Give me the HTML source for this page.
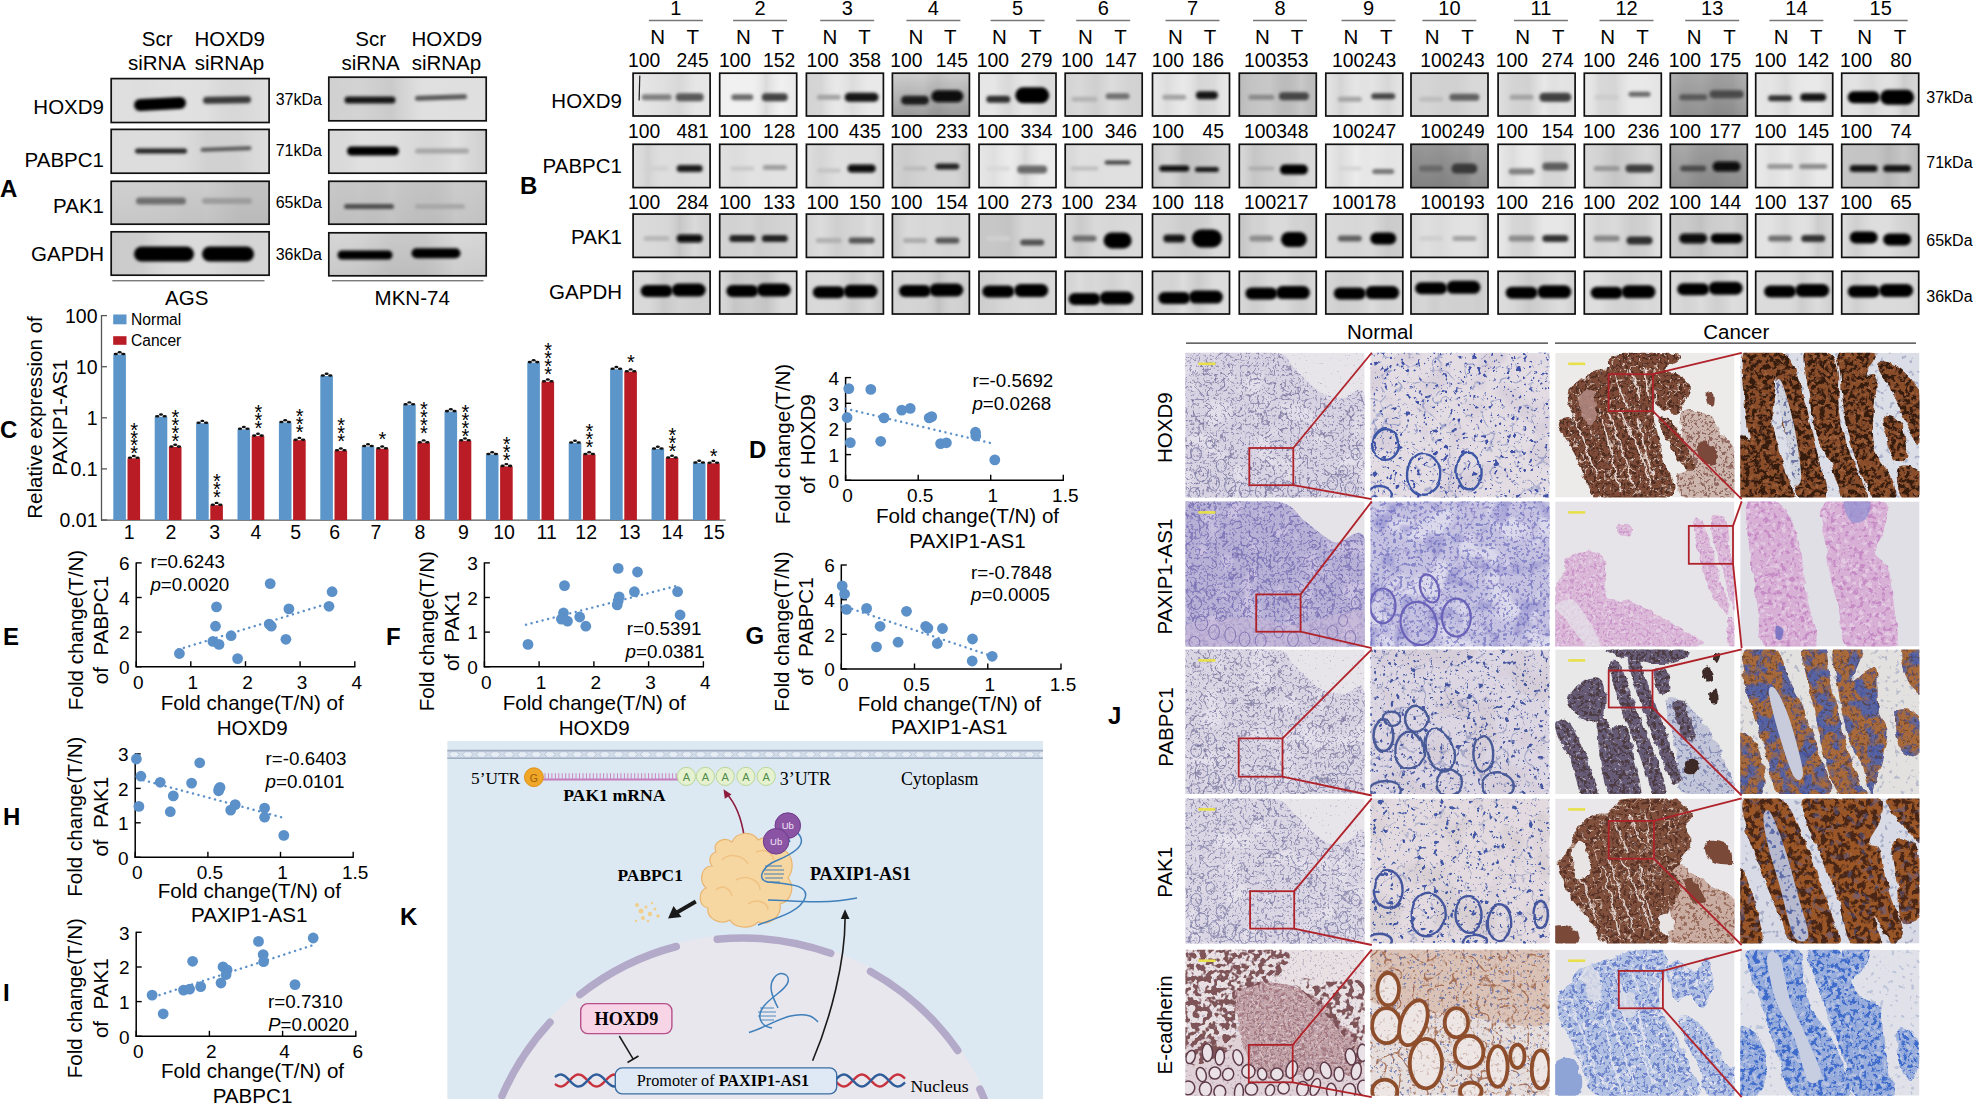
<!DOCTYPE html>
<html><head><meta charset="utf-8"><title>Figure</title><style>html,body{margin:0;padding:0;background:#fff;}svg{display:block;}</style></head><body>
<svg width="1973" height="1104" viewBox="0 0 1973 1104" font-family='"Liberation Sans", Arial, sans-serif'><defs><linearGradient id="ca0s" x1="0" y1="0" x2="1" y2="0"><stop offset="0.0" stop-color="#fff" stop-opacity="0.05"/><stop offset="0.2" stop-color="#fff" stop-opacity="0.00"/><stop offset="0.4" stop-color="#fff" stop-opacity="0.09"/><stop offset="0.6" stop-color="#fff" stop-opacity="0.07"/><stop offset="0.8" stop-color="#000" stop-opacity="0.03"/><stop offset="1.0" stop-color="#fff" stop-opacity="0.03"/></linearGradient>
<clipPath id="ca0"><rect x="110.4" y="77.8" width="159.5" height="45.5"/></clipPath>
<linearGradient id="ca1s" x1="0" y1="0" x2="1" y2="0"><stop offset="0.0" stop-color="#fff" stop-opacity="0.01"/><stop offset="0.2" stop-color="#fff" stop-opacity="0.03"/><stop offset="0.4" stop-color="#fff" stop-opacity="0.02"/><stop offset="0.6" stop-color="#000" stop-opacity="0.05"/><stop offset="0.8" stop-color="#000" stop-opacity="0.05"/><stop offset="1.0" stop-color="#fff" stop-opacity="0.02"/></linearGradient>
<clipPath id="ca1"><rect x="110.4" y="128.6" width="159.5" height="45.4"/></clipPath>
<linearGradient id="ca2g" x1="0" y1="0" x2="0" y2="1"><stop offset="0" stop-color="rgb(205,205,205)"/><stop offset="1" stop-color="rgb(195,195,195)"/></linearGradient>
<linearGradient id="ca2s" x1="0" y1="0" x2="1" y2="0"><stop offset="0.0" stop-color="#fff" stop-opacity="0.07"/><stop offset="0.2" stop-color="#fff" stop-opacity="0.06"/><stop offset="0.4" stop-color="#fff" stop-opacity="0.03"/><stop offset="0.6" stop-color="#000" stop-opacity="0.00"/><stop offset="0.8" stop-color="#000" stop-opacity="0.05"/><stop offset="1.0" stop-color="#000" stop-opacity="0.05"/></linearGradient>
<clipPath id="ca2"><rect x="110.4" y="180.5" width="159.5" height="44.5"/></clipPath>
<linearGradient id="ca3s" x1="0" y1="0" x2="1" y2="0"><stop offset="0.0" stop-color="#000" stop-opacity="0.07"/><stop offset="0.2" stop-color="#000" stop-opacity="0.06"/><stop offset="0.4" stop-color="#fff" stop-opacity="0.02"/><stop offset="0.6" stop-color="#fff" stop-opacity="0.04"/><stop offset="0.8" stop-color="#000" stop-opacity="0.03"/><stop offset="1.0" stop-color="#000" stop-opacity="0.02"/></linearGradient>
<clipPath id="ca3"><rect x="110.4" y="231.0" width="159.5" height="45.0"/></clipPath>
<linearGradient id="cm0s" x1="0" y1="0" x2="1" y2="0"><stop offset="0.0" stop-color="#000" stop-opacity="0.06"/><stop offset="0.2" stop-color="#000" stop-opacity="0.05"/><stop offset="0.4" stop-color="#000" stop-opacity="0.09"/><stop offset="0.6" stop-color="#fff" stop-opacity="0.06"/><stop offset="0.8" stop-color="#fff" stop-opacity="0.04"/><stop offset="1.0" stop-color="#fff" stop-opacity="0.02"/></linearGradient>
<clipPath id="cm0"><rect x="328.0" y="76.4" width="159.0" height="45.2"/></clipPath>
<linearGradient id="cm1s" x1="0" y1="0" x2="1" y2="0"><stop offset="0.0" stop-color="#000" stop-opacity="0.02"/><stop offset="0.2" stop-color="#fff" stop-opacity="0.06"/><stop offset="0.4" stop-color="#fff" stop-opacity="0.03"/><stop offset="0.6" stop-color="#000" stop-opacity="0.03"/><stop offset="0.8" stop-color="#fff" stop-opacity="0.08"/><stop offset="1.0" stop-color="#000" stop-opacity="0.07"/></linearGradient>
<clipPath id="cm1"><rect x="328.0" y="129.0" width="159.0" height="45.0"/></clipPath>
<linearGradient id="cm2g" x1="0" y1="0" x2="0" y2="1"><stop offset="0" stop-color="rgb(200,200,200)"/><stop offset="1" stop-color="rgb(192,192,192)"/></linearGradient>
<linearGradient id="cm2s" x1="0" y1="0" x2="1" y2="0"><stop offset="0.0" stop-color="#fff" stop-opacity="0.02"/><stop offset="0.2" stop-color="#000" stop-opacity="0.00"/><stop offset="0.4" stop-color="#fff" stop-opacity="0.05"/><stop offset="0.6" stop-color="#000" stop-opacity="0.02"/><stop offset="0.8" stop-color="#fff" stop-opacity="0.08"/><stop offset="1.0" stop-color="#fff" stop-opacity="0.02"/></linearGradient>
<clipPath id="cm2"><rect x="328.0" y="180.5" width="159.0" height="44.5"/></clipPath>
<linearGradient id="cm3g" x1="0" y1="0" x2="0" y2="1"><stop offset="0" stop-color="rgb(215,215,215)"/><stop offset="1" stop-color="rgb(200,200,200)"/></linearGradient>
<linearGradient id="cm3s" x1="0" y1="0" x2="1" y2="0"><stop offset="0.0" stop-color="#fff" stop-opacity="0.00"/><stop offset="0.2" stop-color="#000" stop-opacity="0.01"/><stop offset="0.4" stop-color="#000" stop-opacity="0.06"/><stop offset="0.6" stop-color="#000" stop-opacity="0.06"/><stop offset="0.8" stop-color="#fff" stop-opacity="0.07"/><stop offset="1.0" stop-color="#fff" stop-opacity="0.00"/></linearGradient>
<clipPath id="cm3"><rect x="328.0" y="232.0" width="159.0" height="44.6"/></clipPath>
<linearGradient id="cb0_0s" x1="0" y1="0" x2="1" y2="0"><stop offset="0.0" stop-color="#000" stop-opacity="0.00"/><stop offset="0.2" stop-color="#000" stop-opacity="0.02"/><stop offset="0.4" stop-color="#000" stop-opacity="0.04"/><stop offset="0.6" stop-color="#000" stop-opacity="0.07"/><stop offset="0.8" stop-color="#000" stop-opacity="0.01"/><stop offset="1.0" stop-color="#000" stop-opacity="0.01"/></linearGradient>
<clipPath id="cb0_0"><rect x="632.3" y="72.4" width="78.6" height="44.4"/></clipPath>
<linearGradient id="cb1_0s" x1="0" y1="0" x2="1" y2="0"><stop offset="0.0" stop-color="#fff" stop-opacity="0.01"/><stop offset="0.2" stop-color="#000" stop-opacity="0.06"/><stop offset="0.4" stop-color="#fff" stop-opacity="0.00"/><stop offset="0.6" stop-color="#000" stop-opacity="0.01"/><stop offset="0.8" stop-color="#fff" stop-opacity="0.01"/><stop offset="1.0" stop-color="#fff" stop-opacity="0.03"/></linearGradient>
<clipPath id="cb1_0"><rect x="632.3" y="143.5" width="78.6" height="44.9"/></clipPath>
<linearGradient id="cb2_0s" x1="0" y1="0" x2="1" y2="0"><stop offset="0.0" stop-color="#fff" stop-opacity="0.08"/><stop offset="0.2" stop-color="#fff" stop-opacity="0.07"/><stop offset="0.4" stop-color="#fff" stop-opacity="0.02"/><stop offset="0.6" stop-color="#000" stop-opacity="0.08"/><stop offset="0.8" stop-color="#fff" stop-opacity="0.07"/><stop offset="1.0" stop-color="#000" stop-opacity="0.02"/></linearGradient>
<clipPath id="cb2_0"><rect x="632.3" y="213.3" width="78.6" height="44.9"/></clipPath>
<linearGradient id="cb3_0s" x1="0" y1="0" x2="1" y2="0"><stop offset="0.0" stop-color="#fff" stop-opacity="0.04"/><stop offset="0.2" stop-color="#fff" stop-opacity="0.05"/><stop offset="0.4" stop-color="#000" stop-opacity="0.07"/><stop offset="0.6" stop-color="#000" stop-opacity="0.02"/><stop offset="0.8" stop-color="#000" stop-opacity="0.04"/><stop offset="1.0" stop-color="#000" stop-opacity="0.03"/></linearGradient>
<clipPath id="cb3_0"><rect x="632.3" y="270.5" width="78.6" height="44.3"/></clipPath>
<linearGradient id="cb0_1s" x1="0" y1="0" x2="1" y2="0"><stop offset="0.0" stop-color="#fff" stop-opacity="0.02"/><stop offset="0.2" stop-color="#fff" stop-opacity="0.05"/><stop offset="0.4" stop-color="#fff" stop-opacity="0.01"/><stop offset="0.6" stop-color="#000" stop-opacity="0.09"/><stop offset="0.8" stop-color="#fff" stop-opacity="0.04"/><stop offset="1.0" stop-color="#000" stop-opacity="0.03"/></linearGradient>
<clipPath id="cb0_1"><rect x="718.9" y="72.4" width="78.6" height="44.4"/></clipPath>
<linearGradient id="cb1_1s" x1="0" y1="0" x2="1" y2="0"><stop offset="0.0" stop-color="#000" stop-opacity="0.00"/><stop offset="0.2" stop-color="#000" stop-opacity="0.02"/><stop offset="0.4" stop-color="#fff" stop-opacity="0.03"/><stop offset="0.6" stop-color="#fff" stop-opacity="0.01"/><stop offset="0.8" stop-color="#fff" stop-opacity="0.04"/><stop offset="1.0" stop-color="#fff" stop-opacity="0.05"/></linearGradient>
<clipPath id="cb1_1"><rect x="718.9" y="143.5" width="78.6" height="44.9"/></clipPath>
<linearGradient id="cb2_1s" x1="0" y1="0" x2="1" y2="0"><stop offset="0.0" stop-color="#fff" stop-opacity="0.03"/><stop offset="0.2" stop-color="#fff" stop-opacity="0.00"/><stop offset="0.4" stop-color="#fff" stop-opacity="0.08"/><stop offset="0.6" stop-color="#000" stop-opacity="0.01"/><stop offset="0.8" stop-color="#fff" stop-opacity="0.02"/><stop offset="1.0" stop-color="#fff" stop-opacity="0.09"/></linearGradient>
<clipPath id="cb2_1"><rect x="718.9" y="213.3" width="78.6" height="44.9"/></clipPath>
<linearGradient id="cb3_1s" x1="0" y1="0" x2="1" y2="0"><stop offset="0.0" stop-color="#fff" stop-opacity="0.03"/><stop offset="0.2" stop-color="#000" stop-opacity="0.08"/><stop offset="0.4" stop-color="#000" stop-opacity="0.05"/><stop offset="0.6" stop-color="#000" stop-opacity="0.09"/><stop offset="0.8" stop-color="#fff" stop-opacity="0.09"/><stop offset="1.0" stop-color="#fff" stop-opacity="0.08"/></linearGradient>
<clipPath id="cb3_1"><rect x="718.9" y="270.5" width="78.6" height="44.3"/></clipPath>
<linearGradient id="cb0_2s" x1="0" y1="0" x2="1" y2="0"><stop offset="0.0" stop-color="#000" stop-opacity="0.09"/><stop offset="0.2" stop-color="#000" stop-opacity="0.08"/><stop offset="0.4" stop-color="#fff" stop-opacity="0.04"/><stop offset="0.6" stop-color="#000" stop-opacity="0.05"/><stop offset="0.8" stop-color="#fff" stop-opacity="0.04"/><stop offset="1.0" stop-color="#fff" stop-opacity="0.05"/></linearGradient>
<clipPath id="cb0_2"><rect x="805.6" y="72.4" width="78.6" height="44.4"/></clipPath>
<linearGradient id="cb1_2s" x1="0" y1="0" x2="1" y2="0"><stop offset="0.0" stop-color="#fff" stop-opacity="0.07"/><stop offset="0.2" stop-color="#000" stop-opacity="0.04"/><stop offset="0.4" stop-color="#fff" stop-opacity="0.04"/><stop offset="0.6" stop-color="#fff" stop-opacity="0.01"/><stop offset="0.8" stop-color="#fff" stop-opacity="0.01"/><stop offset="1.0" stop-color="#000" stop-opacity="0.05"/></linearGradient>
<clipPath id="cb1_2"><rect x="805.6" y="143.5" width="78.6" height="44.9"/></clipPath>
<linearGradient id="cb2_2s" x1="0" y1="0" x2="1" y2="0"><stop offset="0.0" stop-color="#000" stop-opacity="0.04"/><stop offset="0.2" stop-color="#000" stop-opacity="0.00"/><stop offset="0.4" stop-color="#000" stop-opacity="0.06"/><stop offset="0.6" stop-color="#000" stop-opacity="0.03"/><stop offset="0.8" stop-color="#fff" stop-opacity="0.08"/><stop offset="1.0" stop-color="#000" stop-opacity="0.01"/></linearGradient>
<clipPath id="cb2_2"><rect x="805.6" y="213.3" width="78.6" height="44.9"/></clipPath>
<linearGradient id="cb3_2s" x1="0" y1="0" x2="1" y2="0"><stop offset="0.0" stop-color="#fff" stop-opacity="0.01"/><stop offset="0.2" stop-color="#fff" stop-opacity="0.07"/><stop offset="0.4" stop-color="#fff" stop-opacity="0.04"/><stop offset="0.6" stop-color="#000" stop-opacity="0.06"/><stop offset="0.8" stop-color="#fff" stop-opacity="0.07"/><stop offset="1.0" stop-color="#000" stop-opacity="0.09"/></linearGradient>
<clipPath id="cb3_2"><rect x="805.6" y="270.5" width="78.6" height="44.3"/></clipPath>
<linearGradient id="cb0_3g" x1="0" y1="0" x2="0" y2="1"><stop offset="0" stop-color="rgb(205,205,205)"/><stop offset="1" stop-color="rgb(150,150,150)"/></linearGradient>
<linearGradient id="cb0_3s" x1="0" y1="0" x2="1" y2="0"><stop offset="0.0" stop-color="#fff" stop-opacity="0.07"/><stop offset="0.2" stop-color="#fff" stop-opacity="0.02"/><stop offset="0.4" stop-color="#fff" stop-opacity="0.07"/><stop offset="0.6" stop-color="#000" stop-opacity="0.04"/><stop offset="0.8" stop-color="#fff" stop-opacity="0.01"/><stop offset="1.0" stop-color="#000" stop-opacity="0.02"/></linearGradient>
<clipPath id="cb0_3"><rect x="891.6" y="72.4" width="78.6" height="44.4"/></clipPath>
<linearGradient id="cb1_3s" x1="0" y1="0" x2="1" y2="0"><stop offset="0.0" stop-color="#fff" stop-opacity="0.06"/><stop offset="0.2" stop-color="#000" stop-opacity="0.03"/><stop offset="0.4" stop-color="#fff" stop-opacity="0.02"/><stop offset="0.6" stop-color="#fff" stop-opacity="0.04"/><stop offset="0.8" stop-color="#fff" stop-opacity="0.04"/><stop offset="1.0" stop-color="#000" stop-opacity="0.09"/></linearGradient>
<clipPath id="cb1_3"><rect x="891.6" y="143.5" width="78.6" height="44.9"/></clipPath>
<linearGradient id="cb2_3s" x1="0" y1="0" x2="1" y2="0"><stop offset="0.0" stop-color="#000" stop-opacity="0.07"/><stop offset="0.2" stop-color="#fff" stop-opacity="0.08"/><stop offset="0.4" stop-color="#fff" stop-opacity="0.01"/><stop offset="0.6" stop-color="#fff" stop-opacity="0.03"/><stop offset="0.8" stop-color="#000" stop-opacity="0.01"/><stop offset="1.0" stop-color="#fff" stop-opacity="0.02"/></linearGradient>
<clipPath id="cb2_3"><rect x="891.6" y="213.3" width="78.6" height="44.9"/></clipPath>
<linearGradient id="cb3_3s" x1="0" y1="0" x2="1" y2="0"><stop offset="0.0" stop-color="#fff" stop-opacity="0.02"/><stop offset="0.2" stop-color="#fff" stop-opacity="0.07"/><stop offset="0.4" stop-color="#fff" stop-opacity="0.02"/><stop offset="0.6" stop-color="#000" stop-opacity="0.08"/><stop offset="0.8" stop-color="#fff" stop-opacity="0.01"/><stop offset="1.0" stop-color="#000" stop-opacity="0.04"/></linearGradient>
<clipPath id="cb3_3"><rect x="891.6" y="270.5" width="78.6" height="44.3"/></clipPath>
<linearGradient id="cb0_4s" x1="0" y1="0" x2="1" y2="0"><stop offset="0.0" stop-color="#fff" stop-opacity="0.05"/><stop offset="0.2" stop-color="#fff" stop-opacity="0.08"/><stop offset="0.4" stop-color="#000" stop-opacity="0.05"/><stop offset="0.6" stop-color="#fff" stop-opacity="0.01"/><stop offset="0.8" stop-color="#000" stop-opacity="0.04"/><stop offset="1.0" stop-color="#000" stop-opacity="0.04"/></linearGradient>
<clipPath id="cb0_4"><rect x="978.2" y="72.4" width="78.6" height="44.4"/></clipPath>
<linearGradient id="cb1_4s" x1="0" y1="0" x2="1" y2="0"><stop offset="0.0" stop-color="#000" stop-opacity="0.02"/><stop offset="0.2" stop-color="#000" stop-opacity="0.05"/><stop offset="0.4" stop-color="#fff" stop-opacity="0.03"/><stop offset="0.6" stop-color="#000" stop-opacity="0.08"/><stop offset="0.8" stop-color="#fff" stop-opacity="0.04"/><stop offset="1.0" stop-color="#fff" stop-opacity="0.00"/></linearGradient>
<clipPath id="cb1_4"><rect x="978.2" y="143.5" width="78.6" height="44.9"/></clipPath>
<linearGradient id="cb2_4s" x1="0" y1="0" x2="1" y2="0"><stop offset="0.0" stop-color="#000" stop-opacity="0.06"/><stop offset="0.2" stop-color="#000" stop-opacity="0.06"/><stop offset="0.4" stop-color="#000" stop-opacity="0.08"/><stop offset="0.6" stop-color="#fff" stop-opacity="0.05"/><stop offset="0.8" stop-color="#fff" stop-opacity="0.01"/><stop offset="1.0" stop-color="#fff" stop-opacity="0.00"/></linearGradient>
<clipPath id="cb2_4"><rect x="978.2" y="213.3" width="78.6" height="44.9"/></clipPath>
<linearGradient id="cb3_4s" x1="0" y1="0" x2="1" y2="0"><stop offset="0.0" stop-color="#000" stop-opacity="0.05"/><stop offset="0.2" stop-color="#000" stop-opacity="0.03"/><stop offset="0.4" stop-color="#fff" stop-opacity="0.01"/><stop offset="0.6" stop-color="#fff" stop-opacity="0.07"/><stop offset="0.8" stop-color="#fff" stop-opacity="0.02"/><stop offset="1.0" stop-color="#fff" stop-opacity="0.02"/></linearGradient>
<clipPath id="cb3_4"><rect x="978.2" y="270.5" width="78.6" height="44.3"/></clipPath>
<linearGradient id="cb0_5s" x1="0" y1="0" x2="1" y2="0"><stop offset="0.0" stop-color="#000" stop-opacity="0.06"/><stop offset="0.2" stop-color="#000" stop-opacity="0.04"/><stop offset="0.4" stop-color="#000" stop-opacity="0.08"/><stop offset="0.6" stop-color="#000" stop-opacity="0.02"/><stop offset="0.8" stop-color="#000" stop-opacity="0.06"/><stop offset="1.0" stop-color="#000" stop-opacity="0.07"/></linearGradient>
<clipPath id="cb0_5"><rect x="1064.4" y="72.4" width="78.6" height="44.4"/></clipPath>
<linearGradient id="cb1_5s" x1="0" y1="0" x2="1" y2="0"><stop offset="0.0" stop-color="#000" stop-opacity="0.02"/><stop offset="0.2" stop-color="#fff" stop-opacity="0.07"/><stop offset="0.4" stop-color="#fff" stop-opacity="0.03"/><stop offset="0.6" stop-color="#fff" stop-opacity="0.07"/><stop offset="0.8" stop-color="#fff" stop-opacity="0.08"/><stop offset="1.0" stop-color="#fff" stop-opacity="0.04"/></linearGradient>
<clipPath id="cb1_5"><rect x="1064.4" y="143.5" width="78.6" height="44.9"/></clipPath>
<linearGradient id="cb2_5s" x1="0" y1="0" x2="1" y2="0"><stop offset="0.0" stop-color="#fff" stop-opacity="0.04"/><stop offset="0.2" stop-color="#000" stop-opacity="0.06"/><stop offset="0.4" stop-color="#fff" stop-opacity="0.07"/><stop offset="0.6" stop-color="#fff" stop-opacity="0.00"/><stop offset="0.8" stop-color="#fff" stop-opacity="0.06"/><stop offset="1.0" stop-color="#fff" stop-opacity="0.08"/></linearGradient>
<clipPath id="cb2_5"><rect x="1064.4" y="213.3" width="78.6" height="44.9"/></clipPath>
<linearGradient id="cb3_5s" x1="0" y1="0" x2="1" y2="0"><stop offset="0.0" stop-color="#000" stop-opacity="0.03"/><stop offset="0.2" stop-color="#fff" stop-opacity="0.06"/><stop offset="0.4" stop-color="#000" stop-opacity="0.01"/><stop offset="0.6" stop-color="#000" stop-opacity="0.04"/><stop offset="0.8" stop-color="#fff" stop-opacity="0.05"/><stop offset="1.0" stop-color="#000" stop-opacity="0.01"/></linearGradient>
<clipPath id="cb3_5"><rect x="1064.4" y="270.5" width="78.6" height="44.3"/></clipPath>
<linearGradient id="cb0_6s" x1="0" y1="0" x2="1" y2="0"><stop offset="0.0" stop-color="#fff" stop-opacity="0.03"/><stop offset="0.2" stop-color="#000" stop-opacity="0.05"/><stop offset="0.4" stop-color="#fff" stop-opacity="0.03"/><stop offset="0.6" stop-color="#000" stop-opacity="0.08"/><stop offset="0.8" stop-color="#000" stop-opacity="0.06"/><stop offset="1.0" stop-color="#fff" stop-opacity="0.01"/></linearGradient>
<clipPath id="cb0_6"><rect x="1151.7" y="72.4" width="78.6" height="44.4"/></clipPath>
<linearGradient id="cb1_6s" x1="0" y1="0" x2="1" y2="0"><stop offset="0.0" stop-color="#000" stop-opacity="0.05"/><stop offset="0.2" stop-color="#fff" stop-opacity="0.02"/><stop offset="0.4" stop-color="#000" stop-opacity="0.09"/><stop offset="0.6" stop-color="#000" stop-opacity="0.07"/><stop offset="0.8" stop-color="#000" stop-opacity="0.04"/><stop offset="1.0" stop-color="#000" stop-opacity="0.00"/></linearGradient>
<clipPath id="cb1_6"><rect x="1151.7" y="143.5" width="78.6" height="44.9"/></clipPath>
<linearGradient id="cb2_6s" x1="0" y1="0" x2="1" y2="0"><stop offset="0.0" stop-color="#fff" stop-opacity="0.02"/><stop offset="0.2" stop-color="#000" stop-opacity="0.01"/><stop offset="0.4" stop-color="#000" stop-opacity="0.05"/><stop offset="0.6" stop-color="#000" stop-opacity="0.04"/><stop offset="0.8" stop-color="#fff" stop-opacity="0.08"/><stop offset="1.0" stop-color="#fff" stop-opacity="0.04"/></linearGradient>
<clipPath id="cb2_6"><rect x="1151.7" y="213.3" width="78.6" height="44.9"/></clipPath>
<linearGradient id="cb3_6s" x1="0" y1="0" x2="1" y2="0"><stop offset="0.0" stop-color="#000" stop-opacity="0.02"/><stop offset="0.2" stop-color="#000" stop-opacity="0.03"/><stop offset="0.4" stop-color="#fff" stop-opacity="0.09"/><stop offset="0.6" stop-color="#000" stop-opacity="0.07"/><stop offset="0.8" stop-color="#fff" stop-opacity="0.06"/><stop offset="1.0" stop-color="#fff" stop-opacity="0.06"/></linearGradient>
<clipPath id="cb3_6"><rect x="1151.7" y="270.5" width="78.6" height="44.3"/></clipPath>
<linearGradient id="cb0_7s" x1="0" y1="0" x2="1" y2="0"><stop offset="0.0" stop-color="#000" stop-opacity="0.05"/><stop offset="0.2" stop-color="#fff" stop-opacity="0.03"/><stop offset="0.4" stop-color="#fff" stop-opacity="0.08"/><stop offset="0.6" stop-color="#000" stop-opacity="0.04"/><stop offset="0.8" stop-color="#fff" stop-opacity="0.09"/><stop offset="1.0" stop-color="#000" stop-opacity="0.03"/></linearGradient>
<clipPath id="cb0_7"><rect x="1238.5" y="72.4" width="78.6" height="44.4"/></clipPath>
<linearGradient id="cb1_7s" x1="0" y1="0" x2="1" y2="0"><stop offset="0.0" stop-color="#fff" stop-opacity="0.05"/><stop offset="0.2" stop-color="#000" stop-opacity="0.08"/><stop offset="0.4" stop-color="#000" stop-opacity="0.04"/><stop offset="0.6" stop-color="#000" stop-opacity="0.03"/><stop offset="0.8" stop-color="#fff" stop-opacity="0.07"/><stop offset="1.0" stop-color="#fff" stop-opacity="0.04"/></linearGradient>
<clipPath id="cb1_7"><rect x="1238.5" y="143.5" width="78.6" height="44.9"/></clipPath>
<linearGradient id="cb2_7s" x1="0" y1="0" x2="1" y2="0"><stop offset="0.0" stop-color="#000" stop-opacity="0.09"/><stop offset="0.2" stop-color="#000" stop-opacity="0.02"/><stop offset="0.4" stop-color="#fff" stop-opacity="0.07"/><stop offset="0.6" stop-color="#fff" stop-opacity="0.08"/><stop offset="0.8" stop-color="#000" stop-opacity="0.02"/><stop offset="1.0" stop-color="#000" stop-opacity="0.05"/></linearGradient>
<clipPath id="cb2_7"><rect x="1238.5" y="213.3" width="78.6" height="44.9"/></clipPath>
<linearGradient id="cb3_7s" x1="0" y1="0" x2="1" y2="0"><stop offset="0.0" stop-color="#fff" stop-opacity="0.04"/><stop offset="0.2" stop-color="#000" stop-opacity="0.04"/><stop offset="0.4" stop-color="#fff" stop-opacity="0.06"/><stop offset="0.6" stop-color="#fff" stop-opacity="0.07"/><stop offset="0.8" stop-color="#000" stop-opacity="0.04"/><stop offset="1.0" stop-color="#fff" stop-opacity="0.04"/></linearGradient>
<clipPath id="cb3_7"><rect x="1238.5" y="270.5" width="78.6" height="44.3"/></clipPath>
<linearGradient id="cb0_8s" x1="0" y1="0" x2="1" y2="0"><stop offset="0.0" stop-color="#fff" stop-opacity="0.04"/><stop offset="0.2" stop-color="#000" stop-opacity="0.07"/><stop offset="0.4" stop-color="#fff" stop-opacity="0.04"/><stop offset="0.6" stop-color="#000" stop-opacity="0.00"/><stop offset="0.8" stop-color="#000" stop-opacity="0.06"/><stop offset="1.0" stop-color="#fff" stop-opacity="0.03"/></linearGradient>
<clipPath id="cb0_8"><rect x="1325.0" y="72.4" width="78.6" height="44.4"/></clipPath>
<linearGradient id="cb1_8s" x1="0" y1="0" x2="1" y2="0"><stop offset="0.0" stop-color="#fff" stop-opacity="0.07"/><stop offset="0.2" stop-color="#000" stop-opacity="0.06"/><stop offset="0.4" stop-color="#fff" stop-opacity="0.07"/><stop offset="0.6" stop-color="#000" stop-opacity="0.01"/><stop offset="0.8" stop-color="#000" stop-opacity="0.03"/><stop offset="1.0" stop-color="#000" stop-opacity="0.02"/></linearGradient>
<clipPath id="cb1_8"><rect x="1325.0" y="143.5" width="78.6" height="44.9"/></clipPath>
<linearGradient id="cb2_8s" x1="0" y1="0" x2="1" y2="0"><stop offset="0.0" stop-color="#fff" stop-opacity="0.07"/><stop offset="0.2" stop-color="#fff" stop-opacity="0.05"/><stop offset="0.4" stop-color="#fff" stop-opacity="0.01"/><stop offset="0.6" stop-color="#fff" stop-opacity="0.06"/><stop offset="0.8" stop-color="#000" stop-opacity="0.06"/><stop offset="1.0" stop-color="#000" stop-opacity="0.04"/></linearGradient>
<clipPath id="cb2_8"><rect x="1325.0" y="213.3" width="78.6" height="44.9"/></clipPath>
<linearGradient id="cb3_8s" x1="0" y1="0" x2="1" y2="0"><stop offset="0.0" stop-color="#000" stop-opacity="0.02"/><stop offset="0.2" stop-color="#000" stop-opacity="0.05"/><stop offset="0.4" stop-color="#000" stop-opacity="0.04"/><stop offset="0.6" stop-color="#fff" stop-opacity="0.07"/><stop offset="0.8" stop-color="#000" stop-opacity="0.03"/><stop offset="1.0" stop-color="#000" stop-opacity="0.01"/></linearGradient>
<clipPath id="cb3_8"><rect x="1325.0" y="270.5" width="78.6" height="44.3"/></clipPath>
<linearGradient id="cb0_9s" x1="0" y1="0" x2="1" y2="0"><stop offset="0.0" stop-color="#000" stop-opacity="0.02"/><stop offset="0.2" stop-color="#000" stop-opacity="0.01"/><stop offset="0.4" stop-color="#000" stop-opacity="0.03"/><stop offset="0.6" stop-color="#000" stop-opacity="0.03"/><stop offset="0.8" stop-color="#fff" stop-opacity="0.03"/><stop offset="1.0" stop-color="#fff" stop-opacity="0.02"/></linearGradient>
<clipPath id="cb0_9"><rect x="1410.2" y="72.4" width="78.6" height="44.4"/></clipPath>
<linearGradient id="cb1_9g" x1="0" y1="0" x2="0" y2="1"><stop offset="0" stop-color="rgb(160,160,160)"/><stop offset="1" stop-color="rgb(135,135,135)"/></linearGradient>
<linearGradient id="cb1_9s" x1="0" y1="0" x2="1" y2="0"><stop offset="0.0" stop-color="#000" stop-opacity="0.06"/><stop offset="0.2" stop-color="#000" stop-opacity="0.04"/><stop offset="0.4" stop-color="#000" stop-opacity="0.06"/><stop offset="0.6" stop-color="#000" stop-opacity="0.01"/><stop offset="0.8" stop-color="#fff" stop-opacity="0.09"/><stop offset="1.0" stop-color="#fff" stop-opacity="0.05"/></linearGradient>
<clipPath id="cb1_9"><rect x="1410.2" y="143.5" width="78.6" height="44.9"/></clipPath>
<linearGradient id="cb2_9s" x1="0" y1="0" x2="1" y2="0"><stop offset="0.0" stop-color="#000" stop-opacity="0.04"/><stop offset="0.2" stop-color="#000" stop-opacity="0.01"/><stop offset="0.4" stop-color="#000" stop-opacity="0.03"/><stop offset="0.6" stop-color="#fff" stop-opacity="0.01"/><stop offset="0.8" stop-color="#fff" stop-opacity="0.04"/><stop offset="1.0" stop-color="#000" stop-opacity="0.08"/></linearGradient>
<clipPath id="cb2_9"><rect x="1410.2" y="213.3" width="78.6" height="44.9"/></clipPath>
<linearGradient id="cb3_9s" x1="0" y1="0" x2="1" y2="0"><stop offset="0.0" stop-color="#fff" stop-opacity="0.00"/><stop offset="0.2" stop-color="#fff" stop-opacity="0.08"/><stop offset="0.4" stop-color="#000" stop-opacity="0.00"/><stop offset="0.6" stop-color="#000" stop-opacity="0.01"/><stop offset="0.8" stop-color="#000" stop-opacity="0.01"/><stop offset="1.0" stop-color="#fff" stop-opacity="0.08"/></linearGradient>
<clipPath id="cb3_9"><rect x="1410.2" y="270.5" width="78.6" height="44.3"/></clipPath>
<linearGradient id="cb0_10s" x1="0" y1="0" x2="1" y2="0"><stop offset="0.0" stop-color="#000" stop-opacity="0.03"/><stop offset="0.2" stop-color="#000" stop-opacity="0.08"/><stop offset="0.4" stop-color="#000" stop-opacity="0.09"/><stop offset="0.6" stop-color="#fff" stop-opacity="0.08"/><stop offset="0.8" stop-color="#000" stop-opacity="0.01"/><stop offset="1.0" stop-color="#000" stop-opacity="0.02"/></linearGradient>
<clipPath id="cb0_10"><rect x="1497.3" y="72.4" width="78.6" height="44.4"/></clipPath>
<linearGradient id="cb1_10s" x1="0" y1="0" x2="1" y2="0"><stop offset="0.0" stop-color="#fff" stop-opacity="0.06"/><stop offset="0.2" stop-color="#000" stop-opacity="0.05"/><stop offset="0.4" stop-color="#fff" stop-opacity="0.00"/><stop offset="0.6" stop-color="#000" stop-opacity="0.08"/><stop offset="0.8" stop-color="#000" stop-opacity="0.08"/><stop offset="1.0" stop-color="#000" stop-opacity="0.01"/></linearGradient>
<clipPath id="cb1_10"><rect x="1497.3" y="143.5" width="78.6" height="44.9"/></clipPath>
<linearGradient id="cb2_10s" x1="0" y1="0" x2="1" y2="0"><stop offset="0.0" stop-color="#fff" stop-opacity="0.00"/><stop offset="0.2" stop-color="#000" stop-opacity="0.07"/><stop offset="0.4" stop-color="#000" stop-opacity="0.08"/><stop offset="0.6" stop-color="#fff" stop-opacity="0.06"/><stop offset="0.8" stop-color="#fff" stop-opacity="0.02"/><stop offset="1.0" stop-color="#000" stop-opacity="0.03"/></linearGradient>
<clipPath id="cb2_10"><rect x="1497.3" y="213.3" width="78.6" height="44.9"/></clipPath>
<linearGradient id="cb3_10s" x1="0" y1="0" x2="1" y2="0"><stop offset="0.0" stop-color="#fff" stop-opacity="0.01"/><stop offset="0.2" stop-color="#000" stop-opacity="0.02"/><stop offset="0.4" stop-color="#000" stop-opacity="0.08"/><stop offset="0.6" stop-color="#000" stop-opacity="0.04"/><stop offset="0.8" stop-color="#fff" stop-opacity="0.03"/><stop offset="1.0" stop-color="#000" stop-opacity="0.07"/></linearGradient>
<clipPath id="cb3_10"><rect x="1497.3" y="270.5" width="78.6" height="44.3"/></clipPath>
<linearGradient id="cb0_11s" x1="0" y1="0" x2="1" y2="0"><stop offset="0.0" stop-color="#fff" stop-opacity="0.00"/><stop offset="0.2" stop-color="#000" stop-opacity="0.07"/><stop offset="0.4" stop-color="#000" stop-opacity="0.08"/><stop offset="0.6" stop-color="#fff" stop-opacity="0.06"/><stop offset="0.8" stop-color="#fff" stop-opacity="0.02"/><stop offset="1.0" stop-color="#000" stop-opacity="0.03"/></linearGradient>
<clipPath id="cb0_11"><rect x="1583.5" y="72.4" width="78.6" height="44.4"/></clipPath>
<linearGradient id="cb1_11s" x1="0" y1="0" x2="1" y2="0"><stop offset="0.0" stop-color="#fff" stop-opacity="0.01"/><stop offset="0.2" stop-color="#000" stop-opacity="0.02"/><stop offset="0.4" stop-color="#000" stop-opacity="0.08"/><stop offset="0.6" stop-color="#000" stop-opacity="0.04"/><stop offset="0.8" stop-color="#fff" stop-opacity="0.03"/><stop offset="1.0" stop-color="#000" stop-opacity="0.07"/></linearGradient>
<clipPath id="cb1_11"><rect x="1583.5" y="143.5" width="78.6" height="44.9"/></clipPath>
<linearGradient id="cb2_11s" x1="0" y1="0" x2="1" y2="0"><stop offset="0.0" stop-color="#fff" stop-opacity="0.07"/><stop offset="0.2" stop-color="#000" stop-opacity="0.05"/><stop offset="0.4" stop-color="#000" stop-opacity="0.03"/><stop offset="0.6" stop-color="#000" stop-opacity="0.09"/><stop offset="0.8" stop-color="#000" stop-opacity="0.07"/><stop offset="1.0" stop-color="#fff" stop-opacity="0.04"/></linearGradient>
<clipPath id="cb2_11"><rect x="1583.5" y="213.3" width="78.6" height="44.9"/></clipPath>
<linearGradient id="cb3_11s" x1="0" y1="0" x2="1" y2="0"><stop offset="0.0" stop-color="#fff" stop-opacity="0.04"/><stop offset="0.2" stop-color="#fff" stop-opacity="0.06"/><stop offset="0.4" stop-color="#000" stop-opacity="0.04"/><stop offset="0.6" stop-color="#000" stop-opacity="0.05"/><stop offset="0.8" stop-color="#000" stop-opacity="0.01"/><stop offset="1.0" stop-color="#fff" stop-opacity="0.07"/></linearGradient>
<clipPath id="cb3_11"><rect x="1583.5" y="270.5" width="78.6" height="44.3"/></clipPath>
<linearGradient id="cb0_12g" x1="0" y1="0" x2="0" y2="1"><stop offset="0" stop-color="rgb(175,175,175)"/><stop offset="1" stop-color="rgb(150,150,150)"/></linearGradient>
<linearGradient id="cb0_12s" x1="0" y1="0" x2="1" y2="0"><stop offset="0.0" stop-color="#fff" stop-opacity="0.07"/><stop offset="0.2" stop-color="#000" stop-opacity="0.05"/><stop offset="0.4" stop-color="#000" stop-opacity="0.03"/><stop offset="0.6" stop-color="#000" stop-opacity="0.09"/><stop offset="0.8" stop-color="#000" stop-opacity="0.07"/><stop offset="1.0" stop-color="#fff" stop-opacity="0.04"/></linearGradient>
<clipPath id="cb0_12"><rect x="1669.5" y="72.4" width="78.6" height="44.4"/></clipPath>
<linearGradient id="cb1_12g" x1="0" y1="0" x2="0" y2="1"><stop offset="0" stop-color="rgb(165,165,165)"/><stop offset="1" stop-color="rgb(140,140,140)"/></linearGradient>
<linearGradient id="cb1_12s" x1="0" y1="0" x2="1" y2="0"><stop offset="0.0" stop-color="#fff" stop-opacity="0.04"/><stop offset="0.2" stop-color="#fff" stop-opacity="0.06"/><stop offset="0.4" stop-color="#000" stop-opacity="0.04"/><stop offset="0.6" stop-color="#000" stop-opacity="0.05"/><stop offset="0.8" stop-color="#000" stop-opacity="0.01"/><stop offset="1.0" stop-color="#fff" stop-opacity="0.07"/></linearGradient>
<clipPath id="cb1_12"><rect x="1669.5" y="143.5" width="78.6" height="44.9"/></clipPath>
<linearGradient id="cb2_12s" x1="0" y1="0" x2="1" y2="0"><stop offset="0.0" stop-color="#fff" stop-opacity="0.06"/><stop offset="0.2" stop-color="#000" stop-opacity="0.01"/><stop offset="0.4" stop-color="#000" stop-opacity="0.06"/><stop offset="0.6" stop-color="#fff" stop-opacity="0.01"/><stop offset="0.8" stop-color="#fff" stop-opacity="0.07"/><stop offset="1.0" stop-color="#000" stop-opacity="0.04"/></linearGradient>
<clipPath id="cb2_12"><rect x="1669.5" y="213.3" width="78.6" height="44.9"/></clipPath>
<linearGradient id="cb3_12s" x1="0" y1="0" x2="1" y2="0"><stop offset="0.0" stop-color="#fff" stop-opacity="0.00"/><stop offset="0.2" stop-color="#000" stop-opacity="0.03"/><stop offset="0.4" stop-color="#fff" stop-opacity="0.06"/><stop offset="0.6" stop-color="#000" stop-opacity="0.05"/><stop offset="0.8" stop-color="#fff" stop-opacity="0.08"/><stop offset="1.0" stop-color="#fff" stop-opacity="0.01"/></linearGradient>
<clipPath id="cb3_12"><rect x="1669.5" y="270.5" width="78.6" height="44.3"/></clipPath>
<linearGradient id="cb0_13s" x1="0" y1="0" x2="1" y2="0"><stop offset="0.0" stop-color="#fff" stop-opacity="0.06"/><stop offset="0.2" stop-color="#000" stop-opacity="0.01"/><stop offset="0.4" stop-color="#000" stop-opacity="0.06"/><stop offset="0.6" stop-color="#fff" stop-opacity="0.01"/><stop offset="0.8" stop-color="#fff" stop-opacity="0.07"/><stop offset="1.0" stop-color="#000" stop-opacity="0.04"/></linearGradient>
<clipPath id="cb0_13"><rect x="1754.9" y="72.4" width="78.6" height="44.4"/></clipPath>
<linearGradient id="cb1_13s" x1="0" y1="0" x2="1" y2="0"><stop offset="0.0" stop-color="#fff" stop-opacity="0.00"/><stop offset="0.2" stop-color="#000" stop-opacity="0.03"/><stop offset="0.4" stop-color="#fff" stop-opacity="0.06"/><stop offset="0.6" stop-color="#000" stop-opacity="0.05"/><stop offset="0.8" stop-color="#fff" stop-opacity="0.08"/><stop offset="1.0" stop-color="#fff" stop-opacity="0.01"/></linearGradient>
<clipPath id="cb1_13"><rect x="1754.9" y="143.5" width="78.6" height="44.9"/></clipPath>
<linearGradient id="cb2_13s" x1="0" y1="0" x2="1" y2="0"><stop offset="0.0" stop-color="#fff" stop-opacity="0.04"/><stop offset="0.2" stop-color="#fff" stop-opacity="0.06"/><stop offset="0.4" stop-color="#000" stop-opacity="0.04"/><stop offset="0.6" stop-color="#fff" stop-opacity="0.01"/><stop offset="0.8" stop-color="#000" stop-opacity="0.09"/><stop offset="1.0" stop-color="#000" stop-opacity="0.04"/></linearGradient>
<clipPath id="cb2_13"><rect x="1754.9" y="213.3" width="78.6" height="44.9"/></clipPath>
<linearGradient id="cb3_13s" x1="0" y1="0" x2="1" y2="0"><stop offset="0.0" stop-color="#fff" stop-opacity="0.06"/><stop offset="0.2" stop-color="#fff" stop-opacity="0.02"/><stop offset="0.4" stop-color="#fff" stop-opacity="0.02"/><stop offset="0.6" stop-color="#000" stop-opacity="0.06"/><stop offset="0.8" stop-color="#fff" stop-opacity="0.06"/><stop offset="1.0" stop-color="#000" stop-opacity="0.06"/></linearGradient>
<clipPath id="cb3_13"><rect x="1754.9" y="270.5" width="78.6" height="44.3"/></clipPath>
<linearGradient id="cb0_14s" x1="0" y1="0" x2="1" y2="0"><stop offset="0.0" stop-color="#fff" stop-opacity="0.04"/><stop offset="0.2" stop-color="#fff" stop-opacity="0.06"/><stop offset="0.4" stop-color="#000" stop-opacity="0.04"/><stop offset="0.6" stop-color="#fff" stop-opacity="0.01"/><stop offset="0.8" stop-color="#000" stop-opacity="0.09"/><stop offset="1.0" stop-color="#000" stop-opacity="0.04"/></linearGradient>
<clipPath id="cb0_14"><rect x="1840.9" y="72.4" width="78.6" height="44.4"/></clipPath>
<linearGradient id="cb1_14s" x1="0" y1="0" x2="1" y2="0"><stop offset="0.0" stop-color="#fff" stop-opacity="0.06"/><stop offset="0.2" stop-color="#fff" stop-opacity="0.02"/><stop offset="0.4" stop-color="#fff" stop-opacity="0.02"/><stop offset="0.6" stop-color="#000" stop-opacity="0.06"/><stop offset="0.8" stop-color="#fff" stop-opacity="0.06"/><stop offset="1.0" stop-color="#000" stop-opacity="0.06"/></linearGradient>
<clipPath id="cb1_14"><rect x="1840.9" y="143.5" width="78.6" height="44.9"/></clipPath>
<linearGradient id="cb2_14s" x1="0" y1="0" x2="1" y2="0"><stop offset="0.0" stop-color="#fff" stop-opacity="0.06"/><stop offset="0.2" stop-color="#000" stop-opacity="0.06"/><stop offset="0.4" stop-color="#fff" stop-opacity="0.03"/><stop offset="0.6" stop-color="#fff" stop-opacity="0.06"/><stop offset="0.8" stop-color="#000" stop-opacity="0.04"/><stop offset="1.0" stop-color="#000" stop-opacity="0.07"/></linearGradient>
<clipPath id="cb2_14"><rect x="1840.9" y="213.3" width="78.6" height="44.9"/></clipPath>
<linearGradient id="cb3_14s" x1="0" y1="0" x2="1" y2="0"><stop offset="0.0" stop-color="#fff" stop-opacity="0.01"/><stop offset="0.2" stop-color="#000" stop-opacity="0.05"/><stop offset="0.4" stop-color="#fff" stop-opacity="0.03"/><stop offset="0.6" stop-color="#fff" stop-opacity="0.02"/><stop offset="0.8" stop-color="#fff" stop-opacity="0.01"/><stop offset="1.0" stop-color="#000" stop-opacity="0.04"/></linearGradient>
<clipPath id="cb3_14"><rect x="1840.9" y="270.5" width="78.6" height="44.3"/></clipPath>
<clipPath id="kclip"><rect x="447.2" y="741" width="595.8" height="358"/></clipPath>
<pattern id="memb" x="447.2" y="750.3" width="13.7" height="8.4" patternUnits="userSpaceOnUse"><path d="M1.5 4.2 L4.5 1.3 L9.2 1.3 L12.2 4.2 L9.2 7.1 L4.5 7.1 Z" fill="#e6edf5" stroke="#b3bfd1" stroke-width="0.9"/></pattern>
<clipPath id="jt00"><rect x="1185.4" y="352.8" width="179.3" height="144.8"/></clipPath>
<filter id="sp0" x="0" y="0" width="1" height="1" color-interpolation-filters="sRGB"><feTurbulence type="fractalNoise" baseFrequency="0.04" numOctaves="2" seed="6"/><feColorMatrix type="matrix" values="0 0 0 0 0.922 0 0 0 0 0.910 0 0 0 0 0.941 6 0 0 0 -3.2"/></filter>
<clipPath id="jt00c1"><path d="M1185.4 352.8 C1199.7 329.6 1257.8 350.5 1275.1 352.8 C1292.3 355.1 1285.8 361.0 1293.0 367.3 C1300.2 373.5 1311.8 387.0 1319.9 391.9 C1327.9 396.8 1336.0 397.0 1343.2 397.7 C1350.4 398.4 1361.3 380.3 1364.7 396.2 C1368.1 412.2 1393.4 481.4 1364.7 497.6 C1336.0 513.8 1214.1 520.8 1185.4 497.6 C1156.7 474.4 1171.1 376.0 1185.4 352.8Z "/></clipPath>
<filter id="sp1" x="0" y="0" width="1" height="1" color-interpolation-filters="sRGB"><feTurbulence type="turbulence" baseFrequency="0.12" numOctaves="2" seed="3"/><feColorMatrix type="matrix" values="0 0 0 0 0.353 0 0 0 0 0.333 0 0 0 0 0.529 -14 0 0 0 1.8"/></filter>
<clipPath id="jt00c2"><path d="M1185.4 352.8 C1199.7 329.6 1257.8 350.5 1275.1 352.8 C1292.3 355.1 1285.8 361.0 1293.0 367.3 C1300.2 373.5 1311.8 387.0 1319.9 391.9 C1327.9 396.8 1336.0 397.0 1343.2 397.7 C1350.4 398.4 1361.3 380.3 1364.7 396.2 C1368.1 412.2 1393.4 481.4 1364.7 497.6 C1336.0 513.8 1214.1 520.8 1185.4 497.6 C1156.7 474.4 1171.1 376.0 1185.4 352.8Z "/></clipPath>
<filter id="sp2" x="0" y="0" width="1" height="1" color-interpolation-filters="sRGB"><feTurbulence type="fractalNoise" baseFrequency="0.4" numOctaves="2" seed="4"/><feColorMatrix type="matrix" values="0 0 0 0 0.333 0 0 0 0 0.314 0 0 0 0 0.529 10 0 0 0 -6.0"/></filter>
<clipPath id="jt00c3"><path d="M1185.4 352.8 C1199.7 329.6 1257.8 350.5 1275.1 352.8 C1292.3 355.1 1285.8 361.0 1293.0 367.3 C1300.2 373.5 1311.8 387.0 1319.9 391.9 C1327.9 396.8 1336.0 397.0 1343.2 397.7 C1350.4 398.4 1361.3 380.3 1364.7 396.2 C1368.1 412.2 1393.4 481.4 1364.7 497.6 C1336.0 513.8 1214.1 520.8 1185.4 497.6 C1156.7 474.4 1171.1 376.0 1185.4 352.8Z "/></clipPath>
<filter id="sp3" x="0" y="0" width="1" height="1" color-interpolation-filters="sRGB"><feTurbulence type="fractalNoise" baseFrequency="0.4" numOctaves="2" seed="5"/><feColorMatrix type="matrix" values="0 0 0 0 0.333 0 0 0 0 0.314 0 0 0 0 0.529 10 0 0 0 -7.0"/></filter>
<clipPath id="jt01"><rect x="1370.3" y="352.8" width="179.4" height="144.8"/></clipPath>
<filter id="sp4" x="0" y="0" width="1" height="1" color-interpolation-filters="sRGB"><feTurbulence type="fractalNoise" baseFrequency="0.03" numOctaves="2" seed="5"/><feColorMatrix type="matrix" values="0 0 0 0 0.804 0 0 0 0 0.765 0 0 0 0 0.824 6 0 0 0 -3.0"/></filter>
<filter id="sp5" x="0" y="0" width="1" height="1" color-interpolation-filters="sRGB"><feTurbulence type="fractalNoise" baseFrequency="0.3" numOctaves="2" seed="6"/><feColorMatrix type="matrix" values="0 0 0 0 0.196 0 0 0 0 0.275 0 0 0 0 0.647 11 0 0 0 -7.6"/></filter>
<filter id="sp6" x="0" y="0" width="1" height="1" color-interpolation-filters="sRGB"><feTurbulence type="fractalNoise" baseFrequency="0.18" numOctaves="2" seed="90"/><feColorMatrix type="matrix" values="0 0 0 0 0.176 0 0 0 0 0.255 0 0 0 0 0.627 12 0 0 0 -7.9"/></filter>
<filter id="sp7" x="0" y="0" width="1" height="1" color-interpolation-filters="sRGB"><feTurbulence type="turbulence" baseFrequency="0.06" numOctaves="2" seed="7"/><feColorMatrix type="matrix" values="0 0 0 0 0.275 0 0 0 0 0.353 0 0 0 0 0.667 -16 0 0 0 1.4"/></filter>
<filter id="rag91" x="-5%" y="-5%" width="110%" height="110%"><feTurbulence type="fractalNoise" baseFrequency="0.04" numOctaves="2" seed="91" result="t"/><feDisplacementMap in="SourceGraphic" in2="t" scale="5" xChannelSelector="R" yChannelSelector="G"/></filter>
<clipPath id="jt02"><rect x="1555.2" y="352.8" width="179.3" height="144.8"/></clipPath>
<filter id="rag61" x="-5%" y="-5%" width="110%" height="110%"><feTurbulence type="fractalNoise" baseFrequency="0.12" numOctaves="2" seed="61" result="t"/><feDisplacementMap in="SourceGraphic" in2="t" scale="7" xChannelSelector="R" yChannelSelector="G"/></filter>
<filter id="sp10" x="0" y="0" width="1" height="1" color-interpolation-filters="sRGB"><feTurbulence type="fractalNoise" baseFrequency="0.35" numOctaves="2" seed="8"/><feColorMatrix type="matrix" values="0 0 0 0 0.471 0 0 0 0 0.275 0 0 0 0 0.235 9 0 0 0 -4.7"/></filter>
<clipPath id="jt02c4"><path d="M1680.7 413.6 C1683.9 405.3 1701.3 410.6 1707.6 413.6 C1713.9 416.6 1715.9 426.4 1720.2 432.4 C1724.5 438.5 1732.2 440.8 1734.5 451.3 C1736.8 461.7 1742.5 490.2 1734.5 497.6 C1726.5 505.0 1693.5 501.1 1684.3 497.6 C1675.1 494.1 1676.6 481.0 1677.1 475.9 C1677.7 470.8 1687.3 475.7 1687.9 465.7 C1688.5 455.8 1677.6 422.0 1680.7 413.6Z "/></clipPath>
<filter id="sp11" x="0" y="0" width="1" height="1" color-interpolation-filters="sRGB"><feTurbulence type="turbulence" baseFrequency="0.1" numOctaves="2" seed="9"/><feColorMatrix type="matrix" values="0 0 0 0 0.882 0 0 0 0 0.816 0 0 0 0 0.776 -12 0 0 0 1.55"/></filter>
<clipPath id="jt02c5"><path d="M1567.8 393.3 C1568.6 387.6 1574.8 385.2 1578.5 381.8 C1582.2 378.3 1586.2 373.9 1591.1 371.6 C1595.9 369.3 1605.5 369.8 1609.0 367.3 C1612.4 364.7 1606.8 358.0 1612.6 355.7 C1618.3 353.4 1633.9 352.8 1644.8 352.8 C1655.8 352.8 1677.8 352.9 1680.7 355.7 C1683.6 358.5 1667.1 364.8 1662.8 370.2 C1658.5 375.5 1655.0 383.7 1653.8 389.0 C1652.7 394.3 1655.6 398.8 1655.6 403.5 C1655.6 408.1 1653.2 412.2 1653.8 418.0 C1654.4 423.8 1657.8 432.7 1659.2 439.7 C1660.6 446.6 1660.5 454.9 1662.8 461.4 C1665.1 467.9 1673.0 474.4 1673.5 480.2 C1674.1 486.0 1677.8 494.8 1666.4 497.6 C1654.9 500.4 1613.3 499.9 1601.8 497.6 C1590.3 495.3 1596.9 488.9 1594.6 483.1 C1592.4 477.3 1590.3 468.4 1587.5 461.4 C1584.6 454.4 1579.0 446.6 1576.7 439.7 C1574.4 432.7 1574.6 425.4 1573.1 418.0 C1571.7 410.5 1566.9 399.1 1567.8 393.3Z M1558.8 425.2 C1558.8 421.7 1563.7 418.7 1566.0 418.0 C1568.3 417.3 1570.8 417.4 1573.1 420.9 C1575.4 424.3 1577.4 432.5 1580.3 439.7 C1583.2 446.9 1587.9 457.2 1591.1 465.7 C1594.2 474.3 1600.0 488.9 1600.0 493.3 C1600.0 497.7 1594.5 498.4 1591.1 493.3 C1587.6 488.2 1582.5 470.0 1578.5 461.4 C1574.5 452.8 1569.1 445.5 1566.0 439.7 C1562.8 433.9 1558.8 428.7 1558.8 425.2Z M1653.8 374.5 C1655.2 369.2 1661.5 369.5 1666.4 370.2 C1671.2 370.9 1680.6 375.9 1684.3 378.9 C1688.0 381.9 1689.7 385.1 1689.7 389.0 C1689.7 392.9 1686.3 399.5 1684.3 403.5 C1682.3 407.4 1680.0 412.5 1677.1 413.6 C1674.3 414.8 1669.5 412.3 1666.4 410.7 C1663.2 409.1 1659.4 409.3 1657.4 403.5 C1655.4 397.7 1652.4 379.8 1653.8 374.5Z M1659.2 418.0 C1659.5 414.0 1667.7 418.4 1671.7 422.3 C1675.8 426.2 1680.6 436.1 1684.3 442.6 C1688.0 449.1 1694.5 458.7 1695.1 462.8 C1695.6 467.0 1691.9 471.2 1687.9 468.6 C1683.9 466.1 1674.5 455.0 1670.0 446.9 C1665.4 438.8 1658.9 421.9 1659.2 418.0Z "/></clipPath>
<filter id="sp12" x="0" y="0" width="1" height="1" color-interpolation-filters="sRGB"><feTurbulence type="fractalNoise" baseFrequency="0.35" numOctaves="2" seed="10"/><feColorMatrix type="matrix" values="0 0 0 0 0.196 0 0 0 0 0.098 0 0 0 0 0.086 9 0 0 0 -4.6"/></filter>
<clipPath id="jt02c6"><path d="M1567.8 393.3 C1568.6 387.6 1574.8 385.2 1578.5 381.8 C1582.2 378.3 1586.2 373.9 1591.1 371.6 C1595.9 369.3 1605.5 369.8 1609.0 367.3 C1612.4 364.7 1606.8 358.0 1612.6 355.7 C1618.3 353.4 1633.9 352.8 1644.8 352.8 C1655.8 352.8 1677.8 352.9 1680.7 355.7 C1683.6 358.5 1667.1 364.8 1662.8 370.2 C1658.5 375.5 1655.0 383.7 1653.8 389.0 C1652.7 394.3 1655.6 398.8 1655.6 403.5 C1655.6 408.1 1653.2 412.2 1653.8 418.0 C1654.4 423.8 1657.8 432.7 1659.2 439.7 C1660.6 446.6 1660.5 454.9 1662.8 461.4 C1665.1 467.9 1673.0 474.4 1673.5 480.2 C1674.1 486.0 1677.8 494.8 1666.4 497.6 C1654.9 500.4 1613.3 499.9 1601.8 497.6 C1590.3 495.3 1596.9 488.9 1594.6 483.1 C1592.4 477.3 1590.3 468.4 1587.5 461.4 C1584.6 454.4 1579.0 446.6 1576.7 439.7 C1574.4 432.7 1574.6 425.4 1573.1 418.0 C1571.7 410.5 1566.9 399.1 1567.8 393.3Z M1558.8 425.2 C1558.8 421.7 1563.7 418.7 1566.0 418.0 C1568.3 417.3 1570.8 417.4 1573.1 420.9 C1575.4 424.3 1577.4 432.5 1580.3 439.7 C1583.2 446.9 1587.9 457.2 1591.1 465.7 C1594.2 474.3 1600.0 488.9 1600.0 493.3 C1600.0 497.7 1594.5 498.4 1591.1 493.3 C1587.6 488.2 1582.5 470.0 1578.5 461.4 C1574.5 452.8 1569.1 445.5 1566.0 439.7 C1562.8 433.9 1558.8 428.7 1558.8 425.2Z M1653.8 374.5 C1655.2 369.2 1661.5 369.5 1666.4 370.2 C1671.2 370.9 1680.6 375.9 1684.3 378.9 C1688.0 381.9 1689.7 385.1 1689.7 389.0 C1689.7 392.9 1686.3 399.5 1684.3 403.5 C1682.3 407.4 1680.0 412.5 1677.1 413.6 C1674.3 414.8 1669.5 412.3 1666.4 410.7 C1663.2 409.1 1659.4 409.3 1657.4 403.5 C1655.4 397.7 1652.4 379.8 1653.8 374.5Z M1659.2 418.0 C1659.5 414.0 1667.7 418.4 1671.7 422.3 C1675.8 426.2 1680.6 436.1 1684.3 442.6 C1688.0 449.1 1694.5 458.7 1695.1 462.8 C1695.6 467.0 1691.9 471.2 1687.9 468.6 C1683.9 466.1 1674.5 455.0 1670.0 446.9 C1665.4 438.8 1658.9 421.9 1659.2 418.0Z "/></clipPath>
<clipPath id="jt03"><rect x="1740.2" y="352.8" width="179.3" height="144.8"/></clipPath>
<filter id="sp13" x="0" y="0" width="1" height="1" color-interpolation-filters="sRGB"><feTurbulence type="fractalNoise" baseFrequency="0.2" numOctaves="2" seed="70"/><feColorMatrix type="matrix" values="0 0 0 0 0.471 0 0 0 0 0.510 0 0 0 0 0.667 9 0 0 0 -5.6"/></filter>
<filter id="rag71" x="-5%" y="-5%" width="110%" height="110%"><feTurbulence type="fractalNoise" baseFrequency="0.1" numOctaves="2" seed="71" result="t"/><feDisplacementMap in="SourceGraphic" in2="t" scale="6" xChannelSelector="R" yChannelSelector="G"/></filter>
<filter id="sp15" x="0" y="0" width="1" height="1" color-interpolation-filters="sRGB"><feTurbulence type="fractalNoise" baseFrequency="0.2" numOctaves="2" seed="11"/><feColorMatrix type="matrix" values="0 0 0 0 0.176 0 0 0 0 0.086 0 0 0 0 0.055 9 0 0 0 -4.1"/></filter>
<clipPath id="jt03c7"><path d="M1743.8 352.8 C1748.7 343.5 1770.9 348.2 1776.1 352.8 C1781.2 357.4 1776.6 370.2 1776.1 381.8 C1775.5 393.3 1771.0 411.3 1772.5 425.2 C1773.9 439.1 1781.6 457.1 1785.0 468.6 C1788.5 480.2 1797.7 493.0 1794.0 497.6 C1790.3 502.2 1768.3 504.6 1761.7 497.6 C1755.1 490.6 1755.3 468.1 1752.8 454.2 C1750.2 440.3 1747.0 426.9 1745.6 410.7 C1744.1 394.5 1738.9 362.1 1743.8 352.8Z M1776.1 352.8 C1778.1 349.3 1786.7 355.4 1790.4 360.0 C1794.1 364.7 1796.5 372.5 1799.4 381.8 C1802.2 391.0 1805.5 406.4 1808.3 418.0 C1811.2 429.5 1814.4 441.4 1817.3 454.2 C1820.2 466.9 1829.1 490.6 1826.3 497.6 C1823.4 504.6 1805.1 504.6 1799.4 497.6 C1793.6 490.6 1793.3 468.1 1790.4 454.2 C1787.5 440.3 1783.4 422.3 1781.4 410.7 C1779.4 399.1 1778.7 391.0 1777.9 381.8 C1777.0 372.5 1774.1 356.3 1776.1 352.8Z M1804.7 352.8 C1808.2 347.0 1824.4 349.3 1829.8 352.8 C1835.3 356.3 1837.4 365.3 1838.8 374.5 C1840.2 383.8 1837.4 399.1 1838.8 410.7 C1840.2 422.3 1844.1 435.3 1847.8 446.9 C1851.5 458.5 1859.3 475.0 1862.1 483.1 C1865.0 491.2 1868.6 495.3 1865.7 497.6 C1862.8 499.9 1849.9 503.4 1844.2 497.6 C1838.5 491.8 1834.4 471.8 1829.8 461.4 C1825.3 451.0 1818.9 444.0 1815.5 432.4 C1812.1 420.9 1810.1 401.7 1808.3 389.0 C1806.6 376.3 1801.3 358.6 1804.7 352.8Z M1838.8 352.8 C1844.3 349.3 1870.4 349.3 1874.7 352.8 C1879.0 356.3 1865.4 370.3 1865.7 374.5 C1866.0 378.7 1875.3 370.8 1876.5 378.9 C1877.6 387.0 1872.9 413.2 1872.9 425.2 C1872.9 437.2 1873.6 446.1 1876.5 454.2 C1879.3 462.3 1887.9 468.9 1890.8 475.9 C1893.7 482.8 1897.3 494.1 1894.4 497.6 C1891.5 501.1 1879.2 504.1 1872.9 497.6 C1866.6 491.1 1859.5 471.0 1855.0 457.1 C1850.4 443.2 1846.5 423.9 1844.2 410.7 C1841.9 397.5 1841.5 383.8 1840.6 374.5 C1839.7 365.3 1833.4 356.3 1838.8 352.8Z M1880.1 361.5 C1882.9 360.6 1892.2 363.6 1898.0 367.3 C1903.7 371.0 1912.5 380.0 1915.9 384.7 C1919.4 389.3 1918.9 387.0 1919.5 396.2 C1920.1 405.5 1921.5 437.9 1919.5 442.6 C1917.5 447.2 1911.0 432.6 1906.9 425.2 C1902.9 417.8 1898.7 404.6 1894.4 396.2 C1890.1 387.9 1882.3 378.6 1880.1 373.1 C1877.8 367.5 1877.2 362.4 1880.1 361.5Z M1883.6 418.0 C1885.1 412.9 1897.8 418.9 1901.6 425.2 C1905.3 431.5 1908.4 452.0 1906.9 457.1 C1905.5 462.2 1896.3 463.3 1892.6 457.1 C1888.9 450.8 1882.2 423.1 1883.6 418.0Z M1898.0 468.6 C1900.9 464.5 1916.1 466.9 1919.5 471.5 C1922.9 476.2 1922.4 493.4 1919.5 497.6 C1916.6 501.8 1905.0 502.2 1901.6 497.6 C1898.1 493.0 1895.1 472.8 1898.0 468.6Z M1740.2 439.7 C1742.5 431.6 1751.1 441.1 1754.5 446.9 C1758.0 452.7 1760.0 467.8 1761.7 475.9 C1763.4 484.0 1768.7 494.1 1765.3 497.6 C1761.9 501.1 1744.2 506.9 1740.2 497.6 C1736.2 488.3 1737.9 447.8 1740.2 439.7Z "/></clipPath>
<filter id="sp16" x="0" y="0" width="1" height="1" color-interpolation-filters="sRGB"><feTurbulence type="fractalNoise" baseFrequency="0.25" numOctaves="2" seed="12"/><feColorMatrix type="matrix" values="0 0 0 0 0.725 0 0 0 0 0.471 0 0 0 0 0.314 9 0 0 0 -5.3"/></filter>
<clipPath id="jt03c8"><path d="M1743.8 352.8 C1748.7 343.5 1770.9 348.2 1776.1 352.8 C1781.2 357.4 1776.6 370.2 1776.1 381.8 C1775.5 393.3 1771.0 411.3 1772.5 425.2 C1773.9 439.1 1781.6 457.1 1785.0 468.6 C1788.5 480.2 1797.7 493.0 1794.0 497.6 C1790.3 502.2 1768.3 504.6 1761.7 497.6 C1755.1 490.6 1755.3 468.1 1752.8 454.2 C1750.2 440.3 1747.0 426.9 1745.6 410.7 C1744.1 394.5 1738.9 362.1 1743.8 352.8Z M1776.1 352.8 C1778.1 349.3 1786.7 355.4 1790.4 360.0 C1794.1 364.7 1796.5 372.5 1799.4 381.8 C1802.2 391.0 1805.5 406.4 1808.3 418.0 C1811.2 429.5 1814.4 441.4 1817.3 454.2 C1820.2 466.9 1829.1 490.6 1826.3 497.6 C1823.4 504.6 1805.1 504.6 1799.4 497.6 C1793.6 490.6 1793.3 468.1 1790.4 454.2 C1787.5 440.3 1783.4 422.3 1781.4 410.7 C1779.4 399.1 1778.7 391.0 1777.9 381.8 C1777.0 372.5 1774.1 356.3 1776.1 352.8Z M1804.7 352.8 C1808.2 347.0 1824.4 349.3 1829.8 352.8 C1835.3 356.3 1837.4 365.3 1838.8 374.5 C1840.2 383.8 1837.4 399.1 1838.8 410.7 C1840.2 422.3 1844.1 435.3 1847.8 446.9 C1851.5 458.5 1859.3 475.0 1862.1 483.1 C1865.0 491.2 1868.6 495.3 1865.7 497.6 C1862.8 499.9 1849.9 503.4 1844.2 497.6 C1838.5 491.8 1834.4 471.8 1829.8 461.4 C1825.3 451.0 1818.9 444.0 1815.5 432.4 C1812.1 420.9 1810.1 401.7 1808.3 389.0 C1806.6 376.3 1801.3 358.6 1804.7 352.8Z M1838.8 352.8 C1844.3 349.3 1870.4 349.3 1874.7 352.8 C1879.0 356.3 1865.4 370.3 1865.7 374.5 C1866.0 378.7 1875.3 370.8 1876.5 378.9 C1877.6 387.0 1872.9 413.2 1872.9 425.2 C1872.9 437.2 1873.6 446.1 1876.5 454.2 C1879.3 462.3 1887.9 468.9 1890.8 475.9 C1893.7 482.8 1897.3 494.1 1894.4 497.6 C1891.5 501.1 1879.2 504.1 1872.9 497.6 C1866.6 491.1 1859.5 471.0 1855.0 457.1 C1850.4 443.2 1846.5 423.9 1844.2 410.7 C1841.9 397.5 1841.5 383.8 1840.6 374.5 C1839.7 365.3 1833.4 356.3 1838.8 352.8Z M1880.1 361.5 C1882.9 360.6 1892.2 363.6 1898.0 367.3 C1903.7 371.0 1912.5 380.0 1915.9 384.7 C1919.4 389.3 1918.9 387.0 1919.5 396.2 C1920.1 405.5 1921.5 437.9 1919.5 442.6 C1917.5 447.2 1911.0 432.6 1906.9 425.2 C1902.9 417.8 1898.7 404.6 1894.4 396.2 C1890.1 387.9 1882.3 378.6 1880.1 373.1 C1877.8 367.5 1877.2 362.4 1880.1 361.5Z M1883.6 418.0 C1885.1 412.9 1897.8 418.9 1901.6 425.2 C1905.3 431.5 1908.4 452.0 1906.9 457.1 C1905.5 462.2 1896.3 463.3 1892.6 457.1 C1888.9 450.8 1882.2 423.1 1883.6 418.0Z M1898.0 468.6 C1900.9 464.5 1916.1 466.9 1919.5 471.5 C1922.9 476.2 1922.4 493.4 1919.5 497.6 C1916.6 501.8 1905.0 502.2 1901.6 497.6 C1898.1 493.0 1895.1 472.8 1898.0 468.6Z M1740.2 439.7 C1742.5 431.6 1751.1 441.1 1754.5 446.9 C1758.0 452.7 1760.0 467.8 1761.7 475.9 C1763.4 484.0 1768.7 494.1 1765.3 497.6 C1761.9 501.1 1744.2 506.9 1740.2 497.6 C1736.2 488.3 1737.9 447.8 1740.2 439.7Z "/></clipPath>
<filter id="sp17" x="0" y="0" width="1" height="1" color-interpolation-filters="sRGB"><feTurbulence type="fractalNoise" baseFrequency="0.25" numOctaves="2" seed="72"/><feColorMatrix type="matrix" values="0 0 0 0 0.275 0 0 0 0 0.314 0 0 0 0 0.549 9 0 0 0 -5.0"/></filter>
<clipPath id="jt03c9"><path d="M1776.1 389.0 C1775.2 379.7 1778.6 376.0 1781.4 381.8 C1784.3 387.6 1790.8 410.1 1794.0 425.2 C1797.1 440.3 1801.2 466.6 1801.2 475.9 C1801.2 485.1 1796.3 488.9 1794.0 483.1 C1791.7 477.3 1789.7 454.7 1786.8 439.7 C1783.9 424.6 1776.9 398.3 1776.1 389.0Z "/></clipPath>
<clipPath id="jt10"><rect x="1185.4" y="501.4" width="179.3" height="145.2"/></clipPath>
<filter id="sp18" x="0" y="0" width="1" height="1" color-interpolation-filters="sRGB"><feTurbulence type="fractalNoise" baseFrequency="0.05" numOctaves="2" seed="12"/><feColorMatrix type="matrix" values="0 0 0 0 0.843 0 0 0 0 0.804 0 0 0 0 0.902 6 0 0 0 -3.2"/></filter>
<clipPath id="jt10c10"><path d="M1185.4 501.4 C1200.0 478.2 1257.9 498.4 1276.8 501.4 C1295.8 504.4 1296.0 514.6 1303.7 520.3 C1311.5 526.0 1319.8 533.4 1325.3 537.0 C1330.7 540.6 1331.5 542.4 1337.8 542.8 C1344.1 543.1 1360.4 522.5 1364.7 539.2 C1369.0 555.8 1393.4 629.4 1364.7 646.6 C1336.0 663.8 1214.1 669.8 1185.4 646.6 C1156.7 623.4 1170.8 524.6 1185.4 501.4Z "/></clipPath>
<filter id="sp19" x="0" y="0" width="1" height="1" color-interpolation-filters="sRGB"><feTurbulence type="turbulence" baseFrequency="0.12" numOctaves="2" seed="13"/><feColorMatrix type="matrix" values="0 0 0 0 0.392 0 0 0 0 0.353 0 0 0 0 0.647 -14 0 0 0 2.0"/></filter>
<clipPath id="jt10c11"><path d="M1185.4 501.4 C1200.0 478.2 1257.9 498.4 1276.8 501.4 C1295.8 504.4 1296.0 514.6 1303.7 520.3 C1311.5 526.0 1319.8 533.4 1325.3 537.0 C1330.7 540.6 1331.5 542.4 1337.8 542.8 C1344.1 543.1 1360.4 522.5 1364.7 539.2 C1369.0 555.8 1393.4 629.4 1364.7 646.6 C1336.0 663.8 1214.1 669.8 1185.4 646.6 C1156.7 623.4 1170.8 524.6 1185.4 501.4Z "/></clipPath>
<filter id="sp20" x="0" y="0" width="1" height="1" color-interpolation-filters="sRGB"><feTurbulence type="fractalNoise" baseFrequency="0.35" numOctaves="2" seed="14"/><feColorMatrix type="matrix" values="0 0 0 0 0.431 0 0 0 0 0.392 0 0 0 0 0.706 10 0 0 0 -5.6"/></filter>
<clipPath id="jt10c12"><path d="M1185.4 501.4 C1200.0 478.2 1257.9 498.4 1276.8 501.4 C1295.8 504.4 1296.0 514.6 1303.7 520.3 C1311.5 526.0 1319.8 533.4 1325.3 537.0 C1330.7 540.6 1331.5 542.4 1337.8 542.8 C1344.1 543.1 1360.4 522.5 1364.7 539.2 C1369.0 555.8 1393.4 629.4 1364.7 646.6 C1336.0 663.8 1214.1 669.8 1185.4 646.6 C1156.7 623.4 1170.8 524.6 1185.4 501.4Z "/></clipPath>
<clipPath id="jt11"><rect x="1370.3" y="501.4" width="179.4" height="145.2"/></clipPath>
<filter id="sp21" x="0" y="0" width="1" height="1" color-interpolation-filters="sRGB"><feTurbulence type="fractalNoise" baseFrequency="0.035" numOctaves="2" seed="15"/><feColorMatrix type="matrix" values="0 0 0 0 0.894 0 0 0 0 0.886 0 0 0 0 0.941 7 0 0 0 -3.6"/></filter>
<filter id="sp22" x="0" y="0" width="1" height="1" color-interpolation-filters="sRGB"><feTurbulence type="fractalNoise" baseFrequency="0.045" numOctaves="2" seed="18"/><feColorMatrix type="matrix" values="0 0 0 0 0.510 0 0 0 0 0.490 0 0 0 0 0.784 7 0 0 0 -3.9"/></filter>
<filter id="sp23" x="0" y="0" width="1" height="1" color-interpolation-filters="sRGB"><feTurbulence type="fractalNoise" baseFrequency="0.3" numOctaves="2" seed="16"/><feColorMatrix type="matrix" values="0 0 0 0 0.373 0 0 0 0 0.373 0 0 0 0 0.725 10 0 0 0 -5.6"/></filter>
<filter id="sp24" x="0" y="0" width="1" height="1" color-interpolation-filters="sRGB"><feTurbulence type="turbulence" baseFrequency="0.06" numOctaves="2" seed="17"/><feColorMatrix type="matrix" values="0 0 0 0 0.471 0 0 0 0 0.431 0 0 0 0 0.745 -14 0 0 0 1.4"/></filter>
<clipPath id="jt12"><rect x="1555.2" y="501.4" width="179.3" height="145.2"/></clipPath>
<filter id="rag80" x="-5%" y="-5%" width="110%" height="110%"><feTurbulence type="fractalNoise" baseFrequency="0.12" numOctaves="2" seed="80" result="t"/><feDisplacementMap in="SourceGraphic" in2="t" scale="5" xChannelSelector="R" yChannelSelector="G"/></filter>
<filter id="sp26" x="0" y="0" width="1" height="1" color-interpolation-filters="sRGB"><feTurbulence type="fractalNoise" baseFrequency="0.35" numOctaves="2" seed="18"/><feColorMatrix type="matrix" values="0 0 0 0 0.745 0 0 0 0 0.471 0 0 0 0 0.745 9 0 0 0 -4.8"/></filter>
<clipPath id="jt12c13"><path d="M1564.2 571.1 C1566.2 565.5 1563.4 559.8 1567.8 556.6 C1572.1 553.3 1585.0 549.8 1591.1 550.8 C1597.1 551.7 1602.8 554.9 1605.4 562.4 C1608.0 569.8 1602.9 591.0 1607.2 597.2 C1611.5 603.5 1622.8 597.9 1632.3 601.6 C1641.8 605.3 1656.9 615.1 1666.4 620.5 C1675.8 625.8 1686.9 630.8 1691.5 635.0 C1696.1 639.2 1716.9 644.7 1695.1 646.6 C1673.3 648.5 1577.6 655.4 1555.2 646.6 C1532.8 637.8 1553.8 603.5 1555.2 591.4 C1556.6 579.3 1562.2 576.7 1564.2 571.1Z M1693.3 518.8 C1694.1 515.3 1699.1 517.8 1702.2 523.2 C1705.4 528.5 1710.1 542.9 1713.0 552.2 C1715.9 561.5 1717.6 573.1 1720.2 581.3 C1722.7 589.4 1728.0 597.7 1729.1 603.0 C1730.3 608.4 1729.3 614.7 1727.3 614.7 C1725.3 614.7 1720.3 609.5 1716.6 603.0 C1712.8 596.5 1707.2 583.3 1704.0 574.0 C1700.9 564.7 1698.6 553.8 1696.8 545.0 C1695.1 536.1 1692.4 522.3 1693.3 518.8Z M1713.0 515.9 C1715.3 514.1 1723.0 514.2 1725.5 518.8 C1728.1 523.5 1727.7 536.1 1729.1 545.0 C1730.6 553.8 1733.6 563.5 1734.5 574.0 C1735.4 584.5 1735.9 609.1 1734.5 610.3 C1733.1 611.5 1728.4 590.6 1725.5 581.3 C1722.7 572.0 1718.9 560.4 1716.6 552.2 C1714.3 544.1 1711.8 536.2 1711.2 530.4 C1710.6 524.6 1710.7 517.8 1713.0 515.9Z M1618.0 524.6 C1619.7 523.2 1628.5 524.5 1630.5 526.1 C1632.5 527.7 1632.2 533.4 1630.5 534.8 C1628.8 536.2 1621.8 536.4 1619.7 534.8 C1617.7 533.2 1616.2 526.0 1618.0 524.6Z M1727.3 620.5 C1728.2 616.3 1733.4 616.3 1734.5 620.5 C1735.6 624.6 1735.4 642.4 1734.5 646.6 C1733.6 650.8 1730.3 650.8 1729.1 646.6 C1728.0 642.4 1726.5 624.6 1727.3 620.5Z "/></clipPath>
<filter id="sp27" x="0" y="0" width="1" height="1" color-interpolation-filters="sRGB"><feTurbulence type="fractalNoise" baseFrequency="0.3" numOctaves="2" seed="81"/><feColorMatrix type="matrix" values="0 0 0 0 0.922 0 0 0 0 0.882 0 0 0 0 0.922 9 0 0 0 -5.0"/></filter>
<clipPath id="jt12c14"><path d="M1564.2 571.1 C1566.2 565.5 1563.4 559.8 1567.8 556.6 C1572.1 553.3 1585.0 549.8 1591.1 550.8 C1597.1 551.7 1602.8 554.9 1605.4 562.4 C1608.0 569.8 1602.9 591.0 1607.2 597.2 C1611.5 603.5 1622.8 597.9 1632.3 601.6 C1641.8 605.3 1656.9 615.1 1666.4 620.5 C1675.8 625.8 1686.9 630.8 1691.5 635.0 C1696.1 639.2 1716.9 644.7 1695.1 646.6 C1673.3 648.5 1577.6 655.4 1555.2 646.6 C1532.8 637.8 1553.8 603.5 1555.2 591.4 C1556.6 579.3 1562.2 576.7 1564.2 571.1Z M1693.3 518.8 C1694.1 515.3 1699.1 517.8 1702.2 523.2 C1705.4 528.5 1710.1 542.9 1713.0 552.2 C1715.9 561.5 1717.6 573.1 1720.2 581.3 C1722.7 589.4 1728.0 597.7 1729.1 603.0 C1730.3 608.4 1729.3 614.7 1727.3 614.7 C1725.3 614.7 1720.3 609.5 1716.6 603.0 C1712.8 596.5 1707.2 583.3 1704.0 574.0 C1700.9 564.7 1698.6 553.8 1696.8 545.0 C1695.1 536.1 1692.4 522.3 1693.3 518.8Z M1713.0 515.9 C1715.3 514.1 1723.0 514.2 1725.5 518.8 C1728.1 523.5 1727.7 536.1 1729.1 545.0 C1730.6 553.8 1733.6 563.5 1734.5 574.0 C1735.4 584.5 1735.9 609.1 1734.5 610.3 C1733.1 611.5 1728.4 590.6 1725.5 581.3 C1722.7 572.0 1718.9 560.4 1716.6 552.2 C1714.3 544.1 1711.8 536.2 1711.2 530.4 C1710.6 524.6 1710.7 517.8 1713.0 515.9Z M1618.0 524.6 C1619.7 523.2 1628.5 524.5 1630.5 526.1 C1632.5 527.7 1632.2 533.4 1630.5 534.8 C1628.8 536.2 1621.8 536.4 1619.7 534.8 C1617.7 533.2 1616.2 526.0 1618.0 524.6Z M1727.3 620.5 C1728.2 616.3 1733.4 616.3 1734.5 620.5 C1735.6 624.6 1735.4 642.4 1734.5 646.6 C1733.6 650.8 1730.3 650.8 1729.1 646.6 C1728.0 642.4 1726.5 624.6 1727.3 620.5Z "/></clipPath>
<clipPath id="jt13"><rect x="1740.2" y="501.4" width="179.3" height="145.2"/></clipPath>
<filter id="rag82" x="-5%" y="-5%" width="110%" height="110%"><feTurbulence type="fractalNoise" baseFrequency="0.1" numOctaves="2" seed="82" result="t"/><feDisplacementMap in="SourceGraphic" in2="t" scale="5" xChannelSelector="R" yChannelSelector="G"/></filter>
<filter id="sp29" x="0" y="0" width="1" height="1" color-interpolation-filters="sRGB"><feTurbulence type="fractalNoise" baseFrequency="0.22" numOctaves="2" seed="19"/><feColorMatrix type="matrix" values="0 0 0 0 0.725 0 0 0 0 0.431 0 0 0 0 0.725 9 0 0 0 -4.8"/></filter>
<clipPath id="jt13c15"><path d="M1748.3 501.4 C1752.9 496.8 1769.3 498.6 1776.1 501.4 C1782.8 504.2 1786.7 511.9 1790.4 518.8 C1794.1 525.8 1797.4 536.1 1799.4 545.0 C1801.4 553.8 1801.5 564.7 1803.0 574.0 C1804.4 583.3 1806.3 591.4 1808.3 603.0 C1810.3 614.7 1822.4 639.6 1815.5 646.6 C1808.6 653.6 1774.5 652.4 1765.3 646.6 C1756.1 640.8 1760.1 621.9 1758.1 610.3 C1756.1 598.7 1754.5 586.8 1752.8 574.0 C1751.0 561.2 1748.1 542.1 1747.4 530.4 C1746.7 518.8 1743.7 506.0 1748.3 501.4Z M1824.5 501.4 C1833.7 494.4 1874.2 496.8 1883.6 501.4 C1893.1 506.0 1885.1 522.3 1883.6 530.4 C1882.2 538.6 1874.1 546.4 1874.7 552.2 C1875.2 558.0 1884.4 559.8 1887.2 566.7 C1890.1 573.7 1890.9 584.2 1892.6 595.8 C1894.3 607.4 1898.0 631.2 1898.0 639.3 C1898.0 647.5 1900.6 645.4 1892.6 646.6 C1884.6 647.8 1856.4 652.4 1847.8 646.6 C1839.2 640.8 1841.7 621.9 1838.8 610.3 C1835.9 598.7 1831.9 584.5 1829.8 574.0 C1827.8 563.5 1827.1 556.6 1826.3 545.0 C1825.4 533.3 1815.3 508.4 1824.5 501.4Z "/></clipPath>
<filter id="sp30" x="0" y="0" width="1" height="1" color-interpolation-filters="sRGB"><feTurbulence type="fractalNoise" baseFrequency="0.22" numOctaves="2" seed="20"/><feColorMatrix type="matrix" values="0 0 0 0 0.922 0 0 0 0 0.871 0 0 0 0 0.922 9 0 0 0 -4.9"/></filter>
<clipPath id="jt13c16"><path d="M1748.3 501.4 C1752.9 496.8 1769.3 498.6 1776.1 501.4 C1782.8 504.2 1786.7 511.9 1790.4 518.8 C1794.1 525.8 1797.4 536.1 1799.4 545.0 C1801.4 553.8 1801.5 564.7 1803.0 574.0 C1804.4 583.3 1806.3 591.4 1808.3 603.0 C1810.3 614.7 1822.4 639.6 1815.5 646.6 C1808.6 653.6 1774.5 652.4 1765.3 646.6 C1756.1 640.8 1760.1 621.9 1758.1 610.3 C1756.1 598.7 1754.5 586.8 1752.8 574.0 C1751.0 561.2 1748.1 542.1 1747.4 530.4 C1746.7 518.8 1743.7 506.0 1748.3 501.4Z M1824.5 501.4 C1833.7 494.4 1874.2 496.8 1883.6 501.4 C1893.1 506.0 1885.1 522.3 1883.6 530.4 C1882.2 538.6 1874.1 546.4 1874.7 552.2 C1875.2 558.0 1884.4 559.8 1887.2 566.7 C1890.1 573.7 1890.9 584.2 1892.6 595.8 C1894.3 607.4 1898.0 631.2 1898.0 639.3 C1898.0 647.5 1900.6 645.4 1892.6 646.6 C1884.6 647.8 1856.4 652.4 1847.8 646.6 C1839.2 640.8 1841.7 621.9 1838.8 610.3 C1835.9 598.7 1831.9 584.5 1829.8 574.0 C1827.8 563.5 1827.1 556.6 1826.3 545.0 C1825.4 533.3 1815.3 508.4 1824.5 501.4Z "/></clipPath>
<clipPath id="jt20"><rect x="1185.4" y="649.4" width="179.3" height="144.6"/></clipPath>
<filter id="sp31" x="0" y="0" width="1" height="1" color-interpolation-filters="sRGB"><feTurbulence type="fractalNoise" baseFrequency="0.04" numOctaves="2" seed="24"/><feColorMatrix type="matrix" values="0 0 0 0 0.922 0 0 0 0 0.910 0 0 0 0 0.941 6 0 0 0 -3.2"/></filter>
<clipPath id="jt20c17"><path d="M1185.4 649.4 C1199.7 626.3 1257.8 647.1 1275.1 649.4 C1292.3 651.7 1285.8 657.6 1293.0 663.9 C1300.2 670.1 1311.8 683.6 1319.9 688.4 C1327.9 693.3 1336.0 693.5 1343.2 694.2 C1350.4 694.9 1361.3 676.8 1364.7 692.8 C1368.1 708.7 1393.4 777.8 1364.7 794.0 C1336.0 810.2 1214.1 817.1 1185.4 794.0 C1156.7 770.9 1171.1 672.5 1185.4 649.4Z "/></clipPath>
<filter id="sp32" x="0" y="0" width="1" height="1" color-interpolation-filters="sRGB"><feTurbulence type="turbulence" baseFrequency="0.12" numOctaves="2" seed="21"/><feColorMatrix type="matrix" values="0 0 0 0 0.361 0 0 0 0 0.345 0 0 0 0 0.529 -14 0 0 0 1.8"/></filter>
<clipPath id="jt20c18"><path d="M1185.4 649.4 C1199.7 626.3 1257.8 647.1 1275.1 649.4 C1292.3 651.7 1285.8 657.6 1293.0 663.9 C1300.2 670.1 1311.8 683.6 1319.9 688.4 C1327.9 693.3 1336.0 693.5 1343.2 694.2 C1350.4 694.9 1361.3 676.8 1364.7 692.8 C1368.1 708.7 1393.4 777.8 1364.7 794.0 C1336.0 810.2 1214.1 817.1 1185.4 794.0 C1156.7 770.9 1171.1 672.5 1185.4 649.4Z "/></clipPath>
<filter id="sp33" x="0" y="0" width="1" height="1" color-interpolation-filters="sRGB"><feTurbulence type="fractalNoise" baseFrequency="0.4" numOctaves="2" seed="22"/><feColorMatrix type="matrix" values="0 0 0 0 0.333 0 0 0 0 0.314 0 0 0 0 0.529 10 0 0 0 -6.0"/></filter>
<clipPath id="jt20c19"><path d="M1185.4 649.4 C1199.7 626.3 1257.8 647.1 1275.1 649.4 C1292.3 651.7 1285.8 657.6 1293.0 663.9 C1300.2 670.1 1311.8 683.6 1319.9 688.4 C1327.9 693.3 1336.0 693.5 1343.2 694.2 C1350.4 694.9 1361.3 676.8 1364.7 692.8 C1368.1 708.7 1393.4 777.8 1364.7 794.0 C1336.0 810.2 1214.1 817.1 1185.4 794.0 C1156.7 770.9 1171.1 672.5 1185.4 649.4Z "/></clipPath>
<filter id="sp34" x="0" y="0" width="1" height="1" color-interpolation-filters="sRGB"><feTurbulence type="fractalNoise" baseFrequency="0.4" numOctaves="2" seed="23"/><feColorMatrix type="matrix" values="0 0 0 0 0.333 0 0 0 0 0.314 0 0 0 0 0.529 10 0 0 0 -7.0"/></filter>
<clipPath id="jt21"><rect x="1370.3" y="649.4" width="179.4" height="144.6"/></clipPath>
<filter id="sp35" x="0" y="0" width="1" height="1" color-interpolation-filters="sRGB"><feTurbulence type="fractalNoise" baseFrequency="0.03" numOctaves="2" seed="22"/><feColorMatrix type="matrix" values="0 0 0 0 0.804 0 0 0 0 0.765 0 0 0 0 0.804 6 0 0 0 -3.0"/></filter>
<filter id="sp36" x="0" y="0" width="1" height="1" color-interpolation-filters="sRGB"><feTurbulence type="fractalNoise" baseFrequency="0.3" numOctaves="2" seed="23"/><feColorMatrix type="matrix" values="0 0 0 0 0.235 0 0 0 0 0.314 0 0 0 0 0.627 11 0 0 0 -7.6"/></filter>
<filter id="sp37" x="0" y="0" width="1" height="1" color-interpolation-filters="sRGB"><feTurbulence type="fractalNoise" baseFrequency="0.18" numOctaves="2" seed="92"/><feColorMatrix type="matrix" values="0 0 0 0 0.216 0 0 0 0 0.294 0 0 0 0 0.608 12 0 0 0 -7.9"/></filter>
<filter id="sp38" x="0" y="0" width="1" height="1" color-interpolation-filters="sRGB"><feTurbulence type="turbulence" baseFrequency="0.06" numOctaves="2" seed="24"/><feColorMatrix type="matrix" values="0 0 0 0 0.314 0 0 0 0 0.373 0 0 0 0 0.627 -16 0 0 0 1.4"/></filter>
<filter id="rag93" x="-5%" y="-5%" width="110%" height="110%"><feTurbulence type="fractalNoise" baseFrequency="0.04" numOctaves="2" seed="93" result="t"/><feDisplacementMap in="SourceGraphic" in2="t" scale="5" xChannelSelector="R" yChannelSelector="G"/></filter>
<clipPath id="jt22"><rect x="1555.2" y="649.4" width="179.3" height="144.6"/></clipPath>
<filter id="rag62" x="-5%" y="-5%" width="110%" height="110%"><feTurbulence type="fractalNoise" baseFrequency="0.12" numOctaves="2" seed="62" result="t"/><feDisplacementMap in="SourceGraphic" in2="t" scale="6" xChannelSelector="R" yChannelSelector="G"/></filter>
<filter id="sp41" x="0" y="0" width="1" height="1" color-interpolation-filters="sRGB"><feTurbulence type="fractalNoise" baseFrequency="0.3" numOctaves="2" seed="25"/><feColorMatrix type="matrix" values="0 0 0 0 0.353 0 0 0 0 0.392 0 0 0 0 0.627 9 0 0 0 -5.0"/></filter>
<clipPath id="jt22c20"><path d="M1666.4 700.0 C1668.4 691.9 1682.2 701.5 1689.7 707.2 C1697.1 713.0 1707.2 726.9 1713.0 736.2 C1718.7 745.4 1722.1 755.8 1725.5 765.1 C1729.0 774.3 1741.1 789.4 1734.5 794.0 C1727.9 798.6 1693.5 799.8 1684.3 794.0 C1675.1 788.2 1680.0 772.9 1677.1 757.9 C1674.3 742.8 1664.4 708.1 1666.4 700.0Z "/></clipPath>
<filter id="sp42" x="0" y="0" width="1" height="1" color-interpolation-filters="sRGB"><feTurbulence type="turbulence" baseFrequency="0.1" numOctaves="2" seed="26"/><feColorMatrix type="matrix" values="0 0 0 0 0.843 0 0 0 0 0.831 0 0 0 0 0.871 -12 0 0 0 1.3"/></filter>
<clipPath id="jt22c21"><path d="M1567.8 700.0 C1568.6 694.7 1576.9 684.7 1582.1 681.2 C1587.3 677.7 1596.3 676.5 1600.0 678.3 C1603.8 680.2 1604.8 687.0 1605.4 692.8 C1606.0 698.6 1605.9 709.8 1603.6 714.5 C1601.3 719.1 1595.4 721.7 1591.1 721.7 C1586.8 721.7 1580.4 717.9 1576.7 714.5 C1573.0 711.0 1566.9 705.3 1567.8 700.0Z M1555.2 724.6 C1556.1 721.4 1561.3 718.1 1564.2 718.8 C1567.0 719.5 1570.0 723.8 1573.1 728.9 C1576.3 734.0 1580.4 742.5 1583.9 750.6 C1587.3 758.7 1592.4 772.6 1594.6 779.5 C1596.9 786.5 1600.2 791.7 1598.2 794.0 C1596.2 796.3 1586.7 799.8 1582.1 794.0 C1577.5 788.2 1573.3 766.6 1569.5 757.9 C1565.8 749.1 1561.1 744.4 1558.8 739.1 C1556.5 733.7 1554.3 727.8 1555.2 724.6Z M1609.0 666.8 C1608.4 658.7 1616.3 659.7 1619.7 663.9 C1623.2 668.0 1626.5 682.4 1630.5 692.8 C1634.5 703.2 1640.3 717.4 1644.8 728.9 C1649.4 740.5 1655.8 754.7 1659.2 765.1 C1662.6 775.5 1667.2 789.4 1666.4 794.0 C1665.5 798.6 1658.4 800.9 1653.8 794.0 C1649.2 787.1 1642.6 763.3 1637.7 750.6 C1632.8 737.9 1627.9 727.9 1623.3 714.5 C1618.7 701.1 1609.6 674.8 1609.0 666.8Z M1626.9 661.0 C1625.8 651.9 1634.2 654.1 1637.7 658.1 C1641.1 662.0 1645.0 676.5 1648.4 685.5 C1651.9 694.6 1655.2 703.6 1659.2 714.5 C1663.2 725.3 1670.1 743.1 1673.5 753.5 C1677.0 763.9 1681.0 774.9 1680.7 779.5 C1680.4 784.2 1675.2 787.1 1671.7 782.4 C1668.3 777.8 1663.5 761.5 1659.2 750.6 C1654.9 739.7 1650.0 728.8 1644.8 714.5 C1639.7 700.1 1628.1 670.0 1626.9 661.0Z M1598.2 718.8 C1599.7 713.5 1605.5 718.3 1609.0 724.6 C1612.4 730.8 1616.3 746.7 1619.7 757.9 C1623.2 769.0 1632.2 788.2 1630.5 794.0 C1628.8 799.8 1613.9 799.8 1609.0 794.0 C1604.1 788.2 1601.7 769.9 1600.0 757.9 C1598.3 745.8 1596.8 724.1 1598.2 718.8Z M1612.6 728.9 C1614.0 724.3 1623.2 723.1 1626.9 728.9 C1630.6 734.7 1633.6 754.7 1635.9 765.1 C1638.2 775.5 1642.1 789.4 1641.3 794.0 C1640.4 798.6 1634.2 799.8 1630.5 794.0 C1626.8 788.2 1620.8 768.3 1618.0 757.9 C1615.1 747.4 1611.1 733.6 1612.6 728.9Z M1609.0 649.4 C1618.2 648.0 1672.8 647.5 1684.3 649.4 C1695.8 651.3 1685.6 658.7 1680.7 661.0 C1675.8 663.3 1662.4 664.3 1653.8 663.9 C1645.2 663.4 1634.1 660.4 1626.9 658.1 C1619.7 655.8 1599.8 650.8 1609.0 649.4Z M1653.8 671.1 C1655.0 667.4 1663.8 666.6 1666.4 669.6 C1668.9 672.7 1671.1 686.2 1670.0 689.9 C1668.8 693.6 1661.8 695.8 1659.2 692.8 C1656.6 689.8 1652.7 674.8 1653.8 671.1Z M1673.5 704.3 C1674.7 701.1 1681.4 698.7 1684.3 701.5 C1687.2 704.2 1689.7 715.7 1691.5 721.7 C1693.2 727.7 1696.2 736.3 1695.1 739.1 C1693.9 741.8 1687.2 741.8 1684.3 739.1 C1681.4 736.3 1678.8 727.3 1677.1 721.7 C1675.4 716.1 1672.4 707.6 1673.5 704.3Z "/></clipPath>
<filter id="sp43" x="0" y="0" width="1" height="1" color-interpolation-filters="sRGB"><feTurbulence type="fractalNoise" baseFrequency="0.3" numOctaves="2" seed="28"/><feColorMatrix type="matrix" values="0 0 0 0 0.235 0 0 0 0 0.137 0 0 0 0 0.118 9 0 0 0 -4.5"/></filter>
<clipPath id="jt22c22"><path d="M1567.8 700.0 C1568.6 694.7 1576.9 684.7 1582.1 681.2 C1587.3 677.7 1596.3 676.5 1600.0 678.3 C1603.8 680.2 1604.8 687.0 1605.4 692.8 C1606.0 698.6 1605.9 709.8 1603.6 714.5 C1601.3 719.1 1595.4 721.7 1591.1 721.7 C1586.8 721.7 1580.4 717.9 1576.7 714.5 C1573.0 711.0 1566.9 705.3 1567.8 700.0Z M1555.2 724.6 C1556.1 721.4 1561.3 718.1 1564.2 718.8 C1567.0 719.5 1570.0 723.8 1573.1 728.9 C1576.3 734.0 1580.4 742.5 1583.9 750.6 C1587.3 758.7 1592.4 772.6 1594.6 779.5 C1596.9 786.5 1600.2 791.7 1598.2 794.0 C1596.2 796.3 1586.7 799.8 1582.1 794.0 C1577.5 788.2 1573.3 766.6 1569.5 757.9 C1565.8 749.1 1561.1 744.4 1558.8 739.1 C1556.5 733.7 1554.3 727.8 1555.2 724.6Z M1609.0 666.8 C1608.4 658.7 1616.3 659.7 1619.7 663.9 C1623.2 668.0 1626.5 682.4 1630.5 692.8 C1634.5 703.2 1640.3 717.4 1644.8 728.9 C1649.4 740.5 1655.8 754.7 1659.2 765.1 C1662.6 775.5 1667.2 789.4 1666.4 794.0 C1665.5 798.6 1658.4 800.9 1653.8 794.0 C1649.2 787.1 1642.6 763.3 1637.7 750.6 C1632.8 737.9 1627.9 727.9 1623.3 714.5 C1618.7 701.1 1609.6 674.8 1609.0 666.8Z M1626.9 661.0 C1625.8 651.9 1634.2 654.1 1637.7 658.1 C1641.1 662.0 1645.0 676.5 1648.4 685.5 C1651.9 694.6 1655.2 703.6 1659.2 714.5 C1663.2 725.3 1670.1 743.1 1673.5 753.5 C1677.0 763.9 1681.0 774.9 1680.7 779.5 C1680.4 784.2 1675.2 787.1 1671.7 782.4 C1668.3 777.8 1663.5 761.5 1659.2 750.6 C1654.9 739.7 1650.0 728.8 1644.8 714.5 C1639.7 700.1 1628.1 670.0 1626.9 661.0Z M1598.2 718.8 C1599.7 713.5 1605.5 718.3 1609.0 724.6 C1612.4 730.8 1616.3 746.7 1619.7 757.9 C1623.2 769.0 1632.2 788.2 1630.5 794.0 C1628.8 799.8 1613.9 799.8 1609.0 794.0 C1604.1 788.2 1601.7 769.9 1600.0 757.9 C1598.3 745.8 1596.8 724.1 1598.2 718.8Z M1612.6 728.9 C1614.0 724.3 1623.2 723.1 1626.9 728.9 C1630.6 734.7 1633.6 754.7 1635.9 765.1 C1638.2 775.5 1642.1 789.4 1641.3 794.0 C1640.4 798.6 1634.2 799.8 1630.5 794.0 C1626.8 788.2 1620.8 768.3 1618.0 757.9 C1615.1 747.4 1611.1 733.6 1612.6 728.9Z M1609.0 649.4 C1618.2 648.0 1672.8 647.5 1684.3 649.4 C1695.8 651.3 1685.6 658.7 1680.7 661.0 C1675.8 663.3 1662.4 664.3 1653.8 663.9 C1645.2 663.4 1634.1 660.4 1626.9 658.1 C1619.7 655.8 1599.8 650.8 1609.0 649.4Z M1653.8 671.1 C1655.0 667.4 1663.8 666.6 1666.4 669.6 C1668.9 672.7 1671.1 686.2 1670.0 689.9 C1668.8 693.6 1661.8 695.8 1659.2 692.8 C1656.6 689.8 1652.7 674.8 1653.8 671.1Z M1673.5 704.3 C1674.7 701.1 1681.4 698.7 1684.3 701.5 C1687.2 704.2 1689.7 715.7 1691.5 721.7 C1693.2 727.7 1696.2 736.3 1695.1 739.1 C1693.9 741.8 1687.2 741.8 1684.3 739.1 C1681.4 736.3 1678.8 727.3 1677.1 721.7 C1675.4 716.1 1672.4 707.6 1673.5 704.3Z "/></clipPath>
<clipPath id="jt23"><rect x="1740.2" y="649.4" width="179.3" height="144.6"/></clipPath>
<filter id="sp44" x="0" y="0" width="1" height="1" color-interpolation-filters="sRGB"><feTurbulence type="fractalNoise" baseFrequency="0.2" numOctaves="2" seed="75"/><feColorMatrix type="matrix" values="0 0 0 0 0.471 0 0 0 0 0.510 0 0 0 0 0.667 9 0 0 0 -5.6"/></filter>
<filter id="rag76" x="-5%" y="-5%" width="110%" height="110%"><feTurbulence type="fractalNoise" baseFrequency="0.1" numOctaves="2" seed="76" result="t"/><feDisplacementMap in="SourceGraphic" in2="t" scale="6" xChannelSelector="R" yChannelSelector="G"/></filter>
<filter id="sp46" x="0" y="0" width="1" height="1" color-interpolation-filters="sRGB"><feTurbulence type="fractalNoise" baseFrequency="0.06" numOctaves="2" seed="29"/><feColorMatrix type="matrix" values="0 0 0 0 0.314 0 0 0 0 0.392 0 0 0 0 0.686 9 0 0 0 -4.4"/></filter>
<clipPath id="jt23c23"><path d="M1745.6 649.4 C1750.7 644.8 1769.2 644.8 1776.1 649.4 C1782.9 654.0 1784.3 669.1 1788.6 678.3 C1792.9 687.6 1798.4 695.7 1803.0 707.2 C1807.5 718.8 1813.0 736.7 1817.3 750.6 C1821.6 764.5 1835.9 787.1 1829.8 794.0 C1823.8 800.9 1790.0 800.9 1779.6 794.0 C1769.3 787.1 1769.9 764.5 1765.3 750.6 C1760.7 736.7 1754.4 718.8 1751.0 707.2 C1747.5 695.7 1744.6 687.6 1743.8 678.3 C1742.9 669.1 1740.4 654.0 1745.6 649.4Z M1803.0 649.4 C1805.8 644.8 1820.2 644.8 1824.5 649.4 C1828.8 654.0 1827.6 667.9 1829.8 678.3 C1832.1 688.7 1835.9 702.9 1838.8 714.5 C1841.7 726.0 1844.1 739.1 1847.8 750.6 C1851.5 762.2 1859.3 779.8 1862.1 786.8 C1865.0 793.7 1869.4 792.8 1865.7 794.0 C1862.0 795.2 1845.4 799.8 1838.8 794.0 C1832.2 788.2 1828.2 770.6 1824.5 757.9 C1820.7 745.1 1818.4 727.2 1815.5 714.5 C1812.6 701.7 1808.5 688.7 1806.5 678.3 C1804.5 667.9 1800.1 654.0 1803.0 649.4Z M1833.4 649.4 C1837.2 642.5 1859.3 644.3 1862.1 649.4 C1865.0 654.5 1850.8 677.7 1851.4 681.2 C1851.9 684.7 1861.7 672.9 1865.7 671.1 C1869.7 669.2 1874.5 663.9 1876.5 669.6 C1878.5 675.4 1876.5 697.8 1878.3 707.2 C1880.0 716.7 1886.4 721.5 1887.2 728.9 C1888.1 736.3 1885.4 745.4 1883.6 753.5 C1881.9 761.6 1878.5 773.1 1876.5 779.5 C1874.5 786.0 1873.4 796.3 1871.1 794.0 C1868.8 791.7 1865.9 774.3 1862.1 765.1 C1858.4 755.8 1851.5 747.7 1847.8 736.2 C1844.1 724.6 1841.1 706.7 1838.8 692.8 C1836.5 678.9 1829.7 656.3 1833.4 649.4Z M1894.4 714.5 C1895.8 708.0 1906.5 709.0 1910.5 710.1 C1914.6 711.3 1918.1 714.8 1919.5 721.7 C1920.9 728.6 1922.4 748.9 1919.5 753.5 C1916.6 758.1 1905.6 756.9 1901.6 750.6 C1897.6 744.4 1893.0 720.9 1894.4 714.5Z M1901.6 649.4 C1903.6 644.8 1916.6 642.5 1919.5 649.4 C1922.4 656.3 1921.5 688.2 1919.5 692.8 C1917.5 697.4 1909.8 685.3 1906.9 678.3 C1904.1 671.4 1899.6 654.0 1901.6 649.4Z M1740.2 736.2 C1742.5 727.8 1750.8 736.9 1754.5 741.9 C1758.3 747.0 1762.4 759.6 1763.5 768.0 C1764.7 776.3 1765.4 789.8 1761.7 794.0 C1758.0 798.2 1743.6 803.3 1740.2 794.0 C1736.8 784.7 1737.9 744.5 1740.2 736.2Z "/></clipPath>
<filter id="sp47" x="0" y="0" width="1" height="1" color-interpolation-filters="sRGB"><feTurbulence type="fractalNoise" baseFrequency="0.25" numOctaves="2" seed="30"/><feColorMatrix type="matrix" values="0 0 0 0 0.216 0 0 0 0 0.294 0 0 0 0 0.647 9 0 0 0 -4.9"/></filter>
<clipPath id="jt23c24"><path d="M1745.6 649.4 C1750.7 644.8 1769.2 644.8 1776.1 649.4 C1782.9 654.0 1784.3 669.1 1788.6 678.3 C1792.9 687.6 1798.4 695.7 1803.0 707.2 C1807.5 718.8 1813.0 736.7 1817.3 750.6 C1821.6 764.5 1835.9 787.1 1829.8 794.0 C1823.8 800.9 1790.0 800.9 1779.6 794.0 C1769.3 787.1 1769.9 764.5 1765.3 750.6 C1760.7 736.7 1754.4 718.8 1751.0 707.2 C1747.5 695.7 1744.6 687.6 1743.8 678.3 C1742.9 669.1 1740.4 654.0 1745.6 649.4Z M1803.0 649.4 C1805.8 644.8 1820.2 644.8 1824.5 649.4 C1828.8 654.0 1827.6 667.9 1829.8 678.3 C1832.1 688.7 1835.9 702.9 1838.8 714.5 C1841.7 726.0 1844.1 739.1 1847.8 750.6 C1851.5 762.2 1859.3 779.8 1862.1 786.8 C1865.0 793.7 1869.4 792.8 1865.7 794.0 C1862.0 795.2 1845.4 799.8 1838.8 794.0 C1832.2 788.2 1828.2 770.6 1824.5 757.9 C1820.7 745.1 1818.4 727.2 1815.5 714.5 C1812.6 701.7 1808.5 688.7 1806.5 678.3 C1804.5 667.9 1800.1 654.0 1803.0 649.4Z M1833.4 649.4 C1837.2 642.5 1859.3 644.3 1862.1 649.4 C1865.0 654.5 1850.8 677.7 1851.4 681.2 C1851.9 684.7 1861.7 672.9 1865.7 671.1 C1869.7 669.2 1874.5 663.9 1876.5 669.6 C1878.5 675.4 1876.5 697.8 1878.3 707.2 C1880.0 716.7 1886.4 721.5 1887.2 728.9 C1888.1 736.3 1885.4 745.4 1883.6 753.5 C1881.9 761.6 1878.5 773.1 1876.5 779.5 C1874.5 786.0 1873.4 796.3 1871.1 794.0 C1868.8 791.7 1865.9 774.3 1862.1 765.1 C1858.4 755.8 1851.5 747.7 1847.8 736.2 C1844.1 724.6 1841.1 706.7 1838.8 692.8 C1836.5 678.9 1829.7 656.3 1833.4 649.4Z M1894.4 714.5 C1895.8 708.0 1906.5 709.0 1910.5 710.1 C1914.6 711.3 1918.1 714.8 1919.5 721.7 C1920.9 728.6 1922.4 748.9 1919.5 753.5 C1916.6 758.1 1905.6 756.9 1901.6 750.6 C1897.6 744.4 1893.0 720.9 1894.4 714.5Z M1901.6 649.4 C1903.6 644.8 1916.6 642.5 1919.5 649.4 C1922.4 656.3 1921.5 688.2 1919.5 692.8 C1917.5 697.4 1909.8 685.3 1906.9 678.3 C1904.1 671.4 1899.6 654.0 1901.6 649.4Z M1740.2 736.2 C1742.5 727.8 1750.8 736.9 1754.5 741.9 C1758.3 747.0 1762.4 759.6 1763.5 768.0 C1764.7 776.3 1765.4 789.8 1761.7 794.0 C1758.0 798.2 1743.6 803.3 1740.2 794.0 C1736.8 784.7 1737.9 744.5 1740.2 736.2Z "/></clipPath>
<filter id="sp48" x="0" y="0" width="1" height="1" color-interpolation-filters="sRGB"><feTurbulence type="fractalNoise" baseFrequency="0.3" numOctaves="2" seed="50"/><feColorMatrix type="matrix" values="0 0 0 0 0.353 0 0 0 0 0.216 0 0 0 0 0.137 9 0 0 0 -5.2"/></filter>
<clipPath id="jt23c25"><path d="M1745.6 649.4 C1750.7 644.8 1769.2 644.8 1776.1 649.4 C1782.9 654.0 1784.3 669.1 1788.6 678.3 C1792.9 687.6 1798.4 695.7 1803.0 707.2 C1807.5 718.8 1813.0 736.7 1817.3 750.6 C1821.6 764.5 1835.9 787.1 1829.8 794.0 C1823.8 800.9 1790.0 800.9 1779.6 794.0 C1769.3 787.1 1769.9 764.5 1765.3 750.6 C1760.7 736.7 1754.4 718.8 1751.0 707.2 C1747.5 695.7 1744.6 687.6 1743.8 678.3 C1742.9 669.1 1740.4 654.0 1745.6 649.4Z M1803.0 649.4 C1805.8 644.8 1820.2 644.8 1824.5 649.4 C1828.8 654.0 1827.6 667.9 1829.8 678.3 C1832.1 688.7 1835.9 702.9 1838.8 714.5 C1841.7 726.0 1844.1 739.1 1847.8 750.6 C1851.5 762.2 1859.3 779.8 1862.1 786.8 C1865.0 793.7 1869.4 792.8 1865.7 794.0 C1862.0 795.2 1845.4 799.8 1838.8 794.0 C1832.2 788.2 1828.2 770.6 1824.5 757.9 C1820.7 745.1 1818.4 727.2 1815.5 714.5 C1812.6 701.7 1808.5 688.7 1806.5 678.3 C1804.5 667.9 1800.1 654.0 1803.0 649.4Z M1833.4 649.4 C1837.2 642.5 1859.3 644.3 1862.1 649.4 C1865.0 654.5 1850.8 677.7 1851.4 681.2 C1851.9 684.7 1861.7 672.9 1865.7 671.1 C1869.7 669.2 1874.5 663.9 1876.5 669.6 C1878.5 675.4 1876.5 697.8 1878.3 707.2 C1880.0 716.7 1886.4 721.5 1887.2 728.9 C1888.1 736.3 1885.4 745.4 1883.6 753.5 C1881.9 761.6 1878.5 773.1 1876.5 779.5 C1874.5 786.0 1873.4 796.3 1871.1 794.0 C1868.8 791.7 1865.9 774.3 1862.1 765.1 C1858.4 755.8 1851.5 747.7 1847.8 736.2 C1844.1 724.6 1841.1 706.7 1838.8 692.8 C1836.5 678.9 1829.7 656.3 1833.4 649.4Z M1894.4 714.5 C1895.8 708.0 1906.5 709.0 1910.5 710.1 C1914.6 711.3 1918.1 714.8 1919.5 721.7 C1920.9 728.6 1922.4 748.9 1919.5 753.5 C1916.6 758.1 1905.6 756.9 1901.6 750.6 C1897.6 744.4 1893.0 720.9 1894.4 714.5Z M1901.6 649.4 C1903.6 644.8 1916.6 642.5 1919.5 649.4 C1922.4 656.3 1921.5 688.2 1919.5 692.8 C1917.5 697.4 1909.8 685.3 1906.9 678.3 C1904.1 671.4 1899.6 654.0 1901.6 649.4Z M1740.2 736.2 C1742.5 727.8 1750.8 736.9 1754.5 741.9 C1758.3 747.0 1762.4 759.6 1763.5 768.0 C1764.7 776.3 1765.4 789.8 1761.7 794.0 C1758.0 798.2 1743.6 803.3 1740.2 794.0 C1736.8 784.7 1737.9 744.5 1740.2 736.2Z "/></clipPath>
<clipPath id="jt30"><rect x="1185.4" y="798.4" width="179.3" height="145.1"/></clipPath>
<filter id="sp49" x="0" y="0" width="1" height="1" color-interpolation-filters="sRGB"><feTurbulence type="fractalNoise" baseFrequency="0.04" numOctaves="2" seed="34"/><feColorMatrix type="matrix" values="0 0 0 0 0.922 0 0 0 0 0.910 0 0 0 0 0.941 6 0 0 0 -3.2"/></filter>
<clipPath id="jt30c26"><path d="M1185.4 798.4 C1199.2 775.2 1253.7 795.6 1271.5 798.4 C1289.3 801.2 1288.0 808.8 1296.6 815.8 C1305.2 822.8 1317.2 837.8 1325.3 841.9 C1333.3 846.1 1340.5 843.1 1346.8 841.9 C1353.1 840.8 1361.8 818.4 1364.7 834.7 C1367.6 850.9 1393.4 926.1 1364.7 943.5 C1336.0 960.9 1214.1 966.7 1185.4 943.5 C1156.7 920.3 1171.6 821.6 1185.4 798.4Z "/></clipPath>
<filter id="sp50" x="0" y="0" width="1" height="1" color-interpolation-filters="sRGB"><feTurbulence type="turbulence" baseFrequency="0.12" numOctaves="2" seed="31"/><feColorMatrix type="matrix" values="0 0 0 0 0.373 0 0 0 0 0.373 0 0 0 0 0.569 -14 0 0 0 1.8"/></filter>
<clipPath id="jt30c27"><path d="M1185.4 798.4 C1199.2 775.2 1253.7 795.6 1271.5 798.4 C1289.3 801.2 1288.0 808.8 1296.6 815.8 C1305.2 822.8 1317.2 837.8 1325.3 841.9 C1333.3 846.1 1340.5 843.1 1346.8 841.9 C1353.1 840.8 1361.8 818.4 1364.7 834.7 C1367.6 850.9 1393.4 926.1 1364.7 943.5 C1336.0 960.9 1214.1 966.7 1185.4 943.5 C1156.7 920.3 1171.6 821.6 1185.4 798.4Z "/></clipPath>
<filter id="sp51" x="0" y="0" width="1" height="1" color-interpolation-filters="sRGB"><feTurbulence type="fractalNoise" baseFrequency="0.4" numOctaves="2" seed="32"/><feColorMatrix type="matrix" values="0 0 0 0 0.345 0 0 0 0 0.345 0 0 0 0 0.569 10 0 0 0 -6.0"/></filter>
<clipPath id="jt30c28"><path d="M1185.4 798.4 C1199.2 775.2 1253.7 795.6 1271.5 798.4 C1289.3 801.2 1288.0 808.8 1296.6 815.8 C1305.2 822.8 1317.2 837.8 1325.3 841.9 C1333.3 846.1 1340.5 843.1 1346.8 841.9 C1353.1 840.8 1361.8 818.4 1364.7 834.7 C1367.6 850.9 1393.4 926.1 1364.7 943.5 C1336.0 960.9 1214.1 966.7 1185.4 943.5 C1156.7 920.3 1171.6 821.6 1185.4 798.4Z "/></clipPath>
<filter id="sp52" x="0" y="0" width="1" height="1" color-interpolation-filters="sRGB"><feTurbulence type="fractalNoise" baseFrequency="0.4" numOctaves="2" seed="33"/><feColorMatrix type="matrix" values="0 0 0 0 0.345 0 0 0 0 0.345 0 0 0 0 0.569 10 0 0 0 -7.0"/></filter>
<clipPath id="jt31"><rect x="1370.3" y="798.4" width="179.4" height="145.1"/></clipPath>
<filter id="sp53" x="0" y="0" width="1" height="1" color-interpolation-filters="sRGB"><feTurbulence type="fractalNoise" baseFrequency="0.03" numOctaves="2" seed="32"/><feColorMatrix type="matrix" values="0 0 0 0 0.804 0 0 0 0 0.765 0 0 0 0 0.784 6 0 0 0 -3.0"/></filter>
<filter id="sp54" x="0" y="0" width="1" height="1" color-interpolation-filters="sRGB"><feTurbulence type="fractalNoise" baseFrequency="0.3" numOctaves="2" seed="33"/><feColorMatrix type="matrix" values="0 0 0 0 0.216 0 0 0 0 0.314 0 0 0 0 0.647 11 0 0 0 -7.6"/></filter>
<filter id="sp55" x="0" y="0" width="1" height="1" color-interpolation-filters="sRGB"><feTurbulence type="fractalNoise" baseFrequency="0.18" numOctaves="2" seed="94"/><feColorMatrix type="matrix" values="0 0 0 0 0.196 0 0 0 0 0.294 0 0 0 0 0.627 12 0 0 0 -7.9"/></filter>
<filter id="sp56" x="0" y="0" width="1" height="1" color-interpolation-filters="sRGB"><feTurbulence type="turbulence" baseFrequency="0.06" numOctaves="2" seed="34"/><feColorMatrix type="matrix" values="0 0 0 0 0.314 0 0 0 0 0.373 0 0 0 0 0.647 -16 0 0 0 1.3"/></filter>
<filter id="rag95" x="-5%" y="-5%" width="110%" height="110%"><feTurbulence type="fractalNoise" baseFrequency="0.04" numOctaves="2" seed="95" result="t"/><feDisplacementMap in="SourceGraphic" in2="t" scale="5" xChannelSelector="R" yChannelSelector="G"/></filter>
<clipPath id="jt32"><rect x="1555.2" y="798.4" width="179.3" height="145.1"/></clipPath>
<filter id="rag63" x="-5%" y="-5%" width="110%" height="110%"><feTurbulence type="fractalNoise" baseFrequency="0.12" numOctaves="2" seed="63" result="t"/><feDisplacementMap in="SourceGraphic" in2="t" scale="7" xChannelSelector="R" yChannelSelector="G"/></filter>
<filter id="sp59" x="0" y="0" width="1" height="1" color-interpolation-filters="sRGB"><feTurbulence type="fractalNoise" baseFrequency="0.3" numOctaves="2" seed="64"/><feColorMatrix type="matrix" values="0 0 0 0 0.510 0 0 0 0 0.314 0 0 0 0 0.235 9 0 0 0 -4.8"/></filter>
<clipPath id="jt32c29"><path d="M1673.5 863.7 C1678.1 857.9 1691.8 874.3 1698.6 878.2 C1705.5 882.2 1710.8 884.9 1716.6 888.4 C1722.3 891.8 1731.6 891.1 1734.5 900.0 C1737.4 908.8 1744.3 936.5 1734.5 943.5 C1724.7 950.5 1683.9 948.1 1673.5 943.5 C1663.2 938.9 1670.0 927.2 1670.0 914.5 C1670.0 901.7 1668.9 869.5 1673.5 863.7Z "/></clipPath>
<filter id="sp60" x="0" y="0" width="1" height="1" color-interpolation-filters="sRGB"><feTurbulence type="turbulence" baseFrequency="0.1" numOctaves="2" seed="35"/><feColorMatrix type="matrix" values="0 0 0 0 0.882 0 0 0 0 0.816 0 0 0 0 0.784 -12 0 0 0 1.5"/></filter>
<clipPath id="jt32c30"><path d="M1558.8 863.7 C1558.8 859.1 1561.9 859.9 1564.2 856.4 C1566.5 853.0 1571.7 845.4 1573.1 841.9 C1574.6 838.4 1570.3 838.9 1573.1 834.7 C1576.0 830.5 1585.3 819.3 1591.1 815.8 C1596.8 812.3 1605.3 814.5 1609.0 812.9 C1612.7 811.3 1611.5 808.0 1614.4 805.7 C1617.2 803.3 1617.7 799.6 1626.9 798.4 C1636.1 797.2 1662.6 797.2 1671.7 798.4 C1680.9 799.6 1680.9 802.9 1684.3 805.7 C1687.7 808.4 1693.3 812.3 1693.3 815.8 C1693.3 819.3 1684.6 823.2 1684.3 827.4 C1684.0 831.6 1692.0 836.8 1691.5 841.9 C1690.9 847.0 1683.6 854.7 1680.7 859.3 C1677.8 864.0 1673.5 866.8 1673.5 871.0 C1673.5 875.1 1680.7 880.4 1680.7 885.5 C1680.7 890.6 1675.8 898.2 1673.5 902.9 C1671.2 907.5 1668.1 909.8 1666.4 914.5 C1664.6 919.1 1662.8 927.2 1662.8 931.9 C1662.8 936.5 1675.5 941.6 1666.4 943.5 C1657.2 945.4 1617.5 947.0 1605.4 943.5 C1593.4 940.0 1596.2 928.7 1591.1 921.7 C1585.9 914.8 1577.4 905.8 1573.1 900.0 C1568.8 894.2 1566.5 891.3 1564.2 885.5 C1561.9 879.7 1558.8 868.3 1558.8 863.7Z "/></clipPath>
<filter id="sp61" x="0" y="0" width="1" height="1" color-interpolation-filters="sRGB"><feTurbulence type="fractalNoise" baseFrequency="0.32" numOctaves="2" seed="36"/><feColorMatrix type="matrix" values="0 0 0 0 0.235 0 0 0 0 0.125 0 0 0 0 0.110 9 0 0 0 -4.6"/></filter>
<clipPath id="jt32c31"><path d="M1558.8 863.7 C1558.8 859.1 1561.9 859.9 1564.2 856.4 C1566.5 853.0 1571.7 845.4 1573.1 841.9 C1574.6 838.4 1570.3 838.9 1573.1 834.7 C1576.0 830.5 1585.3 819.3 1591.1 815.8 C1596.8 812.3 1605.3 814.5 1609.0 812.9 C1612.7 811.3 1611.5 808.0 1614.4 805.7 C1617.2 803.3 1617.7 799.6 1626.9 798.4 C1636.1 797.2 1662.6 797.2 1671.7 798.4 C1680.9 799.6 1680.9 802.9 1684.3 805.7 C1687.7 808.4 1693.3 812.3 1693.3 815.8 C1693.3 819.3 1684.6 823.2 1684.3 827.4 C1684.0 831.6 1692.0 836.8 1691.5 841.9 C1690.9 847.0 1683.6 854.7 1680.7 859.3 C1677.8 864.0 1673.5 866.8 1673.5 871.0 C1673.5 875.1 1680.7 880.4 1680.7 885.5 C1680.7 890.6 1675.8 898.2 1673.5 902.9 C1671.2 907.5 1668.1 909.8 1666.4 914.5 C1664.6 919.1 1662.8 927.2 1662.8 931.9 C1662.8 936.5 1675.5 941.6 1666.4 943.5 C1657.2 945.4 1617.5 947.0 1605.4 943.5 C1593.4 940.0 1596.2 928.7 1591.1 921.7 C1585.9 914.8 1577.4 905.8 1573.1 900.0 C1568.8 894.2 1566.5 891.3 1564.2 885.5 C1561.9 879.7 1558.8 868.3 1558.8 863.7Z "/></clipPath>
<clipPath id="jt33"><rect x="1740.2" y="798.4" width="179.3" height="145.1"/></clipPath>
<filter id="sp62" x="0" y="0" width="1" height="1" color-interpolation-filters="sRGB"><feTurbulence type="fractalNoise" baseFrequency="0.2" numOctaves="2" seed="73"/><feColorMatrix type="matrix" values="0 0 0 0 0.471 0 0 0 0 0.510 0 0 0 0 0.667 9 0 0 0 -5.6"/></filter>
<filter id="rag74" x="-5%" y="-5%" width="110%" height="110%"><feTurbulence type="fractalNoise" baseFrequency="0.1" numOctaves="2" seed="74" result="t"/><feDisplacementMap in="SourceGraphic" in2="t" scale="6" xChannelSelector="R" yChannelSelector="G"/></filter>
<filter id="sp64" x="0" y="0" width="1" height="1" color-interpolation-filters="sRGB"><feTurbulence type="fractalNoise" baseFrequency="0.18" numOctaves="2" seed="37"/><feColorMatrix type="matrix" values="0 0 0 0 0.235 0 0 0 0 0.118 0 0 0 0 0.071 9 0 0 0 -4.2"/></filter>
<clipPath id="jt33c32"><path d="M1743.8 798.4 C1749.2 793.8 1771.6 795.6 1779.6 798.4 C1787.7 801.2 1789.4 807.7 1794.0 815.8 C1798.6 823.9 1804.0 838.0 1808.3 849.2 C1812.6 860.3 1816.9 873.9 1820.9 885.5 C1824.9 897.1 1830.6 912.4 1833.4 921.7 C1836.3 931.0 1845.1 940.0 1838.8 943.5 C1832.5 947.0 1804.0 949.3 1794.0 943.5 C1783.9 937.7 1781.8 920.0 1776.1 907.2 C1770.3 894.5 1763.0 876.5 1758.1 863.7 C1753.3 850.9 1747.9 837.9 1745.6 827.4 C1743.3 817.0 1738.3 803.0 1743.8 798.4Z M1803.0 798.4 C1807.8 793.8 1831.6 793.8 1838.8 798.4 C1846.0 803.0 1845.8 818.1 1847.8 827.4 C1849.8 836.7 1848.5 847.2 1851.4 856.4 C1854.2 865.7 1862.0 875.0 1865.7 885.5 C1869.4 895.9 1872.4 912.4 1874.7 921.7 C1877.0 931.0 1883.8 940.0 1880.1 943.5 C1876.3 947.0 1858.0 950.5 1851.4 943.5 C1844.8 936.5 1843.7 913.9 1838.8 900.0 C1833.9 886.0 1825.8 868.0 1820.9 856.4 C1816.0 844.8 1811.2 836.7 1808.3 827.4 C1805.5 818.1 1798.1 803.0 1803.0 798.4Z M1842.4 798.4 C1847.6 791.4 1874.0 794.9 1880.1 798.4 C1886.1 801.9 1881.8 813.2 1880.1 820.2 C1878.3 827.1 1869.3 837.3 1869.3 841.9 C1869.3 846.6 1877.8 844.5 1880.1 849.2 C1882.3 853.8 1881.6 862.8 1883.6 871.0 C1885.6 879.1 1889.7 890.7 1892.6 900.0 C1895.5 909.3 1901.6 922.0 1901.6 929.0 C1901.6 936.0 1897.8 947.0 1892.6 943.5 C1887.4 940.0 1875.0 918.8 1869.3 907.2 C1863.6 895.6 1860.2 881.4 1856.7 871.0 C1853.3 860.5 1850.1 853.5 1847.8 841.9 C1845.5 830.3 1837.2 805.4 1842.4 798.4Z M1887.2 798.4 C1891.5 796.1 1914.3 791.4 1919.5 798.4 C1924.7 805.4 1921.8 837.3 1919.5 841.9 C1917.2 846.6 1909.5 832.1 1905.2 827.4 C1900.9 822.8 1895.5 817.6 1892.6 812.9 C1889.7 808.3 1882.9 800.7 1887.2 798.4Z M1892.6 841.9 C1894.6 835.0 1906.2 839.6 1910.5 841.9 C1914.8 844.3 1918.1 844.8 1919.5 856.4 C1920.9 868.0 1922.4 904.0 1919.5 914.5 C1916.6 924.9 1905.0 926.4 1901.6 921.7 C1898.1 917.1 1899.4 898.2 1898.0 885.5 C1896.5 872.7 1890.6 848.9 1892.6 841.9Z M1740.2 871.0 C1741.6 861.7 1746.3 878.5 1749.2 885.5 C1752.0 892.4 1756.1 905.2 1758.1 914.5 C1760.1 923.8 1764.6 938.9 1761.7 943.5 C1758.8 948.1 1743.6 955.1 1740.2 943.5 C1736.8 931.9 1738.8 880.2 1740.2 871.0Z "/></clipPath>
<filter id="sp65" x="0" y="0" width="1" height="1" color-interpolation-filters="sRGB"><feTurbulence type="fractalNoise" baseFrequency="0.15" numOctaves="2" seed="38"/><feColorMatrix type="matrix" values="0 0 0 0 0.353 0 0 0 0 0.392 0 0 0 0 0.627 9 0 0 0 -5.3"/></filter>
<clipPath id="jt33c33"><path d="M1743.8 798.4 C1749.2 793.8 1771.6 795.6 1779.6 798.4 C1787.7 801.2 1789.4 807.7 1794.0 815.8 C1798.6 823.9 1804.0 838.0 1808.3 849.2 C1812.6 860.3 1816.9 873.9 1820.9 885.5 C1824.9 897.1 1830.6 912.4 1833.4 921.7 C1836.3 931.0 1845.1 940.0 1838.8 943.5 C1832.5 947.0 1804.0 949.3 1794.0 943.5 C1783.9 937.7 1781.8 920.0 1776.1 907.2 C1770.3 894.5 1763.0 876.5 1758.1 863.7 C1753.3 850.9 1747.9 837.9 1745.6 827.4 C1743.3 817.0 1738.3 803.0 1743.8 798.4Z M1803.0 798.4 C1807.8 793.8 1831.6 793.8 1838.8 798.4 C1846.0 803.0 1845.8 818.1 1847.8 827.4 C1849.8 836.7 1848.5 847.2 1851.4 856.4 C1854.2 865.7 1862.0 875.0 1865.7 885.5 C1869.4 895.9 1872.4 912.4 1874.7 921.7 C1877.0 931.0 1883.8 940.0 1880.1 943.5 C1876.3 947.0 1858.0 950.5 1851.4 943.5 C1844.8 936.5 1843.7 913.9 1838.8 900.0 C1833.9 886.0 1825.8 868.0 1820.9 856.4 C1816.0 844.8 1811.2 836.7 1808.3 827.4 C1805.5 818.1 1798.1 803.0 1803.0 798.4Z M1842.4 798.4 C1847.6 791.4 1874.0 794.9 1880.1 798.4 C1886.1 801.9 1881.8 813.2 1880.1 820.2 C1878.3 827.1 1869.3 837.3 1869.3 841.9 C1869.3 846.6 1877.8 844.5 1880.1 849.2 C1882.3 853.8 1881.6 862.8 1883.6 871.0 C1885.6 879.1 1889.7 890.7 1892.6 900.0 C1895.5 909.3 1901.6 922.0 1901.6 929.0 C1901.6 936.0 1897.8 947.0 1892.6 943.5 C1887.4 940.0 1875.0 918.8 1869.3 907.2 C1863.6 895.6 1860.2 881.4 1856.7 871.0 C1853.3 860.5 1850.1 853.5 1847.8 841.9 C1845.5 830.3 1837.2 805.4 1842.4 798.4Z M1887.2 798.4 C1891.5 796.1 1914.3 791.4 1919.5 798.4 C1924.7 805.4 1921.8 837.3 1919.5 841.9 C1917.2 846.6 1909.5 832.1 1905.2 827.4 C1900.9 822.8 1895.5 817.6 1892.6 812.9 C1889.7 808.3 1882.9 800.7 1887.2 798.4Z M1892.6 841.9 C1894.6 835.0 1906.2 839.6 1910.5 841.9 C1914.8 844.3 1918.1 844.8 1919.5 856.4 C1920.9 868.0 1922.4 904.0 1919.5 914.5 C1916.6 924.9 1905.0 926.4 1901.6 921.7 C1898.1 917.1 1899.4 898.2 1898.0 885.5 C1896.5 872.7 1890.6 848.9 1892.6 841.9Z M1740.2 871.0 C1741.6 861.7 1746.3 878.5 1749.2 885.5 C1752.0 892.4 1756.1 905.2 1758.1 914.5 C1760.1 923.8 1764.6 938.9 1761.7 943.5 C1758.8 948.1 1743.6 955.1 1740.2 943.5 C1736.8 931.9 1738.8 880.2 1740.2 871.0Z "/></clipPath>
<filter id="sp66" x="0" y="0" width="1" height="1" color-interpolation-filters="sRGB"><feTurbulence type="fractalNoise" baseFrequency="0.2" numOctaves="2" seed="39"/><feColorMatrix type="matrix" values="0 0 0 0 0.275 0 0 0 0 0.353 0 0 0 0 0.627 9 0 0 0 -5.0"/></filter>
<clipPath id="jt33c34"><path d="M1763.5 815.8 C1764.1 811.2 1767.2 807.6 1770.7 812.9 C1774.1 818.2 1780.4 835.3 1785.0 849.2 C1789.6 863.1 1795.6 886.0 1799.4 900.0 C1803.1 913.9 1809.2 930.4 1808.3 936.2 C1807.5 942.0 1798.6 944.4 1794.0 936.2 C1789.4 928.1 1783.9 900.6 1779.6 885.5 C1775.3 870.4 1769.7 853.1 1767.1 841.9 C1764.5 830.8 1762.9 820.5 1763.5 815.8Z "/></clipPath>
<clipPath id="jt40"><rect x="1185.4" y="949.7" width="179.3" height="146.0"/></clipPath>
<filter id="rag89" x="-5%" y="-5%" width="110%" height="110%"><feTurbulence type="fractalNoise" baseFrequency="0.08" numOctaves="2" seed="89" result="t"/><feDisplacementMap in="SourceGraphic" in2="t" scale="8" xChannelSelector="R" yChannelSelector="G"/></filter>
<filter id="sp68" x="0" y="0" width="1" height="1" color-interpolation-filters="sRGB"><feTurbulence type="fractalNoise" baseFrequency="0.35" numOctaves="2" seed="84"/><feColorMatrix type="matrix" values="0 0 0 0 0.569 0 0 0 0 0.373 0 0 0 0 0.412 9 0 0 0 -4.5"/></filter>
<clipPath id="jt40c35"><path d="M1235.6 993.5 C1239.9 985.8 1256.9 983.0 1266.1 981.8 C1275.3 980.7 1284.4 983.2 1293.0 986.2 C1301.6 989.2 1312.7 995.0 1319.9 1000.8 C1327.0 1006.6 1332.1 1016.9 1337.8 1022.7 C1343.5 1028.5 1352.9 1029.1 1355.7 1037.3 C1358.6 1045.5 1362.9 1068.0 1355.7 1073.8 C1348.6 1079.6 1325.3 1073.1 1310.9 1073.8 C1296.6 1074.5 1276.1 1080.5 1266.1 1078.2 C1256.0 1075.8 1252.5 1066.9 1248.2 1059.2 C1243.9 1051.5 1241.2 1040.5 1239.2 1030.0 C1237.2 1019.5 1231.3 1001.2 1235.6 993.5Z "/></clipPath>
<filter id="sp69" x="0" y="0" width="1" height="1" color-interpolation-filters="sRGB"><feTurbulence type="fractalNoise" baseFrequency="0.35" numOctaves="2" seed="85"/><feColorMatrix type="matrix" values="0 0 0 0 0.961 0 0 0 0 0.922 0 0 0 0 0.933 9 0 0 0 -5.2"/></filter>
<clipPath id="jt40c36"><path d="M1235.6 993.5 C1239.9 985.8 1256.9 983.0 1266.1 981.8 C1275.3 980.7 1284.4 983.2 1293.0 986.2 C1301.6 989.2 1312.7 995.0 1319.9 1000.8 C1327.0 1006.6 1332.1 1016.9 1337.8 1022.7 C1343.5 1028.5 1352.9 1029.1 1355.7 1037.3 C1358.6 1045.5 1362.9 1068.0 1355.7 1073.8 C1348.6 1079.6 1325.3 1073.1 1310.9 1073.8 C1296.6 1074.5 1276.1 1080.5 1266.1 1078.2 C1256.0 1075.8 1252.5 1066.9 1248.2 1059.2 C1243.9 1051.5 1241.2 1040.5 1239.2 1030.0 C1237.2 1019.5 1231.3 1001.2 1235.6 993.5Z "/></clipPath>
<filter id="sp70" x="0" y="0" width="1" height="1" color-interpolation-filters="sRGB"><feTurbulence type="fractalNoise" baseFrequency="0.17" numOctaves="2" seed="86"/><feColorMatrix type="matrix" values="0 0 0 0 0.478 0 0 0 0 0.298 0 0 0 0 0.314 10 0 0 0 -4.6"/></filter>
<clipPath id="jt40c37"><path d="M1185.4 949.7 C1201.2 932.4 1269.7 945.0 1284.0 949.7 C1298.4 954.4 1282.2 971.9 1275.1 978.9 C1267.9 985.9 1245.5 984.2 1239.2 993.5 C1232.9 1002.8 1238.5 1027.5 1235.6 1037.3 C1232.7 1047.1 1229.3 1051.5 1221.3 1054.8 C1213.2 1058.1 1191.1 1074.6 1185.4 1057.7 C1179.7 1040.9 1169.6 967.0 1185.4 949.7Z "/></clipPath>
<filter id="sp71" x="0" y="0" width="1" height="1" color-interpolation-filters="sRGB"><feTurbulence type="fractalNoise" baseFrequency="0.15" numOctaves="2" seed="87"/><feColorMatrix type="matrix" values="0 0 0 0 0.478 0 0 0 0 0.298 0 0 0 0 0.314 10 0 0 0 -4.9"/></filter>
<clipPath id="jt40c38"><path d="M1293.0 978.9 C1294.4 974.7 1317.4 980.7 1328.8 981.8 C1340.3 983.0 1359.0 972.7 1364.7 986.2 C1370.4 999.7 1367.6 1057.9 1364.7 1066.5 C1361.8 1075.1 1353.9 1049.6 1346.8 1040.2 C1339.6 1030.9 1328.5 1017.9 1319.9 1008.1 C1311.3 998.3 1291.5 983.1 1293.0 978.9Z "/></clipPath>
<filter id="sp72" x="0" y="0" width="1" height="1" color-interpolation-filters="sRGB"><feTurbulence type="fractalNoise" baseFrequency="0.4" numOctaves="2" seed="88"/><feColorMatrix type="matrix" values="0 0 0 0 0.471 0 0 0 0 0.392 0 0 0 0 0.549 10 0 0 0 -6.2"/></filter>
<clipPath id="jt41"><rect x="1370.3" y="949.7" width="179.4" height="146.0"/></clipPath>
<filter id="sp73" x="0" y="0" width="1" height="1" color-interpolation-filters="sRGB"><feTurbulence type="turbulence" baseFrequency="0.07" numOctaves="2" seed="43"/><feColorMatrix type="matrix" values="0 0 0 0 0.588 0 0 0 0 0.333 0 0 0 0 0.216 -13 0 0 0 1.5"/></filter>
<filter id="sp74" x="0" y="0" width="1" height="1" color-interpolation-filters="sRGB"><feTurbulence type="fractalNoise" baseFrequency="0.3" numOctaves="2" seed="44"/><feColorMatrix type="matrix" values="0 0 0 0 0.314 0 0 0 0 0.392 0 0 0 0 0.667 11 0 0 0 -7.0"/></filter>
<filter id="sp75" x="0" y="0" width="1" height="1" color-interpolation-filters="sRGB"><feTurbulence type="fractalNoise" baseFrequency="0.3" numOctaves="2" seed="45"/><feColorMatrix type="matrix" values="0 0 0 0 0.588 0 0 0 0 0.392 0 0 0 0 0.314 9 0 0 0 -5.4"/></filter>
<clipPath id="jt42"><rect x="1555.2" y="949.7" width="179.3" height="146.0"/></clipPath>
<filter id="rag65" x="-5%" y="-5%" width="110%" height="110%"><feTurbulence type="fractalNoise" baseFrequency="0.12" numOctaves="2" seed="65" result="t"/><feDisplacementMap in="SourceGraphic" in2="t" scale="6" xChannelSelector="R" yChannelSelector="G"/></filter>
<filter id="sp77" x="0" y="0" width="1" height="1" color-interpolation-filters="sRGB"><feTurbulence type="turbulence" baseFrequency="0.09" numOctaves="2" seed="46"/><feColorMatrix type="matrix" values="0 0 0 0 0.902 0 0 0 0 0.902 0 0 0 0 0.933 -11 0 0 0 1.7"/></filter>
<clipPath id="jt42c39"><path d="M1558.8 993.5 C1560.5 988.8 1566.7 989.7 1569.5 986.2 C1572.4 982.7 1571.8 975.6 1576.7 971.6 C1581.6 967.6 1593.4 963.7 1600.0 961.4 C1606.6 959.0 1612.2 958.9 1618.0 957.0 C1623.7 955.1 1628.7 950.9 1635.9 949.7 C1643.1 948.5 1657.9 947.4 1662.8 949.7 C1667.7 952.0 1666.9 957.3 1666.4 964.3 C1665.8 971.3 1659.8 985.3 1659.2 993.5 C1658.6 1001.7 1659.9 1008.4 1662.8 1015.4 C1665.6 1022.4 1672.8 1029.1 1677.1 1037.3 C1681.4 1045.5 1686.8 1057.2 1689.7 1066.5 C1692.5 1075.8 1709.4 1091.0 1695.1 1095.7 C1680.7 1100.4 1618.1 1100.4 1600.0 1095.7 C1582.0 1091.0 1587.0 1075.8 1582.1 1066.5 C1577.2 1057.2 1573.3 1045.5 1569.5 1037.3 C1565.8 1029.1 1560.5 1022.4 1558.8 1015.4 C1557.1 1008.4 1557.1 998.2 1558.8 993.5Z M1666.4 967.2 C1668.1 963.2 1676.1 960.7 1680.7 961.4 C1685.3 962.1 1690.8 972.3 1695.1 971.6 C1699.4 970.9 1704.7 954.7 1707.6 957.0 C1710.5 959.3 1713.8 978.0 1713.0 986.2 C1712.1 994.4 1706.0 1006.9 1702.2 1008.1 C1698.5 1009.3 1693.7 994.7 1689.7 993.5 C1685.7 992.3 1680.3 1002.0 1677.1 1000.8 C1674.0 999.6 1671.7 991.6 1670.0 986.2 C1668.2 980.8 1664.6 971.2 1666.4 967.2Z M1680.7 1015.4 C1683.0 1012.6 1693.5 1018.7 1698.6 1022.7 C1703.8 1026.7 1708.7 1033.7 1713.0 1040.2 C1717.3 1046.8 1722.1 1058.9 1725.5 1063.6 C1729.0 1068.3 1733.1 1064.3 1734.5 1069.4 C1735.9 1074.6 1738.8 1091.5 1734.5 1095.7 C1730.2 1099.9 1713.3 1100.4 1707.6 1095.7 C1701.9 1091.0 1702.4 1075.4 1698.6 1066.5 C1694.9 1057.6 1687.2 1048.4 1684.3 1040.2 C1681.4 1032.0 1678.4 1018.2 1680.7 1015.4Z "/></clipPath>
<filter id="sp78" x="0" y="0" width="1" height="1" color-interpolation-filters="sRGB"><feTurbulence type="fractalNoise" baseFrequency="0.3" numOctaves="2" seed="47"/><feColorMatrix type="matrix" values="0 0 0 0 0.235 0 0 0 0 0.353 0 0 0 0 0.745 9 0 0 0 -4.7"/></filter>
<clipPath id="jt42c40"><path d="M1558.8 993.5 C1560.5 988.8 1566.7 989.7 1569.5 986.2 C1572.4 982.7 1571.8 975.6 1576.7 971.6 C1581.6 967.6 1593.4 963.7 1600.0 961.4 C1606.6 959.0 1612.2 958.9 1618.0 957.0 C1623.7 955.1 1628.7 950.9 1635.9 949.7 C1643.1 948.5 1657.9 947.4 1662.8 949.7 C1667.7 952.0 1666.9 957.3 1666.4 964.3 C1665.8 971.3 1659.8 985.3 1659.2 993.5 C1658.6 1001.7 1659.9 1008.4 1662.8 1015.4 C1665.6 1022.4 1672.8 1029.1 1677.1 1037.3 C1681.4 1045.5 1686.8 1057.2 1689.7 1066.5 C1692.5 1075.8 1709.4 1091.0 1695.1 1095.7 C1680.7 1100.4 1618.1 1100.4 1600.0 1095.7 C1582.0 1091.0 1587.0 1075.8 1582.1 1066.5 C1577.2 1057.2 1573.3 1045.5 1569.5 1037.3 C1565.8 1029.1 1560.5 1022.4 1558.8 1015.4 C1557.1 1008.4 1557.1 998.2 1558.8 993.5Z M1666.4 967.2 C1668.1 963.2 1676.1 960.7 1680.7 961.4 C1685.3 962.1 1690.8 972.3 1695.1 971.6 C1699.4 970.9 1704.7 954.7 1707.6 957.0 C1710.5 959.3 1713.8 978.0 1713.0 986.2 C1712.1 994.4 1706.0 1006.9 1702.2 1008.1 C1698.5 1009.3 1693.7 994.7 1689.7 993.5 C1685.7 992.3 1680.3 1002.0 1677.1 1000.8 C1674.0 999.6 1671.7 991.6 1670.0 986.2 C1668.2 980.8 1664.6 971.2 1666.4 967.2Z M1680.7 1015.4 C1683.0 1012.6 1693.5 1018.7 1698.6 1022.7 C1703.8 1026.7 1708.7 1033.7 1713.0 1040.2 C1717.3 1046.8 1722.1 1058.9 1725.5 1063.6 C1729.0 1068.3 1733.1 1064.3 1734.5 1069.4 C1735.9 1074.6 1738.8 1091.5 1734.5 1095.7 C1730.2 1099.9 1713.3 1100.4 1707.6 1095.7 C1701.9 1091.0 1702.4 1075.4 1698.6 1066.5 C1694.9 1057.6 1687.2 1048.4 1684.3 1040.2 C1681.4 1032.0 1678.4 1018.2 1680.7 1015.4Z "/></clipPath>
<clipPath id="jt43"><rect x="1740.2" y="949.7" width="179.3" height="146.0"/></clipPath>
<filter id="sp79" x="0" y="0" width="1" height="1" color-interpolation-filters="sRGB"><feTurbulence type="fractalNoise" baseFrequency="0.2" numOctaves="2" seed="77"/><feColorMatrix type="matrix" values="0 0 0 0 0.588 0 0 0 0 0.647 0 0 0 0 0.784 9 0 0 0 -5.6"/></filter>
<filter id="rag78" x="-5%" y="-5%" width="110%" height="110%"><feTurbulence type="fractalNoise" baseFrequency="0.1" numOctaves="2" seed="78" result="t"/><feDisplacementMap in="SourceGraphic" in2="t" scale="6" xChannelSelector="R" yChannelSelector="G"/></filter>
<filter id="sp81" x="0" y="0" width="1" height="1" color-interpolation-filters="sRGB"><feTurbulence type="fractalNoise" baseFrequency="0.22" numOctaves="2" seed="48"/><feColorMatrix type="matrix" values="0 0 0 0 0.176 0 0 0 0 0.373 0 0 0 0 0.784 9 0 0 0 -4.4"/></filter>
<clipPath id="jt43c41"><path d="M1749.2 949.7 C1756.9 946.2 1789.0 945.0 1797.6 949.7 C1806.2 954.4 1800.7 969.6 1803.0 978.9 C1805.3 988.2 1807.6 998.8 1811.9 1008.1 C1816.2 1017.4 1824.7 1028.0 1829.8 1037.3 C1835.0 1046.6 1841.3 1057.2 1844.2 1066.5 C1847.1 1075.8 1855.8 1091.0 1847.8 1095.7 C1839.7 1100.4 1804.9 1101.5 1794.0 1095.7 C1783.1 1089.9 1783.9 1070.9 1779.6 1059.2 C1775.3 1047.5 1770.5 1033.2 1767.1 1022.7 C1763.7 1012.2 1761.0 1001.7 1758.1 993.5 C1755.3 985.3 1750.6 978.6 1749.2 971.6 C1747.7 964.6 1741.4 953.2 1749.2 949.7Z M1808.3 949.7 C1812.6 946.2 1832.5 946.2 1838.8 949.7 C1845.1 953.2 1844.9 964.6 1847.8 971.6 C1850.6 978.6 1853.3 988.8 1856.7 993.5 C1860.2 998.2 1865.6 998.5 1869.3 1000.8 C1873.0 1003.1 1877.8 1002.3 1880.1 1008.1 C1882.3 1013.9 1882.5 1028.0 1883.6 1037.3 C1884.8 1046.6 1885.8 1057.2 1887.2 1066.5 C1888.7 1075.8 1897.5 1091.0 1892.6 1095.7 C1887.7 1100.4 1864.5 1101.5 1856.7 1095.7 C1849.0 1089.9 1848.5 1070.9 1844.2 1059.2 C1839.9 1047.5 1833.6 1033.2 1829.8 1022.7 C1826.1 1012.2 1823.8 1001.7 1820.9 993.5 C1818.0 985.3 1813.9 978.6 1811.9 971.6 C1809.9 964.6 1804.0 953.2 1808.3 949.7Z M1844.2 949.7 C1847.6 945.0 1866.4 946.2 1869.3 949.7 C1872.2 953.2 1865.6 966.9 1862.1 971.6 C1858.7 976.3 1850.6 982.4 1847.8 978.9 C1844.9 975.4 1840.8 954.4 1844.2 949.7Z M1898.0 1030.0 C1900.6 1026.0 1910.7 1029.7 1914.1 1034.4 C1917.6 1039.1 1920.1 1051.7 1919.5 1059.2 C1918.9 1066.7 1914.0 1081.1 1910.5 1081.1 C1907.1 1081.1 1900.0 1067.4 1898.0 1059.2 C1896.0 1051.0 1895.4 1034.0 1898.0 1030.0Z M1740.2 1030.0 C1743.1 1020.7 1753.8 1031.5 1758.1 1037.3 C1762.4 1043.1 1767.1 1057.2 1767.1 1066.5 C1767.1 1075.8 1762.4 1091.0 1758.1 1095.7 C1753.8 1100.4 1743.1 1106.2 1740.2 1095.7 C1737.3 1085.2 1737.3 1039.3 1740.2 1030.0Z "/></clipPath>
<filter id="sp82" x="0" y="0" width="1" height="1" color-interpolation-filters="sRGB"><feTurbulence type="fractalNoise" baseFrequency="0.22" numOctaves="2" seed="49"/><feColorMatrix type="matrix" values="0 0 0 0 0.804 0 0 0 0 0.824 0 0 0 0 0.894 9 0 0 0 -4.9"/></filter>
<clipPath id="jt43c42"><path d="M1749.2 949.7 C1756.9 946.2 1789.0 945.0 1797.6 949.7 C1806.2 954.4 1800.7 969.6 1803.0 978.9 C1805.3 988.2 1807.6 998.8 1811.9 1008.1 C1816.2 1017.4 1824.7 1028.0 1829.8 1037.3 C1835.0 1046.6 1841.3 1057.2 1844.2 1066.5 C1847.1 1075.8 1855.8 1091.0 1847.8 1095.7 C1839.7 1100.4 1804.9 1101.5 1794.0 1095.7 C1783.1 1089.9 1783.9 1070.9 1779.6 1059.2 C1775.3 1047.5 1770.5 1033.2 1767.1 1022.7 C1763.7 1012.2 1761.0 1001.7 1758.1 993.5 C1755.3 985.3 1750.6 978.6 1749.2 971.6 C1747.7 964.6 1741.4 953.2 1749.2 949.7Z M1808.3 949.7 C1812.6 946.2 1832.5 946.2 1838.8 949.7 C1845.1 953.2 1844.9 964.6 1847.8 971.6 C1850.6 978.6 1853.3 988.8 1856.7 993.5 C1860.2 998.2 1865.6 998.5 1869.3 1000.8 C1873.0 1003.1 1877.8 1002.3 1880.1 1008.1 C1882.3 1013.9 1882.5 1028.0 1883.6 1037.3 C1884.8 1046.6 1885.8 1057.2 1887.2 1066.5 C1888.7 1075.8 1897.5 1091.0 1892.6 1095.7 C1887.7 1100.4 1864.5 1101.5 1856.7 1095.7 C1849.0 1089.9 1848.5 1070.9 1844.2 1059.2 C1839.9 1047.5 1833.6 1033.2 1829.8 1022.7 C1826.1 1012.2 1823.8 1001.7 1820.9 993.5 C1818.0 985.3 1813.9 978.6 1811.9 971.6 C1809.9 964.6 1804.0 953.2 1808.3 949.7Z M1844.2 949.7 C1847.6 945.0 1866.4 946.2 1869.3 949.7 C1872.2 953.2 1865.6 966.9 1862.1 971.6 C1858.7 976.3 1850.6 982.4 1847.8 978.9 C1844.9 975.4 1840.8 954.4 1844.2 949.7Z M1898.0 1030.0 C1900.6 1026.0 1910.7 1029.7 1914.1 1034.4 C1917.6 1039.1 1920.1 1051.7 1919.5 1059.2 C1918.9 1066.7 1914.0 1081.1 1910.5 1081.1 C1907.1 1081.1 1900.0 1067.4 1898.0 1059.2 C1896.0 1051.0 1895.4 1034.0 1898.0 1030.0Z M1740.2 1030.0 C1743.1 1020.7 1753.8 1031.5 1758.1 1037.3 C1762.4 1043.1 1767.1 1057.2 1767.1 1066.5 C1767.1 1075.8 1762.4 1091.0 1758.1 1095.7 C1753.8 1100.4 1743.1 1106.2 1740.2 1095.7 C1737.3 1085.2 1737.3 1039.3 1740.2 1030.0Z "/></clipPath>
<filter id="bl6" x="-50%" y="-100%" width="200%" height="300%"><feGaussianBlur stdDeviation="0.6"/></filter>
<filter id="bl8" x="-50%" y="-100%" width="200%" height="300%"><feGaussianBlur stdDeviation="0.8"/></filter>
<filter id="bl10" x="-50%" y="-100%" width="200%" height="300%"><feGaussianBlur stdDeviation="1.0"/></filter>
<filter id="bl12" x="-50%" y="-100%" width="200%" height="300%"><feGaussianBlur stdDeviation="1.2"/></filter>
<filter id="bl14" x="-50%" y="-100%" width="200%" height="300%"><feGaussianBlur stdDeviation="1.4"/></filter>
<filter id="bl16" x="-50%" y="-100%" width="200%" height="300%"><feGaussianBlur stdDeviation="1.6"/></filter>
<filter id="bl18" x="-50%" y="-100%" width="200%" height="300%"><feGaussianBlur stdDeviation="1.8"/></filter>
<filter id="bl20" x="-50%" y="-100%" width="200%" height="300%"><feGaussianBlur stdDeviation="2.0"/></filter>
<filter id="bl25" x="-50%" y="-100%" width="200%" height="300%"><feGaussianBlur stdDeviation="2.5"/></filter>
<filter id="bl30" x="-50%" y="-100%" width="200%" height="300%"><feGaussianBlur stdDeviation="3.0"/></filter></defs>
<rect width="1973" height="1104" fill="#fff"/>
<text x="0.0" y="196.5" font-size="24" font-weight="bold">A</text>
<text x="157.1" y="46.0" font-size="20.5" text-anchor="middle">Scr</text>
<text x="157.0" y="70.4" font-size="20.5" text-anchor="middle">siRNA</text>
<text x="229.7" y="46.0" font-size="20.5" text-anchor="middle">HOXD9</text>
<text x="229.5" y="70.4" font-size="20.5" text-anchor="middle">siRNAp</text>
<text x="370.6" y="46.0" font-size="20.5" text-anchor="middle">Scr</text>
<text x="370.6" y="70.2" font-size="20.5" text-anchor="middle">siRNA</text>
<text x="446.8" y="46.0" font-size="20.5" text-anchor="middle">HOXD9</text>
<text x="446.4" y="70.2" font-size="20.5" text-anchor="middle">siRNAp</text>
<text x="104.0" y="114.4" font-size="20.5" text-anchor="end">HOXD9</text>
<text x="104.0" y="167.0" font-size="20.5" text-anchor="end">PABPC1</text>
<text x="104.0" y="212.5" font-size="20.5" text-anchor="end">PAK1</text>
<text x="104.0" y="261.1" font-size="20.5" text-anchor="end">GAPDH</text>
<text x="275.7" y="105.3" font-size="16">37kDa</text>
<text x="275.7" y="155.8" font-size="16">71kDa</text>
<text x="275.7" y="207.8" font-size="16">65kDa</text>
<text x="275.7" y="259.7" font-size="16">36kDa</text>
<g clip-path="url(#ca0)">
<rect x="110.4" y="77.8" width="159.5" height="45.5" fill="rgb(222,222,222)"/>
<rect x="110.4" y="77.8" width="159.5" height="45.5" fill="url(#ca0s)"/>
<rect x="134.0" y="98.0" width="52.0" height="12.0" rx="6.0" fill="rgb(0,0,0)" filter="url(#bl18)" transform="rotate(-3 160.0 104.0)"/>
<rect x="203.0" y="96.5" width="48.0" height="7.0" rx="3.5" fill="rgb(56,56,56)" filter="url(#bl18)" transform="rotate(-1 227.0 100.0)"/>
</g>
<rect x="111.2" y="78.6" width="157.9" height="43.9" fill="none" stroke="#111" stroke-width="1.7"/>
<g clip-path="url(#ca1)">
<rect x="110.4" y="128.6" width="159.5" height="45.4" fill="rgb(220,220,220)"/>
<rect x="110.4" y="128.6" width="159.5" height="45.4" fill="url(#ca1s)"/>
<rect x="135.0" y="148.5" width="52.0" height="5.0" rx="2.5" fill="rgb(33,33,33)" filter="url(#bl18)"/>
<rect x="200.5" y="147.0" width="51.0" height="4.0" rx="2.0" fill="rgb(88,88,88)" filter="url(#bl18)" transform="rotate(-2 226.0 149.0)"/>
</g>
<rect x="111.2" y="129.4" width="157.9" height="43.8" fill="none" stroke="#111" stroke-width="1.7"/>
<g clip-path="url(#ca2)">
<rect x="110.4" y="180.5" width="159.5" height="44.5" fill="url(#ca2g)"/>
<rect x="110.4" y="180.5" width="159.5" height="44.5" fill="url(#ca2s)"/>
<rect x="136.0" y="197.5" width="50.0" height="7.0" rx="3.5" fill="rgb(110,110,110)" filter="url(#bl18)"/>
<rect x="202.0" y="198.0" width="50.0" height="6.0" rx="3.0" fill="rgb(156,156,156)" filter="url(#bl18)"/>
</g>
<rect x="111.2" y="181.3" width="157.9" height="42.9" fill="none" stroke="#111" stroke-width="1.7"/>
<g clip-path="url(#ca3)">
<rect x="110.4" y="231.0" width="159.5" height="45.0" fill="rgb(218,218,218)"/>
<rect x="110.4" y="231.0" width="159.5" height="45.0" fill="url(#ca3s)"/>
<rect x="134.0" y="246.5" width="60.0" height="15.0" rx="7.5" fill="rgb(0,0,0)" filter="url(#bl18)"/>
<rect x="202.0" y="246.5" width="52.0" height="15.0" rx="7.5" fill="rgb(0,0,0)" filter="url(#bl18)"/>
</g>
<rect x="111.2" y="231.8" width="157.9" height="43.4" fill="none" stroke="#111" stroke-width="1.7"/>
<g clip-path="url(#cm0)">
<rect x="328.0" y="76.4" width="159.0" height="45.2" fill="rgb(222,222,222)"/>
<rect x="328.0" y="76.4" width="159.0" height="45.2" fill="url(#cm0s)"/>
<rect x="344.5" y="96.5" width="51.0" height="7.0" rx="3.5" fill="rgb(22,22,22)" filter="url(#bl18)"/>
<rect x="415.0" y="95.0" width="52.0" height="5.0" rx="2.5" fill="rgb(89,89,89)" filter="url(#bl18)" transform="rotate(-2 441.0 97.5)"/>
</g>
<rect x="328.8" y="77.2" width="157.4" height="43.6" fill="none" stroke="#111" stroke-width="1.7"/>
<g clip-path="url(#cm1)">
<rect x="328.0" y="129.0" width="159.0" height="45.0" fill="rgb(222,222,222)"/>
<rect x="328.0" y="129.0" width="159.0" height="45.0" fill="url(#cm1s)"/>
<rect x="347.0" y="146.5" width="52.0" height="9.0" rx="4.5" fill="rgb(0,0,0)" filter="url(#bl18)"/>
<rect x="415.0" y="148.5" width="54.0" height="5.0" rx="2.5" fill="rgb(166,166,166)" filter="url(#bl18)"/>
</g>
<rect x="328.8" y="129.8" width="157.4" height="43.4" fill="none" stroke="#111" stroke-width="1.7"/>
<g clip-path="url(#cm2)">
<rect x="328.0" y="180.5" width="159.0" height="44.5" fill="url(#cm2g)"/>
<rect x="328.0" y="180.5" width="159.0" height="44.5" fill="url(#cm2s)"/>
<rect x="344.0" y="204.0" width="50.0" height="5.0" rx="2.5" fill="rgb(78,78,78)" filter="url(#bl18)"/>
<rect x="415.0" y="204.0" width="50.0" height="5.0" rx="2.5" fill="rgb(167,167,167)" filter="url(#bl18)"/>
</g>
<rect x="328.8" y="181.3" width="157.4" height="42.9" fill="none" stroke="#111" stroke-width="1.7"/>
<g clip-path="url(#cm3)">
<rect x="328.0" y="232.0" width="159.0" height="44.6" fill="url(#cm3g)"/>
<rect x="328.0" y="232.0" width="159.0" height="44.6" fill="url(#cm3s)"/>
<rect x="337.5" y="250.5" width="55.0" height="9.0" rx="4.5" fill="rgb(0,0,0)" filter="url(#bl18)"/>
<rect x="411.5" y="248.3" width="49.0" height="10.0" rx="5.0" fill="rgb(0,0,0)" filter="url(#bl18)"/>
</g>
<rect x="328.8" y="232.8" width="157.4" height="43.0" fill="none" stroke="#111" stroke-width="1.7"/>
<line x1="112.3" y1="280.8" x2="264.5" y2="280.8" stroke="#444" stroke-width="1"/>
<line x1="331.9" y1="280.8" x2="483.5" y2="280.8" stroke="#444" stroke-width="1"/>
<text x="186.7" y="304.6" font-size="20.5" text-anchor="middle">AGS</text>
<text x="412.2" y="304.6" font-size="20.5" text-anchor="middle">MKN-74</text>
<text x="520.0" y="193.8" font-size="24" font-weight="bold">B</text>
<text x="622.0" y="108.1" font-size="20.5" text-anchor="end">HOXD9</text>
<text x="622.0" y="172.7" font-size="20.5" text-anchor="end">PABPC1</text>
<text x="622.0" y="244.4" font-size="20.5" text-anchor="end">PAK1</text>
<text x="622.0" y="298.7" font-size="20.5" text-anchor="end">GAPDH</text>
<text x="1926.3" y="103.0" font-size="16">37kDa</text>
<text x="1926.3" y="168.4" font-size="16">71kDa</text>
<text x="1926.3" y="246.3" font-size="16">65kDa</text>
<text x="1926.3" y="302.0" font-size="16">36kDa</text>
<text x="675.9" y="15.4" font-size="20" text-anchor="middle">1</text>
<line x1="648.9" y1="20.5" x2="702.9" y2="20.5" stroke="#777" stroke-width="1.3"/>
<text x="657.6" y="44.4" font-size="20.5" text-anchor="middle">N</text>
<text x="692.7" y="44.4" font-size="20.5" text-anchor="middle">T</text>
<text x="628.1" y="67.4" font-size="19.3">100</text>
<text x="708.7" y="67.4" font-size="19.3" text-anchor="end">245</text>
<text x="628.1" y="138.2" font-size="19.3">100</text>
<text x="708.7" y="138.2" font-size="19.3" text-anchor="end">481</text>
<text x="628.1" y="209.3" font-size="19.3">100</text>
<text x="708.7" y="209.3" font-size="19.3" text-anchor="end">284</text>
<g clip-path="url(#cb0_0)">
<rect x="632.3" y="72.4" width="78.6" height="44.4" fill="rgb(232,232,232)"/>
<rect x="632.3" y="72.4" width="78.6" height="44.4" fill="url(#cb0_0s)"/>
<rect x="641.6" y="94.3" width="30.0" height="6.0" rx="3.0" fill="rgb(128,128,128)" filter="url(#bl18)"/>
<rect x="675.7" y="93.3" width="28.0" height="8.0" rx="4.0" fill="rgb(88,88,88)" filter="url(#bl18)"/>
</g>
<rect x="633.1" y="73.2" width="77.0" height="42.8" fill="none" stroke="#111" stroke-width="1.7"/>
<line x1="639.8" y1="75.4" x2="639.1" y2="100.4" stroke="#222" stroke-width="1.2" filter="url(#bl6)"/>
<g clip-path="url(#cb1_0)">
<rect x="632.3" y="143.5" width="78.6" height="44.9" fill="rgb(222,222,222)"/>
<rect x="632.3" y="143.5" width="78.6" height="44.9" fill="url(#cb1_0s)"/>
<rect x="644.6" y="166.1" width="24.0" height="5.0" rx="2.5" fill="rgb(209,209,209)" filter="url(#bl18)"/>
<rect x="676.7" y="165.1" width="26.0" height="7.0" rx="3.5" fill="rgb(27,27,27)" filter="url(#bl18)"/>
</g>
<rect x="633.1" y="144.3" width="77.0" height="43.3" fill="none" stroke="#111" stroke-width="1.7"/>
<g clip-path="url(#cb2_0)">
<rect x="632.3" y="213.3" width="78.6" height="44.9" fill="rgb(215,215,215)"/>
<rect x="632.3" y="213.3" width="78.6" height="44.9" fill="url(#cb2_0s)"/>
<rect x="643.6" y="235.9" width="26.0" height="5.0" rx="2.5" fill="rgb(183,183,183)" filter="url(#bl18)"/>
<rect x="676.7" y="234.4" width="26.0" height="8.0" rx="4.0" fill="rgb(11,11,11)" filter="url(#bl18)"/>
</g>
<rect x="633.1" y="214.1" width="77.0" height="43.3" fill="none" stroke="#111" stroke-width="1.7"/>
<g clip-path="url(#cb3_0)">
<rect x="632.3" y="270.5" width="78.6" height="44.3" fill="rgb(215,215,215)"/>
<rect x="632.3" y="270.5" width="78.6" height="44.3" fill="url(#cb3_0s)"/>
<rect x="640.6" y="285.0" width="32.0" height="12.0" rx="6.0" fill="rgb(0,0,0)" filter="url(#bl18)"/>
<rect x="671.7" y="283.5" width="34.0" height="13.0" rx="6.5" fill="rgb(0,0,0)" filter="url(#bl18)"/>
</g>
<rect x="633.1" y="271.3" width="77.0" height="42.7" fill="none" stroke="#111" stroke-width="1.7"/>
<text x="760.1" y="15.4" font-size="20" text-anchor="middle">2</text>
<line x1="733.1" y1="20.5" x2="787.1" y2="20.5" stroke="#777" stroke-width="1.3"/>
<text x="743.3" y="44.4" font-size="20.5" text-anchor="middle">N</text>
<text x="777.8" y="44.4" font-size="20.5" text-anchor="middle">T</text>
<text x="718.9" y="67.4" font-size="19.3">100</text>
<text x="795.2" y="67.4" font-size="19.3" text-anchor="end">152</text>
<text x="718.9" y="138.2" font-size="19.3">100</text>
<text x="795.2" y="138.2" font-size="19.3" text-anchor="end">128</text>
<text x="718.9" y="209.3" font-size="19.3">100</text>
<text x="795.2" y="209.3" font-size="19.3" text-anchor="end">133</text>
<g clip-path="url(#cb0_1)">
<rect x="718.9" y="72.4" width="78.6" height="44.4" fill="rgb(240,240,240)"/>
<rect x="718.9" y="72.4" width="78.6" height="44.4" fill="url(#cb0_1s)"/>
<rect x="731.3" y="94.3" width="22.0" height="6.0" rx="3.0" fill="rgb(106,106,106)" filter="url(#bl18)"/>
<rect x="761.8" y="93.3" width="26.0" height="8.0" rx="4.0" fill="rgb(66,66,66)" filter="url(#bl18)"/>
</g>
<rect x="719.7" y="73.2" width="77.0" height="42.8" fill="none" stroke="#111" stroke-width="1.7"/>
<g clip-path="url(#cb1_1)">
<rect x="718.9" y="143.5" width="78.6" height="44.9" fill="rgb(225,225,225)"/>
<rect x="718.9" y="143.5" width="78.6" height="44.9" fill="url(#cb1_1s)"/>
<rect x="730.3" y="166.6" width="24.0" height="4.0" rx="2.0" fill="rgb(198,198,198)" filter="url(#bl18)"/>
<rect x="762.8" y="165.1" width="24.0" height="5.0" rx="2.5" fill="rgb(158,158,158)" filter="url(#bl18)"/>
</g>
<rect x="719.7" y="144.3" width="77.0" height="43.3" fill="none" stroke="#111" stroke-width="1.7"/>
<g clip-path="url(#cb2_1)">
<rect x="718.9" y="213.3" width="78.6" height="44.9" fill="rgb(210,210,210)"/>
<rect x="718.9" y="213.3" width="78.6" height="44.9" fill="url(#cb2_1s)"/>
<rect x="729.3" y="234.9" width="26.0" height="7.0" rx="3.5" fill="rgb(32,32,32)" filter="url(#bl18)"/>
<rect x="761.8" y="234.9" width="26.0" height="7.0" rx="3.5" fill="rgb(32,32,32)" filter="url(#bl18)"/>
</g>
<rect x="719.7" y="214.1" width="77.0" height="43.3" fill="none" stroke="#111" stroke-width="1.7"/>
<g clip-path="url(#cb3_1)">
<rect x="718.9" y="270.5" width="78.6" height="44.3" fill="rgb(215,215,215)"/>
<rect x="718.9" y="270.5" width="78.6" height="44.3" fill="url(#cb3_1s)"/>
<rect x="726.3" y="285.0" width="32.0" height="12.0" rx="6.0" fill="rgb(0,0,0)" filter="url(#bl18)"/>
<rect x="756.8" y="283.5" width="34.0" height="13.0" rx="6.5" fill="rgb(0,0,0)" filter="url(#bl18)"/>
</g>
<rect x="719.7" y="271.3" width="77.0" height="42.7" fill="none" stroke="#111" stroke-width="1.7"/>
<text x="847.2" y="15.4" font-size="20" text-anchor="middle">3</text>
<line x1="820.2" y1="20.5" x2="874.2" y2="20.5" stroke="#777" stroke-width="1.3"/>
<text x="829.8" y="44.4" font-size="20.5" text-anchor="middle">N</text>
<text x="864.6" y="44.4" font-size="20.5" text-anchor="middle">T</text>
<text x="806.5" y="67.4" font-size="19.3">100</text>
<text x="880.9" y="67.4" font-size="19.3" text-anchor="end">358</text>
<text x="806.5" y="138.2" font-size="19.3">100</text>
<text x="880.9" y="138.2" font-size="19.3" text-anchor="end">435</text>
<text x="806.5" y="209.3" font-size="19.3">100</text>
<text x="880.9" y="209.3" font-size="19.3" text-anchor="end">150</text>
<g clip-path="url(#cb0_2)">
<rect x="805.6" y="72.4" width="78.6" height="44.4" fill="rgb(232,232,232)"/>
<rect x="805.6" y="72.4" width="78.6" height="44.4" fill="url(#cb0_2s)"/>
<rect x="816.8" y="94.8" width="24.0" height="5.0" rx="2.5" fill="rgb(162,162,162)" filter="url(#bl18)"/>
<rect x="844.6" y="92.8" width="34.0" height="9.0" rx="4.5" fill="rgb(23,23,23)" filter="url(#bl18)"/>
</g>
<rect x="806.4" y="73.2" width="77.0" height="42.8" fill="none" stroke="#111" stroke-width="1.7"/>
<g clip-path="url(#cb1_2)">
<rect x="805.6" y="143.5" width="78.6" height="44.9" fill="rgb(222,222,222)"/>
<rect x="805.6" y="143.5" width="78.6" height="44.9" fill="url(#cb1_2s)"/>
<rect x="816.8" y="168.6" width="24.0" height="4.0" rx="2.0" fill="rgb(195,195,195)" filter="url(#bl18)"/>
<rect x="847.6" y="164.6" width="28.0" height="8.0" rx="4.0" fill="rgb(11,11,11)" filter="url(#bl18)"/>
</g>
<rect x="806.4" y="144.3" width="77.0" height="43.3" fill="none" stroke="#111" stroke-width="1.7"/>
<g clip-path="url(#cb2_2)">
<rect x="805.6" y="213.3" width="78.6" height="44.9" fill="rgb(220,220,220)"/>
<rect x="805.6" y="213.3" width="78.6" height="44.9" fill="url(#cb2_2s)"/>
<rect x="815.8" y="237.9" width="26.0" height="5.0" rx="2.5" fill="rgb(176,176,176)" filter="url(#bl18)"/>
<rect x="848.6" y="237.4" width="26.0" height="6.0" rx="3.0" fill="rgb(84,84,84)" filter="url(#bl18)"/>
</g>
<rect x="806.4" y="214.1" width="77.0" height="43.3" fill="none" stroke="#111" stroke-width="1.7"/>
<g clip-path="url(#cb3_2)">
<rect x="805.6" y="270.5" width="78.6" height="44.3" fill="rgb(215,215,215)"/>
<rect x="805.6" y="270.5" width="78.6" height="44.3" fill="url(#cb3_2s)"/>
<rect x="812.8" y="286.3" width="32.0" height="12.0" rx="6.0" fill="rgb(0,0,0)" filter="url(#bl18)"/>
<rect x="843.6" y="284.8" width="34.0" height="13.0" rx="6.5" fill="rgb(0,0,0)" filter="url(#bl18)"/>
</g>
<rect x="806.4" y="271.3" width="77.0" height="42.7" fill="none" stroke="#111" stroke-width="1.7"/>
<text x="933.4" y="15.4" font-size="20" text-anchor="middle">4</text>
<line x1="906.4" y1="20.5" x2="960.4" y2="20.5" stroke="#777" stroke-width="1.3"/>
<text x="916.0" y="44.4" font-size="20.5" text-anchor="middle">N</text>
<text x="950.3" y="44.4" font-size="20.5" text-anchor="middle">T</text>
<text x="890.2" y="67.4" font-size="19.3">100</text>
<text x="968.0" y="67.4" font-size="19.3" text-anchor="end">145</text>
<text x="890.2" y="138.2" font-size="19.3">100</text>
<text x="968.0" y="138.2" font-size="19.3" text-anchor="end">233</text>
<text x="890.2" y="209.3" font-size="19.3">100</text>
<text x="968.0" y="209.3" font-size="19.3" text-anchor="end">154</text>
<g clip-path="url(#cb0_3)">
<rect x="891.6" y="72.4" width="78.6" height="44.4" fill="url(#cb0_3g)"/>
<rect x="891.6" y="72.4" width="78.6" height="44.4" fill="url(#cb0_3s)"/>
<rect x="901.0" y="95.8" width="28.0" height="9.0" rx="4.5" fill="rgb(27,27,27)" filter="url(#bl18)"/>
<rect x="931.3" y="90.3" width="32.0" height="12.0" rx="6.0" fill="rgb(9,9,9)" filter="url(#bl18)"/>
</g>
<rect x="892.4" y="73.2" width="77.0" height="42.8" fill="none" stroke="#111" stroke-width="1.7"/>
<g clip-path="url(#cb1_3)">
<rect x="891.6" y="143.5" width="78.6" height="44.9" fill="rgb(210,210,210)"/>
<rect x="891.6" y="143.5" width="78.6" height="44.9" fill="url(#cb1_3s)"/>
<rect x="903.0" y="166.6" width="24.0" height="4.0" rx="2.0" fill="rgb(185,185,185)" filter="url(#bl18)"/>
<rect x="935.3" y="163.6" width="24.0" height="6.0" rx="3.0" fill="rgb(32,32,32)" filter="url(#bl18)"/>
</g>
<rect x="892.4" y="144.3" width="77.0" height="43.3" fill="none" stroke="#111" stroke-width="1.7"/>
<g clip-path="url(#cb2_3)">
<rect x="891.6" y="213.3" width="78.6" height="44.9" fill="rgb(215,215,215)"/>
<rect x="891.6" y="213.3" width="78.6" height="44.9" fill="url(#cb2_3s)"/>
<rect x="903.0" y="237.9" width="24.0" height="5.0" rx="2.5" fill="rgb(172,172,172)" filter="url(#bl18)"/>
<rect x="935.3" y="237.4" width="24.0" height="6.0" rx="3.0" fill="rgb(86,86,86)" filter="url(#bl18)"/>
</g>
<rect x="892.4" y="214.1" width="77.0" height="43.3" fill="none" stroke="#111" stroke-width="1.7"/>
<g clip-path="url(#cb3_3)">
<rect x="891.6" y="270.5" width="78.6" height="44.3" fill="rgb(210,210,210)"/>
<rect x="891.6" y="270.5" width="78.6" height="44.3" fill="url(#cb3_3s)"/>
<rect x="899.0" y="285.0" width="32.0" height="12.0" rx="6.0" fill="rgb(0,0,0)" filter="url(#bl18)"/>
<rect x="929.3" y="283.5" width="34.0" height="13.0" rx="6.5" fill="rgb(0,0,0)" filter="url(#bl18)"/>
</g>
<rect x="892.4" y="271.3" width="77.0" height="42.7" fill="none" stroke="#111" stroke-width="1.7"/>
<text x="1017.6" y="15.4" font-size="20" text-anchor="middle">5</text>
<line x1="990.6" y1="20.5" x2="1044.6" y2="20.5" stroke="#777" stroke-width="1.3"/>
<text x="999.3" y="44.4" font-size="20.5" text-anchor="middle">N</text>
<text x="1035.2" y="44.4" font-size="20.5" text-anchor="middle">T</text>
<text x="976.8" y="67.4" font-size="19.3">100</text>
<text x="1052.6" y="67.4" font-size="19.3" text-anchor="end">279</text>
<text x="976.8" y="138.2" font-size="19.3">100</text>
<text x="1052.6" y="138.2" font-size="19.3" text-anchor="end">334</text>
<text x="976.8" y="209.3" font-size="19.3">100</text>
<text x="1052.6" y="209.3" font-size="19.3" text-anchor="end">273</text>
<g clip-path="url(#cb0_4)">
<rect x="978.2" y="72.4" width="78.6" height="44.4" fill="rgb(228,228,228)"/>
<rect x="978.2" y="72.4" width="78.6" height="44.4" fill="url(#cb0_4s)"/>
<rect x="986.3" y="95.8" width="24.0" height="7.0" rx="3.5" fill="rgb(46,46,46)" filter="url(#bl18)"/>
<rect x="1015.2" y="87.3" width="34.0" height="16.0" rx="8.0" fill="rgb(0,0,0)" filter="url(#bl18)"/>
</g>
<rect x="979.0" y="73.2" width="77.0" height="42.8" fill="none" stroke="#111" stroke-width="1.7"/>
<g clip-path="url(#cb1_4)">
<rect x="978.2" y="143.5" width="78.6" height="44.9" fill="rgb(235,235,235)"/>
<rect x="978.2" y="143.5" width="78.6" height="44.9" fill="url(#cb1_4s)"/>
<rect x="986.3" y="166.6" width="24.0" height="4.0" rx="2.0" fill="rgb(216,216,216)" filter="url(#bl18)"/>
<rect x="1017.2" y="165.6" width="30.0" height="8.0" rx="4.0" fill="rgb(106,106,106)" filter="url(#bl18)"/>
</g>
<rect x="979.0" y="144.3" width="77.0" height="43.3" fill="none" stroke="#111" stroke-width="1.7"/>
<g clip-path="url(#cb2_4)">
<rect x="978.2" y="213.3" width="78.6" height="44.9" fill="rgb(212,212,212)"/>
<rect x="978.2" y="213.3" width="78.6" height="44.9" fill="url(#cb2_4s)"/>
<rect x="986.3" y="235.9" width="24.0" height="5.0" rx="2.5" fill="rgb(208,208,208)" filter="url(#bl18)"/>
<rect x="1020.2" y="239.4" width="24.0" height="6.0" rx="3.0" fill="rgb(81,81,81)" filter="url(#bl18)"/>
</g>
<rect x="979.0" y="214.1" width="77.0" height="43.3" fill="none" stroke="#111" stroke-width="1.7"/>
<g clip-path="url(#cb3_4)">
<rect x="978.2" y="270.5" width="78.6" height="44.3" fill="rgb(215,215,215)"/>
<rect x="978.2" y="270.5" width="78.6" height="44.3" fill="url(#cb3_4s)"/>
<rect x="982.3" y="285.4" width="32.0" height="12.0" rx="6.0" fill="rgb(0,0,0)" filter="url(#bl18)"/>
<rect x="1014.2" y="283.9" width="34.0" height="13.0" rx="6.5" fill="rgb(0,0,0)" filter="url(#bl18)"/>
</g>
<rect x="979.0" y="271.3" width="77.0" height="42.7" fill="none" stroke="#111" stroke-width="1.7"/>
<text x="1103.2" y="15.4" font-size="20" text-anchor="middle">6</text>
<line x1="1076.2" y1="20.5" x2="1130.2" y2="20.5" stroke="#777" stroke-width="1.3"/>
<text x="1085.5" y="44.4" font-size="20.5" text-anchor="middle">N</text>
<text x="1120.6" y="44.4" font-size="20.5" text-anchor="middle">T</text>
<text x="1061.1" y="67.4" font-size="19.3">100</text>
<text x="1136.9" y="67.4" font-size="19.3" text-anchor="end">147</text>
<text x="1061.1" y="138.2" font-size="19.3">100</text>
<text x="1136.9" y="138.2" font-size="19.3" text-anchor="end">346</text>
<text x="1061.1" y="209.3" font-size="19.3">100</text>
<text x="1136.9" y="209.3" font-size="19.3" text-anchor="end">234</text>
<g clip-path="url(#cb0_5)">
<rect x="1064.4" y="72.4" width="78.6" height="44.4" fill="rgb(225,225,225)"/>
<rect x="1064.4" y="72.4" width="78.6" height="44.4" fill="url(#cb0_5s)"/>
<rect x="1071.5" y="96.8" width="26.0" height="5.0" rx="2.5" fill="rgb(180,180,180)" filter="url(#bl18)"/>
<rect x="1105.6" y="93.3" width="24.0" height="6.0" rx="3.0" fill="rgb(112,112,112)" filter="url(#bl18)"/>
</g>
<rect x="1065.2" y="73.2" width="77.0" height="42.8" fill="none" stroke="#111" stroke-width="1.7"/>
<g clip-path="url(#cb1_5)">
<rect x="1064.4" y="143.5" width="78.6" height="44.9" fill="rgb(222,222,222)"/>
<rect x="1064.4" y="143.5" width="78.6" height="44.9" fill="url(#cb1_5s)"/>
<rect x="1070.5" y="166.6" width="28.0" height="4.0" rx="2.0" fill="rgb(189,189,189)" filter="url(#bl18)"/>
<rect x="1104.6" y="160.6" width="26.0" height="4.0" rx="2.0" fill="rgb(67,67,67)" filter="url(#bl18)"/>
</g>
<rect x="1065.2" y="144.3" width="77.0" height="43.3" fill="none" stroke="#111" stroke-width="1.7"/>
<g clip-path="url(#cb2_5)">
<rect x="1064.4" y="213.3" width="78.6" height="44.9" fill="rgb(215,215,215)"/>
<rect x="1064.4" y="213.3" width="78.6" height="44.9" fill="url(#cb2_5s)"/>
<rect x="1072.5" y="235.4" width="24.0" height="6.0" rx="3.0" fill="rgb(108,108,108)" filter="url(#bl18)"/>
<rect x="1103.6" y="232.4" width="28.0" height="16.0" rx="8.0" fill="rgb(0,0,0)" filter="url(#bl18)"/>
</g>
<rect x="1065.2" y="214.1" width="77.0" height="43.3" fill="none" stroke="#111" stroke-width="1.7"/>
<g clip-path="url(#cb3_5)">
<rect x="1064.4" y="270.5" width="78.6" height="44.3" fill="rgb(218,218,218)"/>
<rect x="1064.4" y="270.5" width="78.6" height="44.3" fill="url(#cb3_5s)"/>
<rect x="1068.5" y="293.0" width="32.0" height="12.0" rx="6.0" fill="rgb(0,0,0)" filter="url(#bl18)"/>
<rect x="1099.6" y="291.5" width="34.0" height="13.0" rx="6.5" fill="rgb(0,0,0)" filter="url(#bl18)"/>
</g>
<rect x="1065.2" y="271.3" width="77.0" height="42.7" fill="none" stroke="#111" stroke-width="1.7"/>
<text x="1192.5" y="15.4" font-size="20" text-anchor="middle">7</text>
<line x1="1165.5" y1="20.5" x2="1219.5" y2="20.5" stroke="#777" stroke-width="1.3"/>
<text x="1175.3" y="44.4" font-size="20.5" text-anchor="middle">N</text>
<text x="1209.9" y="44.4" font-size="20.5" text-anchor="middle">T</text>
<text x="1151.7" y="67.4" font-size="19.3">100</text>
<text x="1223.9" y="67.4" font-size="19.3" text-anchor="end">186</text>
<text x="1151.7" y="138.2" font-size="19.3">100</text>
<text x="1223.9" y="138.2" font-size="19.3" text-anchor="end">45</text>
<text x="1151.7" y="209.3" font-size="19.3">100</text>
<text x="1223.9" y="209.3" font-size="19.3" text-anchor="end">118</text>
<g clip-path="url(#cb0_6)">
<rect x="1151.7" y="72.4" width="78.6" height="44.4" fill="rgb(232,232,232)"/>
<rect x="1151.7" y="72.4" width="78.6" height="44.4" fill="url(#cb0_6s)"/>
<rect x="1162.3" y="94.8" width="24.0" height="5.0" rx="2.5" fill="rgb(162,162,162)" filter="url(#bl18)"/>
<rect x="1195.9" y="91.3" width="22.0" height="8.0" rx="4.0" fill="rgb(19,19,19)" filter="url(#bl18)"/>
</g>
<rect x="1152.5" y="73.2" width="77.0" height="42.8" fill="none" stroke="#111" stroke-width="1.7"/>
<g clip-path="url(#cb1_6)">
<rect x="1151.7" y="143.5" width="78.6" height="44.9" fill="rgb(212,212,212)"/>
<rect x="1151.7" y="143.5" width="78.6" height="44.9" fill="url(#cb1_6s)"/>
<rect x="1159.3" y="165.6" width="30.0" height="6.0" rx="3.0" fill="rgb(11,11,11)" filter="url(#bl18)"/>
<rect x="1194.9" y="167.1" width="24.0" height="5.0" rx="2.5" fill="rgb(21,21,21)" filter="url(#bl18)"/>
</g>
<rect x="1152.5" y="144.3" width="77.0" height="43.3" fill="none" stroke="#111" stroke-width="1.7"/>
<g clip-path="url(#cb2_6)">
<rect x="1151.7" y="213.3" width="78.6" height="44.9" fill="rgb(215,215,215)"/>
<rect x="1151.7" y="213.3" width="78.6" height="44.9" fill="url(#cb2_6s)"/>
<rect x="1163.3" y="234.4" width="22.0" height="8.0" rx="4.0" fill="rgb(21,21,21)" filter="url(#bl18)"/>
<rect x="1191.9" y="229.4" width="30.0" height="18.0" rx="9.0" fill="rgb(0,0,0)" filter="url(#bl18)"/>
</g>
<rect x="1152.5" y="214.1" width="77.0" height="43.3" fill="none" stroke="#111" stroke-width="1.7"/>
<g clip-path="url(#cb3_6)">
<rect x="1151.7" y="270.5" width="78.6" height="44.3" fill="rgb(218,218,218)"/>
<rect x="1151.7" y="270.5" width="78.6" height="44.3" fill="url(#cb3_6s)"/>
<rect x="1158.3" y="292.1" width="32.0" height="12.0" rx="6.0" fill="rgb(0,0,0)" filter="url(#bl18)"/>
<rect x="1188.9" y="290.6" width="34.0" height="13.0" rx="6.5" fill="rgb(0,0,0)" filter="url(#bl18)"/>
</g>
<rect x="1152.5" y="271.3" width="77.0" height="42.7" fill="none" stroke="#111" stroke-width="1.7"/>
<text x="1280.0" y="15.4" font-size="20" text-anchor="middle">8</text>
<line x1="1253.0" y1="20.5" x2="1307.0" y2="20.5" stroke="#777" stroke-width="1.3"/>
<text x="1262.4" y="44.4" font-size="20.5" text-anchor="middle">N</text>
<text x="1296.9" y="44.4" font-size="20.5" text-anchor="middle">T</text>
<text x="1244.1" y="67.4" font-size="19.3">100353</text>
<text x="1244.1" y="138.2" font-size="19.3">100348</text>
<text x="1244.1" y="209.3" font-size="19.3">100217</text>
<g clip-path="url(#cb0_7)">
<rect x="1238.5" y="72.4" width="78.6" height="44.4" fill="rgb(195,195,195)"/>
<rect x="1238.5" y="72.4" width="78.6" height="44.4" fill="url(#cb0_7s)"/>
<rect x="1248.4" y="94.8" width="26.0" height="5.0" rx="2.5" fill="rgb(136,136,136)" filter="url(#bl18)"/>
<rect x="1278.9" y="92.3" width="30.0" height="8.0" rx="4.0" fill="rgb(68,68,68)" filter="url(#bl18)"/>
</g>
<rect x="1239.3" y="73.2" width="77.0" height="42.8" fill="none" stroke="#111" stroke-width="1.7"/>
<g clip-path="url(#cb1_7)">
<rect x="1238.5" y="143.5" width="78.6" height="44.9" fill="rgb(215,215,215)"/>
<rect x="1238.5" y="143.5" width="78.6" height="44.9" fill="url(#cb1_7s)"/>
<rect x="1248.4" y="166.6" width="26.0" height="4.0" rx="2.0" fill="rgb(172,172,172)" filter="url(#bl18)"/>
<rect x="1279.9" y="164.6" width="28.0" height="10.0" rx="5.0" fill="rgb(0,0,0)" filter="url(#bl18)"/>
</g>
<rect x="1239.3" y="144.3" width="77.0" height="43.3" fill="none" stroke="#111" stroke-width="1.7"/>
<g clip-path="url(#cb2_7)">
<rect x="1238.5" y="213.3" width="78.6" height="44.9" fill="rgb(215,215,215)"/>
<rect x="1238.5" y="213.3" width="78.6" height="44.9" fill="url(#cb2_7s)"/>
<rect x="1249.4" y="235.4" width="24.0" height="6.0" rx="3.0" fill="rgb(140,140,140)" filter="url(#bl18)"/>
<rect x="1280.9" y="231.9" width="26.0" height="15.0" rx="7.5" fill="rgb(0,0,0)" filter="url(#bl18)"/>
</g>
<rect x="1239.3" y="214.1" width="77.0" height="43.3" fill="none" stroke="#111" stroke-width="1.7"/>
<g clip-path="url(#cb3_7)">
<rect x="1238.5" y="270.5" width="78.6" height="44.3" fill="rgb(215,215,215)"/>
<rect x="1238.5" y="270.5" width="78.6" height="44.3" fill="url(#cb3_7s)"/>
<rect x="1245.4" y="287.6" width="32.0" height="12.0" rx="6.0" fill="rgb(0,0,0)" filter="url(#bl18)"/>
<rect x="1275.9" y="286.1" width="34.0" height="13.0" rx="6.5" fill="rgb(0,0,0)" filter="url(#bl18)"/>
</g>
<rect x="1239.3" y="271.3" width="77.0" height="42.7" fill="none" stroke="#111" stroke-width="1.7"/>
<text x="1368.5" y="15.4" font-size="20" text-anchor="middle">9</text>
<line x1="1341.5" y1="20.5" x2="1395.5" y2="20.5" stroke="#777" stroke-width="1.3"/>
<text x="1350.8" y="44.4" font-size="20.5" text-anchor="middle">N</text>
<text x="1386.2" y="44.4" font-size="20.5" text-anchor="middle">T</text>
<text x="1332.0" y="67.4" font-size="19.3">100243</text>
<text x="1332.0" y="138.2" font-size="19.3">100247</text>
<text x="1332.0" y="209.3" font-size="19.3">100178</text>
<g clip-path="url(#cb0_8)">
<rect x="1325.0" y="72.4" width="78.6" height="44.4" fill="rgb(228,228,228)"/>
<rect x="1325.0" y="72.4" width="78.6" height="44.4" fill="url(#cb0_8s)"/>
<rect x="1337.8" y="96.8" width="24.0" height="5.0" rx="2.5" fill="rgb(164,164,164)" filter="url(#bl18)"/>
<rect x="1371.2" y="93.3" width="24.0" height="6.0" rx="3.0" fill="rgb(68,68,68)" filter="url(#bl18)"/>
</g>
<rect x="1325.8" y="73.2" width="77.0" height="42.8" fill="none" stroke="#111" stroke-width="1.7"/>
<g clip-path="url(#cb1_8)">
<rect x="1325.0" y="143.5" width="78.6" height="44.9" fill="rgb(235,235,235)"/>
<rect x="1325.0" y="143.5" width="78.6" height="44.9" fill="url(#cb1_8s)"/>
<rect x="1337.8" y="166.6" width="24.0" height="4.0" rx="2.0" fill="rgb(212,212,212)" filter="url(#bl18)"/>
<rect x="1372.2" y="169.1" width="22.0" height="5.0" rx="2.5" fill="rgb(118,118,118)" filter="url(#bl18)"/>
</g>
<rect x="1325.8" y="144.3" width="77.0" height="43.3" fill="none" stroke="#111" stroke-width="1.7"/>
<g clip-path="url(#cb2_8)">
<rect x="1325.0" y="213.3" width="78.6" height="44.9" fill="rgb(215,215,215)"/>
<rect x="1325.0" y="213.3" width="78.6" height="44.9" fill="url(#cb2_8s)"/>
<rect x="1337.8" y="235.4" width="24.0" height="6.0" rx="3.0" fill="rgb(97,97,97)" filter="url(#bl18)"/>
<rect x="1370.2" y="232.4" width="26.0" height="12.0" rx="6.0" fill="rgb(6,6,6)" filter="url(#bl18)"/>
</g>
<rect x="1325.8" y="214.1" width="77.0" height="43.3" fill="none" stroke="#111" stroke-width="1.7"/>
<g clip-path="url(#cb3_8)">
<rect x="1325.0" y="270.5" width="78.6" height="44.3" fill="rgb(218,218,218)"/>
<rect x="1325.0" y="270.5" width="78.6" height="44.3" fill="url(#cb3_8s)"/>
<rect x="1333.8" y="287.6" width="32.0" height="12.0" rx="6.0" fill="rgb(0,0,0)" filter="url(#bl18)"/>
<rect x="1365.2" y="286.1" width="34.0" height="13.0" rx="6.5" fill="rgb(0,0,0)" filter="url(#bl18)"/>
</g>
<rect x="1325.8" y="271.3" width="77.0" height="42.7" fill="none" stroke="#111" stroke-width="1.7"/>
<text x="1449.4" y="15.4" font-size="20" text-anchor="middle">10</text>
<line x1="1422.4" y1="20.5" x2="1476.4" y2="20.5" stroke="#777" stroke-width="1.3"/>
<text x="1432.1" y="44.4" font-size="20.5" text-anchor="middle">N</text>
<text x="1467.4" y="44.4" font-size="20.5" text-anchor="middle">T</text>
<text x="1420.3" y="67.4" font-size="19.3">100243</text>
<text x="1420.3" y="138.2" font-size="19.3">100249</text>
<text x="1420.3" y="209.3" font-size="19.3">100193</text>
<g clip-path="url(#cb0_9)">
<rect x="1410.2" y="72.4" width="78.6" height="44.4" fill="rgb(215,215,215)"/>
<rect x="1410.2" y="72.4" width="78.6" height="44.4" fill="url(#cb0_9s)"/>
<rect x="1419.1" y="96.8" width="24.0" height="5.0" rx="2.5" fill="rgb(189,189,189)" filter="url(#bl18)"/>
<rect x="1449.4" y="93.8" width="30.0" height="7.0" rx="3.5" fill="rgb(97,97,97)" filter="url(#bl18)"/>
</g>
<rect x="1411.0" y="73.2" width="77.0" height="42.8" fill="none" stroke="#111" stroke-width="1.7"/>
<g clip-path="url(#cb1_9)">
<rect x="1410.2" y="143.5" width="78.6" height="44.9" fill="url(#cb1_9g)"/>
<rect x="1410.2" y="143.5" width="78.6" height="44.9" fill="url(#cb1_9s)"/>
<rect x="1419.1" y="165.6" width="24.0" height="6.0" rx="3.0" fill="rgb(103,103,103)" filter="url(#bl18)"/>
<rect x="1451.4" y="163.6" width="26.0" height="10.0" rx="5.0" fill="rgb(56,56,56)" filter="url(#bl18)"/>
</g>
<rect x="1411.0" y="144.3" width="77.0" height="43.3" fill="none" stroke="#111" stroke-width="1.7"/>
<g clip-path="url(#cb2_9)">
<rect x="1410.2" y="213.3" width="78.6" height="44.9" fill="rgb(225,225,225)"/>
<rect x="1410.2" y="213.3" width="78.6" height="44.9" fill="url(#cb2_9s)"/>
<rect x="1419.1" y="235.9" width="24.0" height="5.0" rx="2.5" fill="rgb(207,207,207)" filter="url(#bl18)"/>
<rect x="1452.4" y="235.9" width="24.0" height="5.0" rx="2.5" fill="rgb(162,162,162)" filter="url(#bl18)"/>
</g>
<rect x="1411.0" y="214.1" width="77.0" height="43.3" fill="none" stroke="#111" stroke-width="1.7"/>
<g clip-path="url(#cb3_9)">
<rect x="1410.2" y="270.5" width="78.6" height="44.3" fill="rgb(210,210,210)"/>
<rect x="1410.2" y="270.5" width="78.6" height="44.3" fill="url(#cb3_9s)"/>
<rect x="1415.1" y="282.3" width="32.0" height="12.0" rx="6.0" fill="rgb(0,0,0)" filter="url(#bl18)"/>
<rect x="1446.4" y="280.8" width="34.0" height="13.0" rx="6.5" fill="rgb(0,0,0)" filter="url(#bl18)"/>
</g>
<rect x="1411.0" y="271.3" width="77.0" height="42.7" fill="none" stroke="#111" stroke-width="1.7"/>
<text x="1540.9" y="15.4" font-size="20" text-anchor="middle">11</text>
<line x1="1513.9" y1="20.5" x2="1567.9" y2="20.5" stroke="#777" stroke-width="1.3"/>
<text x="1522.6" y="44.4" font-size="20.5" text-anchor="middle">N</text>
<text x="1558.3" y="44.4" font-size="20.5" text-anchor="middle">T</text>
<text x="1495.8" y="67.4" font-size="19.3">100</text>
<text x="1573.7" y="67.4" font-size="19.3" text-anchor="end">274</text>
<text x="1495.8" y="138.2" font-size="19.3">100</text>
<text x="1573.7" y="138.2" font-size="19.3" text-anchor="end">154</text>
<text x="1495.8" y="209.3" font-size="19.3">100</text>
<text x="1573.7" y="209.3" font-size="19.3" text-anchor="end">216</text>
<g clip-path="url(#cb0_10)">
<rect x="1497.3" y="72.4" width="78.6" height="44.4" fill="rgb(230,230,230)"/>
<rect x="1497.3" y="72.4" width="78.6" height="44.4" fill="url(#cb0_10s)"/>
<rect x="1509.6" y="94.8" width="24.0" height="5.0" rx="2.5" fill="rgb(161,161,161)" filter="url(#bl18)"/>
<rect x="1539.3" y="92.8" width="32.0" height="9.0" rx="4.5" fill="rgb(64,64,64)" filter="url(#bl18)"/>
</g>
<rect x="1498.1" y="73.2" width="77.0" height="42.8" fill="none" stroke="#111" stroke-width="1.7"/>
<g clip-path="url(#cb1_10)">
<rect x="1497.3" y="143.5" width="78.6" height="44.9" fill="rgb(232,232,232)"/>
<rect x="1497.3" y="143.5" width="78.6" height="44.9" fill="url(#cb1_10s)"/>
<rect x="1508.6" y="168.6" width="26.0" height="6.0" rx="3.0" fill="rgb(128,128,128)" filter="url(#bl18)"/>
<rect x="1542.3" y="162.6" width="26.0" height="8.0" rx="4.0" fill="rgb(93,93,93)" filter="url(#bl18)"/>
</g>
<rect x="1498.1" y="144.3" width="77.0" height="43.3" fill="none" stroke="#111" stroke-width="1.7"/>
<g clip-path="url(#cb2_10)">
<rect x="1497.3" y="213.3" width="78.6" height="44.9" fill="rgb(230,230,230)"/>
<rect x="1497.3" y="213.3" width="78.6" height="44.9" fill="url(#cb2_10s)"/>
<rect x="1508.6" y="235.4" width="26.0" height="6.0" rx="3.0" fill="rgb(138,138,138)" filter="url(#bl18)"/>
<rect x="1542.3" y="234.9" width="26.0" height="7.0" rx="3.5" fill="rgb(51,51,51)" filter="url(#bl18)"/>
</g>
<rect x="1498.1" y="214.1" width="77.0" height="43.3" fill="none" stroke="#111" stroke-width="1.7"/>
<g clip-path="url(#cb3_10)">
<rect x="1497.3" y="270.5" width="78.6" height="44.3" fill="rgb(220,220,220)"/>
<rect x="1497.3" y="270.5" width="78.6" height="44.3" fill="url(#cb3_10s)"/>
<rect x="1505.6" y="286.8" width="32.0" height="12.0" rx="6.0" fill="rgb(0,0,0)" filter="url(#bl18)"/>
<rect x="1537.3" y="285.3" width="34.0" height="13.0" rx="6.5" fill="rgb(0,0,0)" filter="url(#bl18)"/>
</g>
<rect x="1498.1" y="271.3" width="77.0" height="42.7" fill="none" stroke="#111" stroke-width="1.7"/>
<text x="1626.5" y="15.4" font-size="20" text-anchor="middle">12</text>
<line x1="1599.5" y1="20.5" x2="1653.5" y2="20.5" stroke="#777" stroke-width="1.3"/>
<text x="1607.7" y="44.4" font-size="20.5" text-anchor="middle">N</text>
<text x="1642.5" y="44.4" font-size="20.5" text-anchor="middle">T</text>
<text x="1583.0" y="67.4" font-size="19.3">100</text>
<text x="1659.4" y="67.4" font-size="19.3" text-anchor="end">246</text>
<text x="1583.0" y="138.2" font-size="19.3">100</text>
<text x="1659.4" y="138.2" font-size="19.3" text-anchor="end">236</text>
<text x="1583.0" y="209.3" font-size="19.3">100</text>
<text x="1659.4" y="209.3" font-size="19.3" text-anchor="end">202</text>
<g clip-path="url(#cb0_11)">
<rect x="1583.5" y="72.4" width="78.6" height="44.4" fill="rgb(232,232,232)"/>
<rect x="1583.5" y="72.4" width="78.6" height="44.4" fill="url(#cb0_11s)"/>
<rect x="1594.7" y="94.8" width="24.0" height="5.0" rx="2.5" fill="rgb(204,204,204)" filter="url(#bl18)"/>
<rect x="1628.5" y="91.8" width="22.0" height="5.0" rx="2.5" fill="rgb(104,104,104)" filter="url(#bl18)"/>
</g>
<rect x="1584.3" y="73.2" width="77.0" height="42.8" fill="none" stroke="#111" stroke-width="1.7"/>
<g clip-path="url(#cb1_11)">
<rect x="1583.5" y="143.5" width="78.6" height="44.9" fill="rgb(215,215,215)"/>
<rect x="1583.5" y="143.5" width="78.6" height="44.9" fill="url(#cb1_11s)"/>
<rect x="1593.7" y="166.1" width="26.0" height="5.0" rx="2.5" fill="rgb(150,150,150)" filter="url(#bl18)"/>
<rect x="1625.5" y="164.6" width="28.0" height="8.0" rx="4.0" fill="rgb(60,60,60)" filter="url(#bl18)"/>
</g>
<rect x="1584.3" y="144.3" width="77.0" height="43.3" fill="none" stroke="#111" stroke-width="1.7"/>
<g clip-path="url(#cb2_11)">
<rect x="1583.5" y="213.3" width="78.6" height="44.9" fill="rgb(225,225,225)"/>
<rect x="1583.5" y="213.3" width="78.6" height="44.9" fill="url(#cb2_11s)"/>
<rect x="1593.7" y="235.4" width="26.0" height="6.0" rx="3.0" fill="rgb(135,135,135)" filter="url(#bl18)"/>
<rect x="1626.5" y="236.4" width="26.0" height="8.0" rx="4.0" fill="rgb(45,45,45)" filter="url(#bl18)"/>
</g>
<rect x="1584.3" y="214.1" width="77.0" height="43.3" fill="none" stroke="#111" stroke-width="1.7"/>
<g clip-path="url(#cb3_11)">
<rect x="1583.5" y="270.5" width="78.6" height="44.3" fill="rgb(220,220,220)"/>
<rect x="1583.5" y="270.5" width="78.6" height="44.3" fill="url(#cb3_11s)"/>
<rect x="1590.7" y="286.8" width="32.0" height="12.0" rx="6.0" fill="rgb(0,0,0)" filter="url(#bl18)"/>
<rect x="1621.5" y="285.3" width="34.0" height="13.0" rx="6.5" fill="rgb(0,0,0)" filter="url(#bl18)"/>
</g>
<rect x="1584.3" y="271.3" width="77.0" height="42.7" fill="none" stroke="#111" stroke-width="1.7"/>
<text x="1712.2" y="15.4" font-size="20" text-anchor="middle">13</text>
<line x1="1685.2" y1="20.5" x2="1739.2" y2="20.5" stroke="#777" stroke-width="1.3"/>
<text x="1694.2" y="44.4" font-size="20.5" text-anchor="middle">N</text>
<text x="1729.6" y="44.4" font-size="20.5" text-anchor="middle">T</text>
<text x="1668.7" y="67.4" font-size="19.3">100</text>
<text x="1741.3" y="67.4" font-size="19.3" text-anchor="end">175</text>
<text x="1668.7" y="138.2" font-size="19.3">100</text>
<text x="1741.3" y="138.2" font-size="19.3" text-anchor="end">177</text>
<text x="1668.7" y="209.3" font-size="19.3">100</text>
<text x="1741.3" y="209.3" font-size="19.3" text-anchor="end">144</text>
<g clip-path="url(#cb0_12)">
<rect x="1669.5" y="72.4" width="78.6" height="44.4" fill="url(#cb0_12g)"/>
<rect x="1669.5" y="72.4" width="78.6" height="44.4" fill="url(#cb0_12s)"/>
<rect x="1679.2" y="94.3" width="28.0" height="6.0" rx="3.0" fill="rgb(89,89,89)" filter="url(#bl18)"/>
<rect x="1709.6" y="90.3" width="34.0" height="8.0" rx="4.0" fill="rgb(73,73,73)" filter="url(#bl18)"/>
</g>
<rect x="1670.3" y="73.2" width="77.0" height="42.8" fill="none" stroke="#111" stroke-width="1.7"/>
<g clip-path="url(#cb1_12)">
<rect x="1669.5" y="143.5" width="78.6" height="44.9" fill="url(#cb1_12g)"/>
<rect x="1669.5" y="143.5" width="78.6" height="44.9" fill="url(#cb1_12s)"/>
<rect x="1680.2" y="165.6" width="26.0" height="6.0" rx="3.0" fill="rgb(76,76,76)" filter="url(#bl18)"/>
<rect x="1712.6" y="161.6" width="28.0" height="10.0" rx="5.0" fill="rgb(8,8,8)" filter="url(#bl18)"/>
</g>
<rect x="1670.3" y="144.3" width="77.0" height="43.3" fill="none" stroke="#111" stroke-width="1.7"/>
<g clip-path="url(#cb2_12)">
<rect x="1669.5" y="213.3" width="78.6" height="44.9" fill="rgb(205,205,205)"/>
<rect x="1669.5" y="213.3" width="78.6" height="44.9" fill="url(#cb2_12s)"/>
<rect x="1679.2" y="233.4" width="28.0" height="10.0" rx="5.0" fill="rgb(10,10,10)" filter="url(#bl18)"/>
<rect x="1710.6" y="233.4" width="32.0" height="10.0" rx="5.0" fill="rgb(0,0,0)" filter="url(#bl18)"/>
</g>
<rect x="1670.3" y="214.1" width="77.0" height="43.3" fill="none" stroke="#111" stroke-width="1.7"/>
<g clip-path="url(#cb3_12)">
<rect x="1669.5" y="270.5" width="78.6" height="44.3" fill="rgb(218,218,218)"/>
<rect x="1669.5" y="270.5" width="78.6" height="44.3" fill="url(#cb3_12s)"/>
<rect x="1677.2" y="283.2" width="32.0" height="12.0" rx="6.0" fill="rgb(0,0,0)" filter="url(#bl18)"/>
<rect x="1708.6" y="281.7" width="34.0" height="13.0" rx="6.5" fill="rgb(0,0,0)" filter="url(#bl18)"/>
</g>
<rect x="1670.3" y="271.3" width="77.0" height="42.7" fill="none" stroke="#111" stroke-width="1.7"/>
<text x="1796.4" y="15.4" font-size="20" text-anchor="middle">14</text>
<line x1="1769.4" y1="20.5" x2="1823.4" y2="20.5" stroke="#777" stroke-width="1.3"/>
<text x="1781.1" y="44.4" font-size="20.5" text-anchor="middle">N</text>
<text x="1816.2" y="44.4" font-size="20.5" text-anchor="middle">T</text>
<text x="1754.3" y="67.4" font-size="19.3">100</text>
<text x="1829.3" y="67.4" font-size="19.3" text-anchor="end">142</text>
<text x="1754.3" y="138.2" font-size="19.3">100</text>
<text x="1829.3" y="138.2" font-size="19.3" text-anchor="end">145</text>
<text x="1754.3" y="209.3" font-size="19.3">100</text>
<text x="1829.3" y="209.3" font-size="19.3" text-anchor="end">137</text>
<g clip-path="url(#cb0_13)">
<rect x="1754.9" y="72.4" width="78.6" height="44.4" fill="rgb(232,232,232)"/>
<rect x="1754.9" y="72.4" width="78.6" height="44.4" fill="url(#cb0_13s)"/>
<rect x="1768.1" y="95.3" width="24.0" height="6.0" rx="3.0" fill="rgb(51,51,51)" filter="url(#bl18)"/>
<rect x="1800.2" y="93.3" width="26.0" height="8.0" rx="4.0" fill="rgb(19,19,19)" filter="url(#bl18)"/>
</g>
<rect x="1755.7" y="73.2" width="77.0" height="42.8" fill="none" stroke="#111" stroke-width="1.7"/>
<g clip-path="url(#cb1_13)">
<rect x="1754.9" y="143.5" width="78.6" height="44.9" fill="rgb(232,232,232)"/>
<rect x="1754.9" y="143.5" width="78.6" height="44.9" fill="url(#cb1_13s)"/>
<rect x="1767.1" y="164.1" width="26.0" height="5.0" rx="2.5" fill="rgb(151,151,151)" filter="url(#bl18)"/>
<rect x="1799.2" y="164.1" width="28.0" height="5.0" rx="2.5" fill="rgb(139,139,139)" filter="url(#bl18)"/>
</g>
<rect x="1755.7" y="144.3" width="77.0" height="43.3" fill="none" stroke="#111" stroke-width="1.7"/>
<g clip-path="url(#cb2_13)">
<rect x="1754.9" y="213.3" width="78.6" height="44.9" fill="rgb(225,225,225)"/>
<rect x="1754.9" y="213.3" width="78.6" height="44.9" fill="url(#cb2_13s)"/>
<rect x="1768.1" y="235.4" width="24.0" height="6.0" rx="3.0" fill="rgb(112,112,112)" filter="url(#bl18)"/>
<rect x="1801.2" y="234.9" width="24.0" height="7.0" rx="3.5" fill="rgb(49,49,49)" filter="url(#bl18)"/>
</g>
<rect x="1755.7" y="214.1" width="77.0" height="43.3" fill="none" stroke="#111" stroke-width="1.7"/>
<g clip-path="url(#cb3_13)">
<rect x="1754.9" y="270.5" width="78.6" height="44.3" fill="rgb(218,218,218)"/>
<rect x="1754.9" y="270.5" width="78.6" height="44.3" fill="url(#cb3_13s)"/>
<rect x="1764.1" y="285.4" width="32.0" height="12.0" rx="6.0" fill="rgb(0,0,0)" filter="url(#bl18)"/>
<rect x="1795.2" y="283.9" width="34.0" height="13.0" rx="6.5" fill="rgb(0,0,0)" filter="url(#bl18)"/>
</g>
<rect x="1755.7" y="271.3" width="77.0" height="42.7" fill="none" stroke="#111" stroke-width="1.7"/>
<text x="1880.7" y="15.4" font-size="20" text-anchor="middle">15</text>
<line x1="1853.7" y1="20.5" x2="1907.7" y2="20.5" stroke="#777" stroke-width="1.3"/>
<text x="1864.7" y="44.4" font-size="20.5" text-anchor="middle">N</text>
<text x="1900.1" y="44.4" font-size="20.5" text-anchor="middle">T</text>
<text x="1840.0" y="67.4" font-size="19.3">100</text>
<text x="1911.8" y="67.4" font-size="19.3" text-anchor="end">80</text>
<text x="1840.0" y="138.2" font-size="19.3">100</text>
<text x="1911.8" y="138.2" font-size="19.3" text-anchor="end">74</text>
<text x="1840.0" y="209.3" font-size="19.3">100</text>
<text x="1911.8" y="209.3" font-size="19.3" text-anchor="end">65</text>
<g clip-path="url(#cb0_14)">
<rect x="1840.9" y="72.4" width="78.6" height="44.4" fill="rgb(225,225,225)"/>
<rect x="1840.9" y="72.4" width="78.6" height="44.4" fill="url(#cb0_14s)"/>
<rect x="1847.7" y="91.3" width="32.0" height="12.0" rx="6.0" fill="rgb(0,0,0)" filter="url(#bl18)"/>
<rect x="1880.1" y="89.8" width="34.0" height="15.0" rx="7.5" fill="rgb(0,0,0)" filter="url(#bl18)"/>
</g>
<rect x="1841.7" y="73.2" width="77.0" height="42.8" fill="none" stroke="#111" stroke-width="1.7"/>
<g clip-path="url(#cb1_14)">
<rect x="1840.9" y="143.5" width="78.6" height="44.9" fill="rgb(195,195,195)"/>
<rect x="1840.9" y="143.5" width="78.6" height="44.9" fill="url(#cb1_14s)"/>
<rect x="1849.7" y="165.1" width="28.0" height="7.0" rx="3.5" fill="rgb(19,19,19)" filter="url(#bl18)"/>
<rect x="1883.1" y="165.1" width="28.0" height="7.0" rx="3.5" fill="rgb(19,19,19)" filter="url(#bl18)"/>
</g>
<rect x="1841.7" y="144.3" width="77.0" height="43.3" fill="none" stroke="#111" stroke-width="1.7"/>
<g clip-path="url(#cb2_14)">
<rect x="1840.9" y="213.3" width="78.6" height="44.9" fill="rgb(220,220,220)"/>
<rect x="1840.9" y="213.3" width="78.6" height="44.9" fill="url(#cb2_14s)"/>
<rect x="1849.7" y="231.4" width="28.0" height="12.0" rx="6.0" fill="rgb(0,0,0)" filter="url(#bl18)"/>
<rect x="1883.1" y="233.4" width="28.0" height="12.0" rx="6.0" fill="rgb(0,0,0)" filter="url(#bl18)"/>
</g>
<rect x="1841.7" y="214.1" width="77.0" height="43.3" fill="none" stroke="#111" stroke-width="1.7"/>
<g clip-path="url(#cb3_14)">
<rect x="1840.9" y="270.5" width="78.6" height="44.3" fill="rgb(218,218,218)"/>
<rect x="1840.9" y="270.5" width="78.6" height="44.3" fill="url(#cb3_14s)"/>
<rect x="1847.7" y="285.4" width="32.0" height="12.0" rx="6.0" fill="rgb(0,0,0)" filter="url(#bl18)"/>
<rect x="1879.1" y="283.9" width="34.0" height="13.0" rx="6.5" fill="rgb(0,0,0)" filter="url(#bl18)"/>
</g>
<rect x="1841.7" y="271.3" width="77.0" height="42.7" fill="none" stroke="#111" stroke-width="1.7"/>
<text x="0.0" y="438.4" font-size="24" font-weight="bold">C</text>
<text x="41.9" y="417.5" font-size="20.6" text-anchor="middle" transform="rotate(-90 41.9 417.5)">Relative expression of</text>
<text x="66.8" y="417.5" font-size="20.6" text-anchor="middle" transform="rotate(-90 66.8 417.5)">PAXIP1-AS1</text>
<line x1="101.5" y1="315.0" x2="101.5" y2="520.6" stroke="#555" stroke-width="1.3"/>
<line x1="101.0" y1="520.1" x2="725.7" y2="520.1" stroke="#555" stroke-width="1.3"/>
<line x1="101.5" y1="520.0" x2="107.0" y2="520.0" stroke="#555" stroke-width="1.3"/>
<text x="97.5" y="527.0" font-size="19.5" text-anchor="end">0.01</text>
<line x1="101.5" y1="468.9" x2="107.0" y2="468.9" stroke="#555" stroke-width="1.3"/>
<text x="97.5" y="475.9" font-size="19.5" text-anchor="end">0.1</text>
<line x1="101.5" y1="417.8" x2="107.0" y2="417.8" stroke="#555" stroke-width="1.3"/>
<text x="97.5" y="424.8" font-size="19.5" text-anchor="end">1</text>
<line x1="101.5" y1="366.7" x2="107.0" y2="366.7" stroke="#555" stroke-width="1.3"/>
<text x="97.5" y="373.7" font-size="19.5" text-anchor="end">10</text>
<line x1="101.5" y1="315.6" x2="107.0" y2="315.6" stroke="#555" stroke-width="1.3"/>
<text x="97.5" y="322.6" font-size="19.5" text-anchor="end">100</text>
<rect x="113.2" y="314.5" width="13.3" height="9.8" fill="#5b95c9"/>
<text x="131.0" y="324.5" font-size="15.6">Normal</text>
<rect x="113.2" y="336.2" width="13.3" height="8.6" fill="#b91c24"/>
<text x="131.0" y="345.5" font-size="15.6">Cancer</text>
<rect x="113.3" y="354.5" width="12.6" height="165.5" fill="#5b95c9"/>
<rect x="127.5" y="458.3" width="12.6" height="61.7" fill="#b91c24"/>
<ellipse cx="115.8" cy="354.0" rx="2.2" ry="1.3" fill="#111"/>
<ellipse cx="123.3" cy="354.0" rx="2.2" ry="1.3" fill="#111"/>
<ellipse cx="119.6" cy="352.2" rx="2" ry="1.2" fill="#111"/>
<ellipse cx="130.0" cy="457.8" rx="2.2" ry="1.3" fill="#111"/>
<ellipse cx="137.5" cy="457.8" rx="2.2" ry="1.3" fill="#111"/>
<ellipse cx="133.8" cy="456.0" rx="2" ry="1.2" fill="#111"/>
<text x="134.1" y="460.3" font-size="20" text-anchor="middle">*</text>
<text x="134.1" y="452.4" font-size="20" text-anchor="middle">*</text>
<text x="134.1" y="444.5" font-size="20" text-anchor="middle">*</text>
<text x="134.1" y="436.6" font-size="20" text-anchor="middle">*</text>
<text x="129.1" y="538.6" font-size="19.5" text-anchor="middle">1</text>
<rect x="154.7" y="416.8" width="12.6" height="103.2" fill="#5b95c9"/>
<rect x="168.9" y="447.0" width="12.6" height="73.0" fill="#b91c24"/>
<ellipse cx="157.2" cy="416.3" rx="2.2" ry="1.3" fill="#111"/>
<ellipse cx="164.7" cy="416.3" rx="2.2" ry="1.3" fill="#111"/>
<ellipse cx="161.0" cy="414.5" rx="2" ry="1.2" fill="#111"/>
<ellipse cx="171.4" cy="446.5" rx="2.2" ry="1.3" fill="#111"/>
<ellipse cx="178.9" cy="446.5" rx="2.2" ry="1.3" fill="#111"/>
<ellipse cx="175.2" cy="444.7" rx="2" ry="1.2" fill="#111"/>
<text x="175.5" y="447.7" font-size="20" text-anchor="middle">*</text>
<text x="175.5" y="439.8" font-size="20" text-anchor="middle">*</text>
<text x="175.5" y="431.9" font-size="20" text-anchor="middle">*</text>
<text x="175.5" y="424.0" font-size="20" text-anchor="middle">*</text>
<text x="171.0" y="538.6" font-size="19.5" text-anchor="middle">2</text>
<rect x="196.1" y="423.2" width="12.6" height="96.8" fill="#5b95c9"/>
<rect x="210.3" y="505.2" width="12.6" height="14.8" fill="#b91c24"/>
<ellipse cx="198.6" cy="422.7" rx="2.2" ry="1.3" fill="#111"/>
<ellipse cx="206.1" cy="422.7" rx="2.2" ry="1.3" fill="#111"/>
<ellipse cx="202.4" cy="420.9" rx="2" ry="1.2" fill="#111"/>
<ellipse cx="212.8" cy="504.7" rx="2.2" ry="1.3" fill="#111"/>
<ellipse cx="220.3" cy="504.7" rx="2.2" ry="1.3" fill="#111"/>
<ellipse cx="216.6" cy="502.9" rx="2" ry="1.2" fill="#111"/>
<text x="216.9" y="504.2" font-size="20" text-anchor="middle">*</text>
<text x="216.9" y="496.3" font-size="20" text-anchor="middle">*</text>
<text x="216.9" y="488.4" font-size="20" text-anchor="middle">*</text>
<text x="214.7" y="538.6" font-size="19.5" text-anchor="middle">3</text>
<rect x="237.5" y="429.3" width="12.6" height="90.7" fill="#5b95c9"/>
<rect x="251.7" y="436.1" width="12.6" height="83.9" fill="#b91c24"/>
<ellipse cx="240.0" cy="428.8" rx="2.2" ry="1.3" fill="#111"/>
<ellipse cx="247.5" cy="428.8" rx="2.2" ry="1.3" fill="#111"/>
<ellipse cx="243.8" cy="427.0" rx="2" ry="1.2" fill="#111"/>
<ellipse cx="254.2" cy="435.6" rx="2.2" ry="1.3" fill="#111"/>
<ellipse cx="261.7" cy="435.6" rx="2.2" ry="1.3" fill="#111"/>
<ellipse cx="258.0" cy="433.8" rx="2" ry="1.2" fill="#111"/>
<text x="258.3" y="435.1" font-size="20" text-anchor="middle">*</text>
<text x="258.3" y="427.2" font-size="20" text-anchor="middle">*</text>
<text x="258.3" y="419.3" font-size="20" text-anchor="middle">*</text>
<text x="256.0" y="538.6" font-size="19.5" text-anchor="middle">4</text>
<rect x="278.9" y="422.5" width="12.6" height="97.5" fill="#5b95c9"/>
<rect x="293.1" y="440.2" width="12.6" height="79.8" fill="#b91c24"/>
<ellipse cx="281.4" cy="422.0" rx="2.2" ry="1.3" fill="#111"/>
<ellipse cx="288.9" cy="422.0" rx="2.2" ry="1.3" fill="#111"/>
<ellipse cx="285.2" cy="420.2" rx="2" ry="1.2" fill="#111"/>
<ellipse cx="295.6" cy="439.7" rx="2.2" ry="1.3" fill="#111"/>
<ellipse cx="303.1" cy="439.7" rx="2.2" ry="1.3" fill="#111"/>
<ellipse cx="299.4" cy="437.9" rx="2" ry="1.2" fill="#111"/>
<text x="299.7" y="438.6" font-size="20" text-anchor="middle">*</text>
<text x="299.7" y="430.7" font-size="20" text-anchor="middle">*</text>
<text x="299.7" y="422.8" font-size="20" text-anchor="middle">*</text>
<text x="295.6" y="538.6" font-size="19.5" text-anchor="middle">5</text>
<rect x="320.3" y="376.0" width="12.6" height="144.0" fill="#5b95c9"/>
<rect x="334.5" y="450.8" width="12.6" height="69.2" fill="#b91c24"/>
<ellipse cx="322.8" cy="375.5" rx="2.2" ry="1.3" fill="#111"/>
<ellipse cx="330.3" cy="375.5" rx="2.2" ry="1.3" fill="#111"/>
<ellipse cx="326.6" cy="373.7" rx="2" ry="1.2" fill="#111"/>
<ellipse cx="337.0" cy="450.3" rx="2.2" ry="1.3" fill="#111"/>
<ellipse cx="344.5" cy="450.3" rx="2.2" ry="1.3" fill="#111"/>
<ellipse cx="340.8" cy="448.5" rx="2" ry="1.2" fill="#111"/>
<text x="341.1" y="447.8" font-size="20" text-anchor="middle">*</text>
<text x="341.1" y="439.9" font-size="20" text-anchor="middle">*</text>
<text x="341.1" y="432.0" font-size="20" text-anchor="middle">*</text>
<text x="334.8" y="538.6" font-size="19.5" text-anchor="middle">6</text>
<rect x="361.7" y="446.5" width="12.6" height="73.5" fill="#5b95c9"/>
<rect x="375.9" y="448.8" width="12.6" height="71.2" fill="#b91c24"/>
<ellipse cx="364.2" cy="446.0" rx="2.2" ry="1.3" fill="#111"/>
<ellipse cx="371.7" cy="446.0" rx="2.2" ry="1.3" fill="#111"/>
<ellipse cx="368.0" cy="444.2" rx="2" ry="1.2" fill="#111"/>
<ellipse cx="378.4" cy="448.3" rx="2.2" ry="1.3" fill="#111"/>
<ellipse cx="385.9" cy="448.3" rx="2.2" ry="1.3" fill="#111"/>
<ellipse cx="382.2" cy="446.5" rx="2" ry="1.2" fill="#111"/>
<text x="382.5" y="446.1" font-size="20" text-anchor="middle">*</text>
<text x="376.0" y="538.6" font-size="19.5" text-anchor="middle">7</text>
<rect x="403.1" y="404.7" width="12.6" height="115.3" fill="#5b95c9"/>
<rect x="417.3" y="442.7" width="12.6" height="77.3" fill="#b91c24"/>
<ellipse cx="405.6" cy="404.2" rx="2.2" ry="1.3" fill="#111"/>
<ellipse cx="413.1" cy="404.2" rx="2.2" ry="1.3" fill="#111"/>
<ellipse cx="409.4" cy="402.4" rx="2" ry="1.2" fill="#111"/>
<ellipse cx="419.8" cy="442.2" rx="2.2" ry="1.3" fill="#111"/>
<ellipse cx="427.3" cy="442.2" rx="2.2" ry="1.3" fill="#111"/>
<ellipse cx="423.6" cy="440.4" rx="2" ry="1.2" fill="#111"/>
<text x="423.9" y="439.7" font-size="20" text-anchor="middle">*</text>
<text x="423.9" y="431.8" font-size="20" text-anchor="middle">*</text>
<text x="423.9" y="423.9" font-size="20" text-anchor="middle">*</text>
<text x="423.9" y="416.0" font-size="20" text-anchor="middle">*</text>
<text x="420.0" y="538.6" font-size="19.5" text-anchor="middle">8</text>
<rect x="444.5" y="411.6" width="12.6" height="108.4" fill="#5b95c9"/>
<rect x="458.7" y="440.8" width="12.6" height="79.2" fill="#b91c24"/>
<ellipse cx="447.0" cy="411.1" rx="2.2" ry="1.3" fill="#111"/>
<ellipse cx="454.5" cy="411.1" rx="2.2" ry="1.3" fill="#111"/>
<ellipse cx="450.8" cy="409.3" rx="2" ry="1.2" fill="#111"/>
<ellipse cx="461.2" cy="440.3" rx="2.2" ry="1.3" fill="#111"/>
<ellipse cx="468.7" cy="440.3" rx="2.2" ry="1.3" fill="#111"/>
<ellipse cx="465.0" cy="438.5" rx="2" ry="1.2" fill="#111"/>
<text x="465.3" y="442.5" font-size="20" text-anchor="middle">*</text>
<text x="465.3" y="434.6" font-size="20" text-anchor="middle">*</text>
<text x="465.3" y="426.7" font-size="20" text-anchor="middle">*</text>
<text x="465.3" y="418.8" font-size="20" text-anchor="middle">*</text>
<text x="463.5" y="538.6" font-size="19.5" text-anchor="middle">9</text>
<rect x="485.9" y="454.5" width="12.6" height="65.5" fill="#5b95c9"/>
<rect x="500.1" y="466.4" width="12.6" height="53.6" fill="#b91c24"/>
<ellipse cx="488.4" cy="454.0" rx="2.2" ry="1.3" fill="#111"/>
<ellipse cx="495.9" cy="454.0" rx="2.2" ry="1.3" fill="#111"/>
<ellipse cx="492.2" cy="452.2" rx="2" ry="1.2" fill="#111"/>
<ellipse cx="502.6" cy="465.9" rx="2.2" ry="1.3" fill="#111"/>
<ellipse cx="510.1" cy="465.9" rx="2.2" ry="1.3" fill="#111"/>
<ellipse cx="506.4" cy="464.1" rx="2" ry="1.2" fill="#111"/>
<text x="506.7" y="466.9" font-size="20" text-anchor="middle">*</text>
<text x="506.7" y="459.0" font-size="20" text-anchor="middle">*</text>
<text x="506.7" y="451.1" font-size="20" text-anchor="middle">*</text>
<text x="504.0" y="538.6" font-size="19.5" text-anchor="middle">10</text>
<rect x="527.3" y="362.6" width="12.6" height="157.4" fill="#5b95c9"/>
<rect x="541.5" y="381.8" width="12.6" height="138.2" fill="#b91c24"/>
<ellipse cx="529.8" cy="362.1" rx="2.2" ry="1.3" fill="#111"/>
<ellipse cx="537.3" cy="362.1" rx="2.2" ry="1.3" fill="#111"/>
<ellipse cx="533.6" cy="360.3" rx="2" ry="1.2" fill="#111"/>
<ellipse cx="544.0" cy="381.3" rx="2.2" ry="1.3" fill="#111"/>
<ellipse cx="551.5" cy="381.3" rx="2.2" ry="1.3" fill="#111"/>
<ellipse cx="547.8" cy="379.5" rx="2" ry="1.2" fill="#111"/>
<text x="548.1" y="380.7" font-size="20" text-anchor="middle">*</text>
<text x="548.1" y="372.8" font-size="20" text-anchor="middle">*</text>
<text x="548.1" y="364.9" font-size="20" text-anchor="middle">*</text>
<text x="548.1" y="357.0" font-size="20" text-anchor="middle">*</text>
<text x="546.7" y="538.6" font-size="19.5" text-anchor="middle">11</text>
<rect x="568.7" y="443.0" width="12.6" height="77.0" fill="#5b95c9"/>
<rect x="582.9" y="454.5" width="12.6" height="65.5" fill="#b91c24"/>
<ellipse cx="571.2" cy="442.5" rx="2.2" ry="1.3" fill="#111"/>
<ellipse cx="578.7" cy="442.5" rx="2.2" ry="1.3" fill="#111"/>
<ellipse cx="575.0" cy="440.7" rx="2" ry="1.2" fill="#111"/>
<ellipse cx="585.4" cy="454.0" rx="2.2" ry="1.3" fill="#111"/>
<ellipse cx="592.9" cy="454.0" rx="2.2" ry="1.3" fill="#111"/>
<ellipse cx="589.2" cy="452.2" rx="2" ry="1.2" fill="#111"/>
<text x="589.5" y="453.8" font-size="20" text-anchor="middle">*</text>
<text x="589.5" y="445.9" font-size="20" text-anchor="middle">*</text>
<text x="589.5" y="438.0" font-size="20" text-anchor="middle">*</text>
<text x="586.2" y="538.6" font-size="19.5" text-anchor="middle">12</text>
<rect x="610.1" y="369.3" width="12.6" height="150.7" fill="#5b95c9"/>
<rect x="624.3" y="371.7" width="12.6" height="148.3" fill="#b91c24"/>
<ellipse cx="612.6" cy="368.8" rx="2.2" ry="1.3" fill="#111"/>
<ellipse cx="620.1" cy="368.8" rx="2.2" ry="1.3" fill="#111"/>
<ellipse cx="616.4" cy="367.0" rx="2" ry="1.2" fill="#111"/>
<ellipse cx="626.8" cy="371.2" rx="2.2" ry="1.3" fill="#111"/>
<ellipse cx="634.3" cy="371.2" rx="2.2" ry="1.3" fill="#111"/>
<ellipse cx="630.6" cy="369.4" rx="2" ry="1.2" fill="#111"/>
<text x="630.9" y="368.7" font-size="20" text-anchor="middle">*</text>
<text x="629.8" y="538.6" font-size="19.5" text-anchor="middle">13</text>
<rect x="651.5" y="449.0" width="12.6" height="71.0" fill="#5b95c9"/>
<rect x="665.7" y="458.0" width="12.6" height="62.0" fill="#b91c24"/>
<ellipse cx="654.0" cy="448.5" rx="2.2" ry="1.3" fill="#111"/>
<ellipse cx="661.5" cy="448.5" rx="2.2" ry="1.3" fill="#111"/>
<ellipse cx="657.8" cy="446.7" rx="2" ry="1.2" fill="#111"/>
<ellipse cx="668.2" cy="457.5" rx="2.2" ry="1.3" fill="#111"/>
<ellipse cx="675.7" cy="457.5" rx="2.2" ry="1.3" fill="#111"/>
<ellipse cx="672.0" cy="455.7" rx="2" ry="1.2" fill="#111"/>
<text x="672.3" y="457.9" font-size="20" text-anchor="middle">*</text>
<text x="672.3" y="450.0" font-size="20" text-anchor="middle">*</text>
<text x="672.3" y="442.1" font-size="20" text-anchor="middle">*</text>
<text x="672.4" y="538.6" font-size="19.5" text-anchor="middle">14</text>
<rect x="692.9" y="463.0" width="12.6" height="57.0" fill="#5b95c9"/>
<rect x="707.1" y="463.3" width="12.6" height="56.7" fill="#b91c24"/>
<ellipse cx="695.4" cy="462.5" rx="2.2" ry="1.3" fill="#111"/>
<ellipse cx="702.9" cy="462.5" rx="2.2" ry="1.3" fill="#111"/>
<ellipse cx="699.2" cy="460.7" rx="2" ry="1.2" fill="#111"/>
<ellipse cx="709.6" cy="462.8" rx="2.2" ry="1.3" fill="#111"/>
<ellipse cx="717.1" cy="462.8" rx="2.2" ry="1.3" fill="#111"/>
<ellipse cx="713.4" cy="461.0" rx="2" ry="1.2" fill="#111"/>
<text x="713.7" y="462.8" font-size="20" text-anchor="middle">*</text>
<text x="713.9" y="538.6" font-size="19.5" text-anchor="middle">15</text>
<line x1="845.6" y1="377.1" x2="845.6" y2="480.9" stroke="#000" stroke-width="1.5"/>
<line x1="845.0" y1="480.3" x2="1063.9" y2="480.3" stroke="#000" stroke-width="1.5"/>
<line x1="845.6" y1="480.3" x2="851.1" y2="480.3" stroke="#000" stroke-width="1.4"/>
<text x="839.1" y="487.6" font-size="19" text-anchor="end">0</text>
<line x1="845.6" y1="454.6" x2="851.1" y2="454.6" stroke="#000" stroke-width="1.4"/>
<text x="839.1" y="461.9" font-size="19" text-anchor="end">1</text>
<line x1="845.6" y1="429.0" x2="851.1" y2="429.0" stroke="#000" stroke-width="1.4"/>
<text x="839.1" y="436.3" font-size="19" text-anchor="end">2</text>
<line x1="845.6" y1="403.3" x2="851.1" y2="403.3" stroke="#000" stroke-width="1.4"/>
<text x="839.1" y="410.6" font-size="19" text-anchor="end">3</text>
<line x1="845.6" y1="377.6" x2="851.1" y2="377.6" stroke="#000" stroke-width="1.4"/>
<text x="839.1" y="384.9" font-size="19" text-anchor="end">4</text>
<line x1="845.6" y1="480.3" x2="845.6" y2="474.8" stroke="#000" stroke-width="1.4"/>
<text x="847.6" y="502.1" font-size="19" text-anchor="middle">0</text>
<line x1="918.2" y1="480.3" x2="918.2" y2="474.8" stroke="#000" stroke-width="1.4"/>
<text x="920.2" y="502.1" font-size="19" text-anchor="middle">0.5</text>
<line x1="990.7" y1="480.3" x2="990.7" y2="474.8" stroke="#000" stroke-width="1.4"/>
<text x="992.7" y="502.1" font-size="19" text-anchor="middle">1</text>
<line x1="1063.3" y1="480.3" x2="1063.3" y2="474.8" stroke="#000" stroke-width="1.4"/>
<text x="1065.3" y="502.1" font-size="19" text-anchor="middle">1.5</text>
<line x1="845.6" y1="408.6" x2="993.9" y2="443.8" stroke="#5b90c9" stroke-width="2.4" stroke-dasharray="0.1 5.6" stroke-linecap="round"/>
<circle cx="848.8" cy="388.6" r="5.4" fill="#5b90c9"/>
<circle cx="870.8" cy="389.4" r="5.4" fill="#5b90c9"/>
<circle cx="847.1" cy="417.5" r="5.4" fill="#5b90c9"/>
<circle cx="884.0" cy="417.9" r="5.4" fill="#5b90c9"/>
<circle cx="901.7" cy="410.1" r="5.4" fill="#5b90c9"/>
<circle cx="910.2" cy="408.4" r="5.4" fill="#5b90c9"/>
<circle cx="929.2" cy="417.9" r="5.4" fill="#5b90c9"/>
<circle cx="931.7" cy="416.6" r="5.4" fill="#5b90c9"/>
<circle cx="850.3" cy="442.6" r="5.4" fill="#5b90c9"/>
<circle cx="880.7" cy="441.3" r="5.4" fill="#5b90c9"/>
<circle cx="940.6" cy="443.6" r="5.4" fill="#5b90c9"/>
<circle cx="946.4" cy="442.8" r="5.4" fill="#5b90c9"/>
<circle cx="975.5" cy="432.2" r="5.4" fill="#5b90c9"/>
<circle cx="975.8" cy="436.0" r="5.4" fill="#5b90c9"/>
<circle cx="994.8" cy="459.9" r="5.4" fill="#5b90c9"/>
<text x="972.4" y="387.0" font-size="18.8">r=-0.5692</text>
<text x="972.4" y="409.5" font-size="18.8" text-anchor="start"><tspan font-style="italic">p</tspan>=0.0268</text>
<text x="789.8" y="444.0" font-size="20.6" text-anchor="middle" transform="rotate(-90 789.8 444.0)">Fold change(T/N)</text>
<text x="815.1" y="444.0" font-size="20.6" text-anchor="middle" transform="rotate(-90 815.1 444.0)">of&#160;&#160;HOXD9</text>
<text x="967.5" y="523.4" font-size="20.6" text-anchor="middle">Fold change(T/N) of</text>
<text x="967.5" y="547.8" font-size="20.6" text-anchor="middle">PAXIP1-AS1</text>
<text x="749.0" y="458.0" font-size="24" font-weight="bold">D</text>
<line x1="136.2" y1="562.4" x2="136.2" y2="667.3" stroke="#000" stroke-width="1.5"/>
<line x1="135.6" y1="666.7" x2="355.4" y2="666.7" stroke="#000" stroke-width="1.5"/>
<line x1="136.2" y1="666.7" x2="141.7" y2="666.7" stroke="#000" stroke-width="1.4"/>
<text x="129.7" y="674.0" font-size="19" text-anchor="end">0</text>
<line x1="136.2" y1="632.1" x2="141.7" y2="632.1" stroke="#000" stroke-width="1.4"/>
<text x="129.7" y="639.4" font-size="19" text-anchor="end">2</text>
<line x1="136.2" y1="597.5" x2="141.7" y2="597.5" stroke="#000" stroke-width="1.4"/>
<text x="129.7" y="604.8" font-size="19" text-anchor="end">4</text>
<line x1="136.2" y1="562.9" x2="141.7" y2="562.9" stroke="#000" stroke-width="1.4"/>
<text x="129.7" y="570.2" font-size="19" text-anchor="end">6</text>
<line x1="136.2" y1="666.7" x2="136.2" y2="661.2" stroke="#000" stroke-width="1.4"/>
<text x="138.2" y="688.5" font-size="19" text-anchor="middle">0</text>
<line x1="190.8" y1="666.7" x2="190.8" y2="661.2" stroke="#000" stroke-width="1.4"/>
<text x="192.8" y="688.5" font-size="19" text-anchor="middle">1</text>
<line x1="245.5" y1="666.7" x2="245.5" y2="661.2" stroke="#000" stroke-width="1.4"/>
<text x="247.5" y="688.5" font-size="19" text-anchor="middle">2</text>
<line x1="300.1" y1="666.7" x2="300.1" y2="661.2" stroke="#000" stroke-width="1.4"/>
<text x="302.1" y="688.5" font-size="19" text-anchor="middle">3</text>
<line x1="354.8" y1="666.7" x2="354.8" y2="661.2" stroke="#000" stroke-width="1.4"/>
<text x="356.8" y="688.5" font-size="19" text-anchor="middle">4</text>
<line x1="178.4" y1="649.5" x2="330.5" y2="602.8" stroke="#5b90c9" stroke-width="2.4" stroke-dasharray="0.1 5.6" stroke-linecap="round"/>
<circle cx="179.4" cy="653.5" r="5.4" fill="#5b90c9"/>
<circle cx="216.5" cy="606.9" r="5.4" fill="#5b90c9"/>
<circle cx="215.5" cy="626.2" r="5.4" fill="#5b90c9"/>
<circle cx="212.9" cy="641.4" r="5.4" fill="#5b90c9"/>
<circle cx="219.0" cy="644.4" r="5.4" fill="#5b90c9"/>
<circle cx="231.1" cy="635.7" r="5.4" fill="#5b90c9"/>
<circle cx="237.6" cy="658.6" r="5.4" fill="#5b90c9"/>
<circle cx="270.2" cy="583.6" r="5.4" fill="#5b90c9"/>
<circle cx="269.2" cy="624.1" r="5.4" fill="#5b90c9"/>
<circle cx="271.3" cy="626.2" r="5.4" fill="#5b90c9"/>
<circle cx="285.9" cy="639.3" r="5.4" fill="#5b90c9"/>
<circle cx="288.9" cy="608.9" r="5.4" fill="#5b90c9"/>
<circle cx="332.1" cy="591.7" r="5.4" fill="#5b90c9"/>
<circle cx="329.0" cy="606.3" r="5.4" fill="#5b90c9"/>
<text x="150.4" y="567.8" font-size="18.8">r=0.6243</text>
<text x="150.4" y="590.7" font-size="18.8" text-anchor="start"><tspan font-style="italic">p</tspan>=0.0020</text>
<text x="82.8" y="630.0" font-size="20.6" text-anchor="middle" transform="rotate(-90 82.8 630.0)">Fold change(T/N)</text>
<text x="108.1" y="630.0" font-size="20.6" text-anchor="middle" transform="rotate(-90 108.1 630.0)">of&#160;&#160;PABPC1</text>
<text x="252.2" y="709.9" font-size="20.6" text-anchor="middle">Fold change(T/N) of</text>
<text x="252.2" y="734.6" font-size="20.6" text-anchor="middle">HOXD9</text>
<text x="3.0" y="645.4" font-size="24" font-weight="bold">E</text>
<line x1="484.4" y1="562.4" x2="484.4" y2="667.3" stroke="#000" stroke-width="1.5"/>
<line x1="483.8" y1="666.7" x2="704.0" y2="666.7" stroke="#000" stroke-width="1.5"/>
<line x1="484.4" y1="666.7" x2="489.9" y2="666.7" stroke="#000" stroke-width="1.4"/>
<text x="477.9" y="674.0" font-size="19" text-anchor="end">0</text>
<line x1="484.4" y1="632.1" x2="489.9" y2="632.1" stroke="#000" stroke-width="1.4"/>
<text x="477.9" y="639.4" font-size="19" text-anchor="end">1</text>
<line x1="484.4" y1="597.5" x2="489.9" y2="597.5" stroke="#000" stroke-width="1.4"/>
<text x="477.9" y="604.8" font-size="19" text-anchor="end">2</text>
<line x1="484.4" y1="562.9" x2="489.9" y2="562.9" stroke="#000" stroke-width="1.4"/>
<text x="477.9" y="570.2" font-size="19" text-anchor="end">3</text>
<line x1="484.4" y1="666.7" x2="484.4" y2="661.2" stroke="#000" stroke-width="1.4"/>
<text x="486.4" y="688.5" font-size="19" text-anchor="middle">0</text>
<line x1="539.1" y1="666.7" x2="539.1" y2="661.2" stroke="#000" stroke-width="1.4"/>
<text x="541.1" y="688.5" font-size="19" text-anchor="middle">1</text>
<line x1="593.9" y1="666.7" x2="593.9" y2="661.2" stroke="#000" stroke-width="1.4"/>
<text x="595.9" y="688.5" font-size="19" text-anchor="middle">2</text>
<line x1="648.6" y1="666.7" x2="648.6" y2="661.2" stroke="#000" stroke-width="1.4"/>
<text x="650.6" y="688.5" font-size="19" text-anchor="middle">3</text>
<line x1="703.4" y1="666.7" x2="703.4" y2="661.2" stroke="#000" stroke-width="1.4"/>
<text x="705.4" y="688.5" font-size="19" text-anchor="middle">4</text>
<line x1="526.0" y1="624.7" x2="680.1" y2="585.0" stroke="#5b90c9" stroke-width="2.4" stroke-dasharray="0.1 5.6" stroke-linecap="round"/>
<circle cx="528.0" cy="644.4" r="5.4" fill="#5b90c9"/>
<circle cx="564.5" cy="585.6" r="5.4" fill="#5b90c9"/>
<circle cx="563.5" cy="613.0" r="5.4" fill="#5b90c9"/>
<circle cx="561.4" cy="619.1" r="5.4" fill="#5b90c9"/>
<circle cx="567.5" cy="621.1" r="5.4" fill="#5b90c9"/>
<circle cx="579.7" cy="617.0" r="5.4" fill="#5b90c9"/>
<circle cx="585.8" cy="626.2" r="5.4" fill="#5b90c9"/>
<circle cx="618.2" cy="568.4" r="5.4" fill="#5b90c9"/>
<circle cx="637.5" cy="572.0" r="5.4" fill="#5b90c9"/>
<circle cx="619.2" cy="596.8" r="5.4" fill="#5b90c9"/>
<circle cx="618.2" cy="600.8" r="5.4" fill="#5b90c9"/>
<circle cx="617.2" cy="604.9" r="5.4" fill="#5b90c9"/>
<circle cx="634.4" cy="591.7" r="5.4" fill="#5b90c9"/>
<circle cx="677.6" cy="591.7" r="5.4" fill="#5b90c9"/>
<circle cx="680.1" cy="615.0" r="5.4" fill="#5b90c9"/>
<text x="701.4" y="635.3" font-size="18.8" text-anchor="end">r=0.5391</text>
<text x="704.4" y="657.6" font-size="18.8" text-anchor="end"><tspan font-style="italic">p</tspan>=0.0381</text>
<text x="434.1" y="631.2" font-size="20.6" text-anchor="middle" transform="rotate(-90 434.1 631.2)">Fold change(T/N)</text>
<text x="459.5" y="631.2" font-size="20.6" text-anchor="middle" transform="rotate(-90 459.5 631.2)">of&#160;&#160;PAK1</text>
<text x="594.2" y="710.3" font-size="20.6" text-anchor="middle">Fold change(T/N) of</text>
<text x="594.2" y="734.6" font-size="20.6" text-anchor="middle">HOXD9</text>
<text x="386.0" y="645.4" font-size="24" font-weight="bold">F</text>
<line x1="841.3" y1="564.5" x2="841.3" y2="669.6" stroke="#000" stroke-width="1.5"/>
<line x1="840.7" y1="669.0" x2="1061.6" y2="669.0" stroke="#000" stroke-width="1.5"/>
<line x1="841.3" y1="669.0" x2="846.8" y2="669.0" stroke="#000" stroke-width="1.4"/>
<text x="834.8" y="676.3" font-size="19" text-anchor="end">0</text>
<line x1="841.3" y1="634.3" x2="846.8" y2="634.3" stroke="#000" stroke-width="1.4"/>
<text x="834.8" y="641.6" font-size="19" text-anchor="end">2</text>
<line x1="841.3" y1="599.7" x2="846.8" y2="599.7" stroke="#000" stroke-width="1.4"/>
<text x="834.8" y="607.0" font-size="19" text-anchor="end">4</text>
<line x1="841.3" y1="565.0" x2="846.8" y2="565.0" stroke="#000" stroke-width="1.4"/>
<text x="834.8" y="572.3" font-size="19" text-anchor="end">6</text>
<line x1="841.3" y1="669.0" x2="841.3" y2="663.5" stroke="#000" stroke-width="1.4"/>
<text x="843.3" y="690.8" font-size="19" text-anchor="middle">0</text>
<line x1="914.5" y1="669.0" x2="914.5" y2="663.5" stroke="#000" stroke-width="1.4"/>
<text x="916.5" y="690.8" font-size="19" text-anchor="middle">0.5</text>
<line x1="987.8" y1="669.0" x2="987.8" y2="663.5" stroke="#000" stroke-width="1.4"/>
<text x="989.8" y="690.8" font-size="19" text-anchor="middle">1</text>
<line x1="1061.0" y1="669.0" x2="1061.0" y2="663.5" stroke="#000" stroke-width="1.4"/>
<text x="1063.0" y="690.8" font-size="19" text-anchor="middle">1.5</text>
<line x1="841.3" y1="605.3" x2="989.4" y2="655.3" stroke="#5b90c9" stroke-width="2.4" stroke-dasharray="0.1 5.6" stroke-linecap="round"/>
<circle cx="842.2" cy="585.9" r="5.4" fill="#5b90c9"/>
<circle cx="844.6" cy="594.0" r="5.4" fill="#5b90c9"/>
<circle cx="846.5" cy="609.4" r="5.4" fill="#5b90c9"/>
<circle cx="866.6" cy="608.4" r="5.4" fill="#5b90c9"/>
<circle cx="906.5" cy="611.3" r="5.4" fill="#5b90c9"/>
<circle cx="880.1" cy="626.3" r="5.4" fill="#5b90c9"/>
<circle cx="925.7" cy="626.3" r="5.4" fill="#5b90c9"/>
<circle cx="927.9" cy="628.1" r="5.4" fill="#5b90c9"/>
<circle cx="942.5" cy="628.5" r="5.4" fill="#5b90c9"/>
<circle cx="972.5" cy="639.0" r="5.4" fill="#5b90c9"/>
<circle cx="876.5" cy="646.9" r="5.4" fill="#5b90c9"/>
<circle cx="898.1" cy="642.2" r="5.4" fill="#5b90c9"/>
<circle cx="937.3" cy="643.5" r="5.4" fill="#5b90c9"/>
<circle cx="972.2" cy="661.0" r="5.4" fill="#5b90c9"/>
<circle cx="992.2" cy="656.3" r="5.4" fill="#5b90c9"/>
<text x="971.0" y="579.4" font-size="18.8">r=-0.7848</text>
<text x="971.0" y="601.0" font-size="18.8" text-anchor="start"><tspan font-style="italic">p</tspan>=0.0005</text>
<text x="788.7" y="631.5" font-size="20.6" text-anchor="middle" transform="rotate(-90 788.7 631.5)">Fold change(T/N)</text>
<text x="813.1" y="631.5" font-size="20.6" text-anchor="middle" transform="rotate(-90 813.1 631.5)">of&#160;&#160;PABPC1</text>
<text x="949.3" y="710.7" font-size="20.6" text-anchor="middle">Fold change(T/N) of</text>
<text x="949.3" y="734.1" font-size="20.6" text-anchor="middle">PAXIP1-AS1</text>
<text x="745.6" y="644.0" font-size="24" font-weight="bold">G</text>
<line x1="135.2" y1="753.4" x2="135.2" y2="857.9" stroke="#000" stroke-width="1.5"/>
<line x1="134.6" y1="857.3" x2="353.8" y2="857.3" stroke="#000" stroke-width="1.5"/>
<line x1="135.2" y1="857.3" x2="140.7" y2="857.3" stroke="#000" stroke-width="1.4"/>
<text x="128.7" y="864.6" font-size="19" text-anchor="end">0</text>
<line x1="135.2" y1="822.8" x2="140.7" y2="822.8" stroke="#000" stroke-width="1.4"/>
<text x="128.7" y="830.1" font-size="19" text-anchor="end">1</text>
<line x1="135.2" y1="788.4" x2="140.7" y2="788.4" stroke="#000" stroke-width="1.4"/>
<text x="128.7" y="795.7" font-size="19" text-anchor="end">2</text>
<line x1="135.2" y1="753.9" x2="140.7" y2="753.9" stroke="#000" stroke-width="1.4"/>
<text x="128.7" y="761.2" font-size="19" text-anchor="end">3</text>
<line x1="135.2" y1="857.3" x2="135.2" y2="851.8" stroke="#000" stroke-width="1.4"/>
<text x="137.2" y="879.1" font-size="19" text-anchor="middle">0</text>
<line x1="207.9" y1="857.3" x2="207.9" y2="851.8" stroke="#000" stroke-width="1.4"/>
<text x="209.9" y="879.1" font-size="19" text-anchor="middle">0.5</text>
<line x1="280.5" y1="857.3" x2="280.5" y2="851.8" stroke="#000" stroke-width="1.4"/>
<text x="282.5" y="879.1" font-size="19" text-anchor="middle">1</text>
<line x1="353.2" y1="857.3" x2="353.2" y2="851.8" stroke="#000" stroke-width="1.4"/>
<text x="355.2" y="879.1" font-size="19" text-anchor="middle">1.5</text>
<line x1="137.9" y1="778.7" x2="282.8" y2="817.6" stroke="#5b90c9" stroke-width="2.4" stroke-dasharray="0.1 5.6" stroke-linecap="round"/>
<circle cx="136.4" cy="759.0" r="5.4" fill="#5b90c9"/>
<circle cx="140.9" cy="776.2" r="5.4" fill="#5b90c9"/>
<circle cx="160.2" cy="782.3" r="5.4" fill="#5b90c9"/>
<circle cx="173.3" cy="795.9" r="5.4" fill="#5b90c9"/>
<circle cx="138.9" cy="806.4" r="5.4" fill="#5b90c9"/>
<circle cx="170.3" cy="811.7" r="5.4" fill="#5b90c9"/>
<circle cx="191.6" cy="783.1" r="5.4" fill="#5b90c9"/>
<circle cx="199.7" cy="762.8" r="5.4" fill="#5b90c9"/>
<circle cx="219.0" cy="788.8" r="5.4" fill="#5b90c9"/>
<circle cx="220.0" cy="787.4" r="5.4" fill="#5b90c9"/>
<circle cx="218.6" cy="790.8" r="5.4" fill="#5b90c9"/>
<circle cx="235.2" cy="804.6" r="5.4" fill="#5b90c9"/>
<circle cx="230.7" cy="810.1" r="5.4" fill="#5b90c9"/>
<circle cx="264.6" cy="808.1" r="5.4" fill="#5b90c9"/>
<circle cx="264.6" cy="817.2" r="5.4" fill="#5b90c9"/>
<circle cx="283.8" cy="835.4" r="5.4" fill="#5b90c9"/>
<text x="265.6" y="764.5" font-size="18.8">r=-0.6403</text>
<text x="265.6" y="787.8" font-size="18.8" text-anchor="start"><tspan font-style="italic">p</tspan>=0.0101</text>
<text x="82.5" y="816.7" font-size="20.6" text-anchor="middle" transform="rotate(-90 82.5 816.7)">Fold change(T/N)</text>
<text x="107.9" y="816.7" font-size="20.6" text-anchor="middle" transform="rotate(-90 107.9 816.7)">of&#160;&#160;PAK1</text>
<text x="249.3" y="897.9" font-size="20.6" text-anchor="middle">Fold change(T/N) of</text>
<text x="249.3" y="921.6" font-size="20.6" text-anchor="middle">PAXIP1-AS1</text>
<text x="3.0" y="825.0" font-size="24" font-weight="bold">H</text>
<line x1="136.2" y1="931.8" x2="136.2" y2="1036.9" stroke="#000" stroke-width="1.5"/>
<line x1="135.6" y1="1036.3" x2="356.4" y2="1036.3" stroke="#000" stroke-width="1.5"/>
<line x1="136.2" y1="1036.3" x2="141.7" y2="1036.3" stroke="#000" stroke-width="1.4"/>
<text x="129.7" y="1043.6" font-size="19" text-anchor="end">0</text>
<line x1="136.2" y1="1001.6" x2="141.7" y2="1001.6" stroke="#000" stroke-width="1.4"/>
<text x="129.7" y="1008.9" font-size="19" text-anchor="end">1</text>
<line x1="136.2" y1="967.0" x2="141.7" y2="967.0" stroke="#000" stroke-width="1.4"/>
<text x="129.7" y="974.3" font-size="19" text-anchor="end">2</text>
<line x1="136.2" y1="932.3" x2="141.7" y2="932.3" stroke="#000" stroke-width="1.4"/>
<text x="129.7" y="939.6" font-size="19" text-anchor="end">3</text>
<line x1="136.2" y1="1036.3" x2="136.2" y2="1030.8" stroke="#000" stroke-width="1.4"/>
<text x="138.2" y="1058.1" font-size="19" text-anchor="middle">0</text>
<line x1="209.4" y1="1036.3" x2="209.4" y2="1030.8" stroke="#000" stroke-width="1.4"/>
<text x="211.4" y="1058.1" font-size="19" text-anchor="middle">2</text>
<line x1="282.6" y1="1036.3" x2="282.6" y2="1030.8" stroke="#000" stroke-width="1.4"/>
<text x="284.6" y="1058.1" font-size="19" text-anchor="middle">4</text>
<line x1="355.8" y1="1036.3" x2="355.8" y2="1030.8" stroke="#000" stroke-width="1.4"/>
<text x="357.8" y="1058.1" font-size="19" text-anchor="middle">6</text>
<line x1="154.1" y1="996.8" x2="313.8" y2="944.9" stroke="#5b90c9" stroke-width="2.4" stroke-dasharray="0.1 5.6" stroke-linecap="round"/>
<circle cx="152.1" cy="995.1" r="5.4" fill="#5b90c9"/>
<circle cx="163.2" cy="1013.8" r="5.4" fill="#5b90c9"/>
<circle cx="183.5" cy="990.1" r="5.4" fill="#5b90c9"/>
<circle cx="189.6" cy="989.1" r="5.4" fill="#5b90c9"/>
<circle cx="200.7" cy="986.6" r="5.4" fill="#5b90c9"/>
<circle cx="192.6" cy="961.3" r="5.4" fill="#5b90c9"/>
<circle cx="221.0" cy="983.0" r="5.4" fill="#5b90c9"/>
<circle cx="223.0" cy="966.8" r="5.4" fill="#5b90c9"/>
<circle cx="227.1" cy="969.8" r="5.4" fill="#5b90c9"/>
<circle cx="226.1" cy="974.5" r="5.4" fill="#5b90c9"/>
<circle cx="258.5" cy="941.4" r="5.4" fill="#5b90c9"/>
<circle cx="263.2" cy="954.6" r="5.4" fill="#5b90c9"/>
<circle cx="263.6" cy="961.7" r="5.4" fill="#5b90c9"/>
<circle cx="313.2" cy="938.0" r="5.4" fill="#5b90c9"/>
<circle cx="295.0" cy="984.6" r="5.4" fill="#5b90c9"/>
<text x="268.0" y="1008.3" font-size="18.8">r=0.7310</text>
<text x="268.0" y="1030.6" font-size="18.8" text-anchor="start"><tspan font-style="italic">P</tspan>=0.0020</text>
<text x="82.5" y="998.2" font-size="20.6" text-anchor="middle" transform="rotate(-90 82.5 998.2)">Fold change(T/N)</text>
<text x="107.9" y="998.2" font-size="20.6" text-anchor="middle" transform="rotate(-90 107.9 998.2)">of&#160;&#160;PAK1</text>
<text x="252.5" y="1078.3" font-size="20.6" text-anchor="middle">Fold change(T/N) of</text>
<text x="252.5" y="1102.6" font-size="20.6" text-anchor="middle">PABPC1</text>
<text x="3.0" y="1000.8" font-size="24" font-weight="bold">I</text>
<text x="400.0" y="925.0" font-size="24" font-weight="bold">K</text>
<g clip-path="url(#kclip)">
<rect x="447.2" y="741.0" width="595.8" height="358.0" fill="#dde9f2"/>
<rect x="447.2" y="750.3" width="595.8" height="8.4" fill="#d3dde9"/>
<line x1="447.2" y1="750.6" x2="1043.0" y2="750.6" stroke="#9fadc2" stroke-width="1.6"/>
<line x1="447.2" y1="758.3" x2="1043.0" y2="758.3" stroke="#9fadc2" stroke-width="1.6"/>
<rect x="447.2" y="751.5" width="595.8" height="6.0" fill="url(#memb)"/>
<circle cx="742.5" cy="1200" r="265" fill="#e8e7ee"/>
<path d="M502.0 1096.0 A262 262 0 0 1 550.0 1022.2" fill="none" stroke="#b3a9c8" stroke-width="7.5" stroke-linecap="round"/>
<path d="M579.9 994.6 A262 262 0 0 1 676.3 946.5" fill="none" stroke="#b3a9c8" stroke-width="7.5" stroke-linecap="round"/>
<path d="M717.2 939.2 A262 262 0 0 1 830.7 953.3" fill="none" stroke="#b3a9c8" stroke-width="7.5" stroke-linecap="round"/>
<path d="M870.5 971.4 A262 262 0 0 1 957.7 1050.5" fill="none" stroke="#b3a9c8" stroke-width="7.5" stroke-linecap="round"/>
<path d="M979.9 1089.1 A262 262 0 0 1 985.4 1101.9" fill="none" stroke="#b3a9c8" stroke-width="7.5" stroke-linecap="round"/>
<text x="471.0" y="784.1" font-size="17.3" font-family='"Liberation Serif", "Times New Roman", serif'>5’UTR</text>
<line x1="543.0" y1="779.5" x2="678.0" y2="779.5" stroke="#c47cbc" stroke-width="1.8"/>
<path d="M545.0 779.5V773.2M548.5 779.5V773.2M551.9 779.5V773.2M555.4 779.5V773.2M558.8 779.5V773.2M562.2 779.5V773.2M565.7 779.5V773.2M569.1 779.5V773.2M572.6 779.5V773.2M576.0 779.5V773.2M579.5 779.5V773.2M583.0 779.5V773.2M586.4 779.5V773.2M589.9 779.5V773.2M593.3 779.5V773.2M596.8 779.5V773.2M600.2 779.5V773.2M603.6 779.5V773.2M607.1 779.5V773.2M610.5 779.5V773.2M614.0 779.5V773.2M617.5 779.5V773.2M620.9 779.5V773.2M624.4 779.5V773.2M627.8 779.5V773.2M631.2 779.5V773.2M634.7 779.5V773.2M638.1 779.5V773.2M641.6 779.5V773.2M645.0 779.5V773.2M648.5 779.5V773.2M652.0 779.5V773.2M655.4 779.5V773.2M658.9 779.5V773.2M662.3 779.5V773.2M665.8 779.5V773.2M669.2 779.5V773.2M672.6 779.5V773.2M676.1 779.5V773.2" stroke="#c986c2" stroke-width="1"/>
<circle cx="533.9" cy="777.2" r="9.4" fill="#f0a626" stroke="#e08f1a" stroke-width="1"/>
<text x="533.9" y="781.5" font-size="10.5" text-anchor="middle" fill="#a0600a">G</text>
<circle cx="686.4" cy="776.4" r="9.1" fill="#e6f1cf" stroke="#b9d79c" stroke-width="1"/>
<text x="686.4" y="780.6" font-size="11" text-anchor="middle" fill="#4f8d4c">A</text>
<circle cx="705.4" cy="776.4" r="9.1" fill="#e6f1cf" stroke="#b9d79c" stroke-width="1"/>
<text x="705.4" y="780.6" font-size="11" text-anchor="middle" fill="#4f8d4c">A</text>
<circle cx="725.2" cy="776.4" r="9.1" fill="#e6f1cf" stroke="#b9d79c" stroke-width="1"/>
<text x="725.2" y="780.6" font-size="11" text-anchor="middle" fill="#4f8d4c">A</text>
<circle cx="745.9" cy="776.4" r="9.1" fill="#e6f1cf" stroke="#b9d79c" stroke-width="1"/>
<text x="745.9" y="780.6" font-size="11" text-anchor="middle" fill="#4f8d4c">A</text>
<circle cx="766.2" cy="776.4" r="9.1" fill="#e6f1cf" stroke="#b9d79c" stroke-width="1"/>
<text x="766.2" y="780.6" font-size="11" text-anchor="middle" fill="#4f8d4c">A</text>
<text x="779.8" y="784.7" font-size="18" font-family='"Liberation Serif", "Times New Roman", serif'>3’UTR</text>
<text x="900.9" y="784.7" font-size="17.9" font-family='"Liberation Serif", "Times New Roman", serif'>Cytoplasm</text>
<text x="614.3" y="800.5" font-size="17.7" text-anchor="middle" font-weight="bold" font-family='"Liberation Serif", "Times New Roman", serif'>PAK1 mRNA</text>
<path d="M744.2 836.7 Q740 808 726 793" fill="none" stroke="#8c1c3c" stroke-width="1.6"/>
<path d="M723.5 789.3 L731.5 794.5 L724.8 798.8 Z" fill="#8c1c3c"/>
<path d="M716 852 C712 842 724 836 732 842 C736 832 752 830 758 840 C768 834 782 838 784 850 C794 856 794 870 788 878 C796 888 790 902 780 904 C782 916 770 926 758 922 C750 930 734 928 730 920 C720 926 706 918 708 908 C698 906 698 892 706 888 C698 880 702 866 712 866 C708 860 710 854 716 852 Z" fill="#f6d7a1" stroke="#e9b46e" stroke-width="1.2"/>
<path d="M722 860 C730 852 744 856 748 864 M736 880 C746 874 760 880 760 890 M716 890 C722 884 730 888 732 896 M756 852 C764 848 772 852 774 860 M748 904 C756 898 768 902 768 910" fill="none" stroke="#f0c283" stroke-width="1.5"/>
<text x="650.2" y="881.1" font-size="17.4" text-anchor="middle" font-weight="bold" font-family='"Liberation Serif", "Times New Roman", serif'>PABPC1</text>
<path d="M758 925 C776 918 800 912 805 898 C810 884 786 884 768 882 C756 880 762 866 778 860 C792 854 806 846 800 836 C794 826 784 832 790 842" fill="none" stroke="#3f7fba" stroke-width="1.5"/>
<path d="M768 900 C790 900 820 905 857 897.9" fill="none" stroke="#3f7fba" stroke-width="1.5"/>
<path d="M765 866 H782 M764 870 H784 M764 874 H784 M765 878 H783 M767 882 H780" stroke="#3f7fba" stroke-width="1"/>
<circle cx="787.8" cy="825.6" r="12.8" fill="#8a53a4" stroke="#6e3b8c" stroke-width="1"/>
<circle cx="776.1" cy="841.3" r="12.8" fill="#8a53a4" stroke="#6e3b8c" stroke-width="1"/>
<text x="787.8" y="829.3" font-size="9.5" text-anchor="middle" fill="#f1e6f6">Ub</text>
<text x="776.1" y="845.0" font-size="9.5" text-anchor="middle" fill="#f1e6f6">Ub</text>
<text x="860.5" y="880.4" font-size="18.1" text-anchor="middle" font-weight="bold" font-family='"Liberation Serif", "Times New Roman", serif'>PAXIP1-AS1</text>
<path d="M695.8 901.5 L676 913" stroke="#1a1a1a" stroke-width="4"/>
<path d="M668 918.5 L673.5 906 L681.5 917 Z" fill="#1a1a1a"/>
<circle cx="637" cy="905" r="2" fill="#f0cf8c"/>
<circle cx="641" cy="911" r="2.5" fill="#f0cf8c"/>
<circle cx="646" cy="907" r="1.6" fill="#f0cf8c"/>
<circle cx="650" cy="914" r="2.2" fill="#f0cf8c"/>
<circle cx="643" cy="918" r="2" fill="#f0cf8c"/>
<circle cx="655" cy="909" r="1.5" fill="#f0cf8c"/>
<circle cx="648" cy="921" r="1.3" fill="#f0cf8c"/>
<circle cx="658" cy="916" r="1.8" fill="#f0cf8c"/>
<circle cx="636" cy="921" r="1.2" fill="#f0cf8c"/>
<circle cx="652" cy="903" r="1.2" fill="#f0cf8c"/>
<path d="M812.6 1060.8 C830 1020 846 960 845 915" fill="none" stroke="#1a1a1a" stroke-width="1.6"/>
<path d="M845 909.3 L849.5 919 L840.8 919 Z" fill="#1a1a1a"/>
<path d="M749 1032.5 C770 1026 790 1010 810 1016 C815 1018 816 1020 818 1022" fill="none" stroke="#3f7fba" stroke-width="1.5"/>
<path d="M772 1028 C760 1026 756 1016 764 1006 C772 996 786 990 788 982 C790 974 780 970 774 978 C768 986 772 996 778 1008" fill="none" stroke="#3f7fba" stroke-width="1.5"/>
<path d="M760 1008 H774 M758 1012 H776 M758 1016 H776 M760 1020 H774" stroke="#3f7fba" stroke-width="0.9"/>
<rect x="580.7" y="1003.6" width="91.2" height="30" rx="7" fill="#f7d5e6" stroke="#b5508a" stroke-width="1.4"/>
<text x="626.4" y="1025.2" font-size="18.2" text-anchor="middle" font-weight="bold" font-family='"Liberation Serif", "Times New Roman", serif'>HOXD9</text>
<line x1="619.3" y1="1036.0" x2="633.2" y2="1059.2" stroke="#1a1a1a" stroke-width="1.5"/>
<line x1="627.5" y1="1062.5" x2="638.5" y2="1056.0" stroke="#1a1a1a" stroke-width="1.6"/>
<polyline points="555.0,1083.9 556.5,1085.1 558.0,1085.9 559.6,1086.4 561.1,1086.5 562.6,1086.1 564.1,1085.4 565.7,1084.3 567.2,1082.9 568.7,1081.4 570.2,1079.8 571.8,1078.2 573.3,1076.9 574.8,1075.7 576.4,1074.9 577.9,1074.5 579.4,1074.6 580.9,1075.0 582.5,1075.8 584.0,1077.0 585.5,1078.4 587.0,1079.9 588.5,1081.5 590.1,1083.0 591.6,1084.4 593.1,1085.5 594.6,1086.2 596.2,1086.5 597.7,1086.4 599.2,1085.9 600.8,1085.0 602.3,1083.8 603.8,1082.3 605.3,1080.7 606.9,1079.2 608.4,1077.7 609.9,1076.4 611.4,1075.4 613.0,1074.7 614.5,1074.5 616.0,1074.7" fill="none" stroke="#c8323c" stroke-width="2.4"/>
<polyline points="555.0,1077.1 556.5,1075.9 558.0,1075.1 559.6,1074.6 561.1,1074.5 562.6,1074.9 564.1,1075.6 565.7,1076.7 567.2,1078.1 568.7,1079.6 570.2,1081.2 571.8,1082.8 573.3,1084.1 574.8,1085.3 576.4,1086.1 577.9,1086.5 579.4,1086.4 580.9,1086.0 582.5,1085.2 584.0,1084.0 585.5,1082.6 587.0,1081.1 588.5,1079.5 590.1,1078.0 591.6,1076.6 593.1,1075.5 594.6,1074.8 596.2,1074.5 597.7,1074.6 599.2,1075.1 600.8,1076.0 602.3,1077.2 603.8,1078.7 605.3,1080.3 606.9,1081.8 608.4,1083.3 609.9,1084.6 611.4,1085.6 613.0,1086.3 614.5,1086.5 616.0,1086.3" fill="none" stroke="#2e5d9a" stroke-width="2.4"/>
<polyline points="836.0,1081.7 837.5,1083.2 839.0,1084.5 840.5,1085.5 842.0,1086.2 843.5,1086.5 845.0,1086.4 846.5,1085.9 848.0,1085.0 849.5,1083.8 851.0,1082.4 852.5,1080.9 854.0,1079.3 855.5,1077.8 857.0,1076.5 858.5,1075.5 860.0,1074.8 861.5,1074.5 863.0,1074.6 864.5,1075.1 866.0,1076.0 867.5,1077.2 869.0,1078.6 870.5,1080.1 872.0,1081.7 873.5,1083.2 875.0,1084.5 876.5,1085.5 878.0,1086.2 879.5,1086.5 881.0,1086.4 882.5,1085.9 884.0,1085.0 885.5,1083.8 887.0,1082.4 888.5,1080.9 890.0,1079.3 891.5,1077.8 893.0,1076.5 894.5,1075.5 896.0,1074.8 897.5,1074.5 899.0,1074.6 900.5,1075.1 902.0,1076.0 903.5,1077.2 905.0,1078.6" fill="none" stroke="#c8323c" stroke-width="2.4"/>
<polyline points="836.0,1079.3 837.5,1077.8 839.0,1076.5 840.5,1075.5 842.0,1074.8 843.5,1074.5 845.0,1074.6 846.5,1075.1 848.0,1076.0 849.5,1077.2 851.0,1078.6 852.5,1080.1 854.0,1081.7 855.5,1083.2 857.0,1084.5 858.5,1085.5 860.0,1086.2 861.5,1086.5 863.0,1086.4 864.5,1085.9 866.0,1085.0 867.5,1083.8 869.0,1082.4 870.5,1080.9 872.0,1079.3 873.5,1077.8 875.0,1076.5 876.5,1075.5 878.0,1074.8 879.5,1074.5 881.0,1074.6 882.5,1075.1 884.0,1076.0 885.5,1077.2 887.0,1078.6 888.5,1080.1 890.0,1081.7 891.5,1083.2 893.0,1084.5 894.5,1085.5 896.0,1086.2 897.5,1086.5 899.0,1086.4 900.5,1085.9 902.0,1085.0 903.5,1083.8 905.0,1082.4" fill="none" stroke="#2e5d9a" stroke-width="2.4"/>
<rect x="615.3" y="1067.9" width="221.4" height="26" rx="7" fill="#dfe9f5" stroke="#3b6da3" stroke-width="1.4"/>
<text x="723" y="1086.4" font-size="16.2" text-anchor="middle" font-family='"Liberation Serif", "Times New Roman", serif'>Promoter of <tspan font-weight="bold">PAXIP1-AS1</tspan></text>
<text x="910.6" y="1091.7" font-size="17.7" font-family='"Liberation Serif", "Times New Roman", serif'>Nucleus</text>
</g>
<text x="1108.0" y="724.0" font-size="24" font-weight="bold">J</text>
<text x="1380.0" y="338.8" font-size="20.5" text-anchor="middle">Normal</text>
<text x="1736.3" y="338.8" font-size="20.5" text-anchor="middle">Cancer</text>
<line x1="1186.0" y1="343.2" x2="1548.0" y2="343.2" stroke="#333" stroke-width="1.3"/>
<line x1="1555.0" y1="343.2" x2="1916.0" y2="343.2" stroke="#333" stroke-width="1.3"/>
<text x="1172.5" y="427.7" font-size="20.5" text-anchor="middle" transform="rotate(-90 1172.5 427.7)">HOXD9</text>
<g clip-path="url(#jt00)">
<rect x="1185.4" y="352.8" width="179.3" height="144.8" fill="#e7e4ea"/>
<path d="M1185.4 352.8 C1199.7 329.6 1257.8 350.5 1275.1 352.8 C1292.3 355.1 1285.8 361.0 1293.0 367.3 C1300.2 373.5 1311.8 387.0 1319.9 391.9 C1327.9 396.8 1336.0 397.0 1343.2 397.7 C1350.4 398.4 1361.3 380.3 1364.7 396.2 C1368.1 412.2 1393.4 481.4 1364.7 497.6 C1336.0 513.8 1214.1 520.8 1185.4 497.6 C1156.7 474.4 1171.1 376.0 1185.4 352.8Z " fill="#d8d3e2"/>
<g clip-path="url(#jt00c1)"><rect x="1185.4" y="352.8" width="179.3" height="144.8" filter="url(#sp0)" opacity="0.6"/></g>
<g clip-path="url(#jt00c2)"><rect x="1185.4" y="352.8" width="179.3" height="144.8" filter="url(#sp1)" opacity="0.55"/></g>
<g clip-path="url(#jt00c3)"><rect x="1185.4" y="352.8" width="179.3" height="144.8" filter="url(#sp2)" opacity="0.4"/></g>
<rect x="1185.4" y="352.8" width="179.3" height="144.8" filter="url(#sp3)" opacity="0.25"/>
<ellipse cx="1201.5" cy="474.4" rx="6.3" ry="7.2" fill="none" stroke="#7a7aa6" stroke-width="0.8"/>
<ellipse cx="1214.1" cy="483.1" rx="5.4" ry="7.2" fill="none" stroke="#7a7aa6" stroke-width="0.8"/>
<ellipse cx="1230.2" cy="486.0" rx="5.4" ry="8.0" fill="none" stroke="#7a7aa6" stroke-width="0.8"/>
<ellipse cx="1244.6" cy="490.4" rx="5.4" ry="7.2" fill="none" stroke="#7a7aa6" stroke-width="0.8"/>
<ellipse cx="1196.2" cy="454.2" rx="5.4" ry="6.5" fill="none" stroke="#7a7aa6" stroke-width="0.8"/>
<ellipse cx="1210.5" cy="442.6" rx="4.5" ry="5.8" fill="none" stroke="#7a7aa6" stroke-width="0.8"/>
<ellipse cx="1221.3" cy="465.7" rx="5.0" ry="6.5" fill="none" stroke="#7a7aa6" stroke-width="0.8"/>
<ellipse cx="1194.4" cy="493.3" rx="5.4" ry="5.8" fill="none" stroke="#7a7aa6" stroke-width="0.8"/>
<ellipse cx="1260.7" cy="491.8" rx="5.4" ry="7.2" fill="none" stroke="#7a7aa6" stroke-width="0.8"/>
<ellipse cx="1278.6" cy="483.1" rx="4.5" ry="5.8" fill="none" stroke="#7a7aa6" stroke-width="0.8"/>
<ellipse cx="1293.0" cy="490.4" rx="5.4" ry="7.2" fill="none" stroke="#7a7aa6" stroke-width="0.8"/>
<ellipse cx="1314.5" cy="487.5" rx="5.4" ry="7.2" fill="none" stroke="#7a7aa6" stroke-width="0.8"/>
<ellipse cx="1332.4" cy="483.1" rx="5.4" ry="6.5" fill="none" stroke="#7a7aa6" stroke-width="0.8"/>
<ellipse cx="1350.4" cy="488.9" rx="5.4" ry="7.2" fill="none" stroke="#7a7aa6" stroke-width="0.8"/>
<ellipse cx="1343.2" cy="471.5" rx="4.5" ry="5.8" fill="none" stroke="#7a7aa6" stroke-width="0.8"/>
<ellipse cx="1355.7" cy="454.2" rx="4.5" ry="5.8" fill="none" stroke="#7a7aa6" stroke-width="0.8"/>
</g>
<line x1="1198.4" y1="363.8" x2="1215.4" y2="363.8" stroke="#e8e04a" stroke-width="2.6"/>
<g clip-path="url(#jt01)">
<rect x="1370.3" y="352.8" width="179.4" height="144.8" fill="#e3dce3"/>
<rect x="1370.3" y="352.8" width="179.4" height="144.8" filter="url(#sp4)" opacity="0.5"/>
<rect x="1370.3" y="352.8" width="179.4" height="144.8" filter="url(#sp5)" opacity="0.9"/>
<rect x="1370.3" y="352.8" width="179.4" height="144.8" filter="url(#sp6)" opacity="0.9"/>
<rect x="1370.3" y="352.8" width="179.4" height="144.8" filter="url(#sp7)" opacity="0.4"/>
<g filter="url(#rag91)">
<ellipse cx="1385.5" cy="444.0" rx="13.5" ry="15.9" fill="none" stroke="#3d56a6" stroke-width="2.4"/>
<ellipse cx="1424.1" cy="474.4" rx="16.1" ry="20.3" fill="none" stroke="#3d56a6" stroke-width="2.4"/>
<ellipse cx="1469.0" cy="471.5" rx="12.6" ry="18.8" fill="none" stroke="#3d56a6" stroke-width="2.4"/>
<ellipse cx="1379.3" cy="494.7" rx="12.6" ry="8.7" fill="none" stroke="#3d56a6" stroke-width="2.4"/>
</g>
</g>
<g clip-path="url(#jt02)">
<rect x="1555.2" y="352.8" width="179.3" height="144.8" fill="#ecebea"/>
<g filter="url(#rag61)">
<path d="M1680.7 413.6 C1683.9 405.3 1701.3 410.6 1707.6 413.6 C1713.9 416.6 1715.9 426.4 1720.2 432.4 C1724.5 438.5 1732.2 440.8 1734.5 451.3 C1736.8 461.7 1742.5 490.2 1734.5 497.6 C1726.5 505.0 1693.5 501.1 1684.3 497.6 C1675.1 494.1 1676.6 481.0 1677.1 475.9 C1677.7 470.8 1687.3 475.7 1687.9 465.7 C1688.5 455.8 1677.6 422.0 1680.7 413.6Z " fill="#cbb5ad"/>
<g clip-path="url(#jt02c4)"><rect x="1555.2" y="352.8" width="179.3" height="144.8" filter="url(#sp10)" opacity="0.7"/></g>
<path d="M1567.8 393.3 C1568.6 387.6 1574.8 385.2 1578.5 381.8 C1582.2 378.3 1586.2 373.9 1591.1 371.6 C1595.9 369.3 1605.5 369.8 1609.0 367.3 C1612.4 364.7 1606.8 358.0 1612.6 355.7 C1618.3 353.4 1633.9 352.8 1644.8 352.8 C1655.8 352.8 1677.8 352.9 1680.7 355.7 C1683.6 358.5 1667.1 364.8 1662.8 370.2 C1658.5 375.5 1655.0 383.7 1653.8 389.0 C1652.7 394.3 1655.6 398.8 1655.6 403.5 C1655.6 408.1 1653.2 412.2 1653.8 418.0 C1654.4 423.8 1657.8 432.7 1659.2 439.7 C1660.6 446.6 1660.5 454.9 1662.8 461.4 C1665.1 467.9 1673.0 474.4 1673.5 480.2 C1674.1 486.0 1677.8 494.8 1666.4 497.6 C1654.9 500.4 1613.3 499.9 1601.8 497.6 C1590.3 495.3 1596.9 488.9 1594.6 483.1 C1592.4 477.3 1590.3 468.4 1587.5 461.4 C1584.6 454.4 1579.0 446.6 1576.7 439.7 C1574.4 432.7 1574.6 425.4 1573.1 418.0 C1571.7 410.5 1566.9 399.1 1567.8 393.3Z M1558.8 425.2 C1558.8 421.7 1563.7 418.7 1566.0 418.0 C1568.3 417.3 1570.8 417.4 1573.1 420.9 C1575.4 424.3 1577.4 432.5 1580.3 439.7 C1583.2 446.9 1587.9 457.2 1591.1 465.7 C1594.2 474.3 1600.0 488.9 1600.0 493.3 C1600.0 497.7 1594.5 498.4 1591.1 493.3 C1587.6 488.2 1582.5 470.0 1578.5 461.4 C1574.5 452.8 1569.1 445.5 1566.0 439.7 C1562.8 433.9 1558.8 428.7 1558.8 425.2Z M1653.8 374.5 C1655.2 369.2 1661.5 369.5 1666.4 370.2 C1671.2 370.9 1680.6 375.9 1684.3 378.9 C1688.0 381.9 1689.7 385.1 1689.7 389.0 C1689.7 392.9 1686.3 399.5 1684.3 403.5 C1682.3 407.4 1680.0 412.5 1677.1 413.6 C1674.3 414.8 1669.5 412.3 1666.4 410.7 C1663.2 409.1 1659.4 409.3 1657.4 403.5 C1655.4 397.7 1652.4 379.8 1653.8 374.5Z M1659.2 418.0 C1659.5 414.0 1667.7 418.4 1671.7 422.3 C1675.8 426.2 1680.6 436.1 1684.3 442.6 C1688.0 449.1 1694.5 458.7 1695.1 462.8 C1695.6 467.0 1691.9 471.2 1687.9 468.6 C1683.9 466.1 1674.5 455.0 1670.0 446.9 C1665.4 438.8 1658.9 421.9 1659.2 418.0Z " fill="#7e4c38"/>
<g clip-path="url(#jt02c5)"><rect x="1555.2" y="352.8" width="179.3" height="144.8" filter="url(#sp11)" opacity="0.8"/></g>
<g clip-path="url(#jt02c6)"><rect x="1555.2" y="352.8" width="179.3" height="144.8" filter="url(#sp12)" opacity="0.6"/></g>
<path d="M1580.3 396.2 C1581.7 391.6 1588.5 386.7 1591.1 389.0 C1593.6 391.3 1596.4 404.9 1596.4 410.7 C1596.4 416.5 1593.4 424.0 1591.1 425.2 C1588.8 426.4 1583.8 422.6 1582.1 418.0 C1580.4 413.3 1578.9 400.9 1580.3 396.2Z " fill="#b89088" opacity="0.8"/>
<path d="M1609.0 413.6 L1623.3 454.2 L1634.1 486.0 M1619.7 410.7 L1637.7 446.9 L1652.0 486.0 M1614.4 374.5 L1626.9 407.8 M1630.5 370.2 L1639.5 396.2 M1573.1 413.6 L1583.9 439.7 L1596.4 475.9 M1603.6 420.9 L1610.8 454.2 L1619.7 490.4 M1644.8 367.3 L1648.4 396.2 M1639.5 418.0 L1644.8 454.2 L1653.8 475.9 " fill="none" stroke="#efe6e2" stroke-width="1.7" stroke-linecap="round" stroke-linejoin="round" opacity="0.9"/>
<path d="M1698.6 442.6 C1700.4 440.0 1710.1 442.2 1713.0 445.5 C1715.9 448.7 1718.3 460.3 1716.6 462.8 C1714.8 465.4 1705.1 464.6 1702.2 461.4 C1699.4 458.2 1696.9 445.1 1698.6 442.6Z M1705.8 393.3 C1706.7 391.3 1711.8 390.0 1713.0 391.9 C1714.1 393.7 1713.8 402.8 1713.0 404.9 C1712.1 407.0 1708.8 406.8 1707.6 404.9 C1706.5 403.1 1705.0 395.4 1705.8 393.3Z " fill="#7a4a3a"/>
</g>
</g>
<line x1="1568.2" y1="363.8" x2="1585.2" y2="363.8" stroke="#e8e04a" stroke-width="2.6"/>
<g clip-path="url(#jt03)">
<rect x="1740.2" y="352.8" width="179.3" height="144.8" fill="#dcdee7"/>
<rect x="1740.2" y="352.8" width="179.3" height="144.8" filter="url(#sp13)" opacity="0.5"/>
<g filter="url(#rag71)">
<path d="M1743.8 352.8 C1748.7 343.5 1770.9 348.2 1776.1 352.8 C1781.2 357.4 1776.6 370.2 1776.1 381.8 C1775.5 393.3 1771.0 411.3 1772.5 425.2 C1773.9 439.1 1781.6 457.1 1785.0 468.6 C1788.5 480.2 1797.7 493.0 1794.0 497.6 C1790.3 502.2 1768.3 504.6 1761.7 497.6 C1755.1 490.6 1755.3 468.1 1752.8 454.2 C1750.2 440.3 1747.0 426.9 1745.6 410.7 C1744.1 394.5 1738.9 362.1 1743.8 352.8Z M1776.1 352.8 C1778.1 349.3 1786.7 355.4 1790.4 360.0 C1794.1 364.7 1796.5 372.5 1799.4 381.8 C1802.2 391.0 1805.5 406.4 1808.3 418.0 C1811.2 429.5 1814.4 441.4 1817.3 454.2 C1820.2 466.9 1829.1 490.6 1826.3 497.6 C1823.4 504.6 1805.1 504.6 1799.4 497.6 C1793.6 490.6 1793.3 468.1 1790.4 454.2 C1787.5 440.3 1783.4 422.3 1781.4 410.7 C1779.4 399.1 1778.7 391.0 1777.9 381.8 C1777.0 372.5 1774.1 356.3 1776.1 352.8Z M1804.7 352.8 C1808.2 347.0 1824.4 349.3 1829.8 352.8 C1835.3 356.3 1837.4 365.3 1838.8 374.5 C1840.2 383.8 1837.4 399.1 1838.8 410.7 C1840.2 422.3 1844.1 435.3 1847.8 446.9 C1851.5 458.5 1859.3 475.0 1862.1 483.1 C1865.0 491.2 1868.6 495.3 1865.7 497.6 C1862.8 499.9 1849.9 503.4 1844.2 497.6 C1838.5 491.8 1834.4 471.8 1829.8 461.4 C1825.3 451.0 1818.9 444.0 1815.5 432.4 C1812.1 420.9 1810.1 401.7 1808.3 389.0 C1806.6 376.3 1801.3 358.6 1804.7 352.8Z M1838.8 352.8 C1844.3 349.3 1870.4 349.3 1874.7 352.8 C1879.0 356.3 1865.4 370.3 1865.7 374.5 C1866.0 378.7 1875.3 370.8 1876.5 378.9 C1877.6 387.0 1872.9 413.2 1872.9 425.2 C1872.9 437.2 1873.6 446.1 1876.5 454.2 C1879.3 462.3 1887.9 468.9 1890.8 475.9 C1893.7 482.8 1897.3 494.1 1894.4 497.6 C1891.5 501.1 1879.2 504.1 1872.9 497.6 C1866.6 491.1 1859.5 471.0 1855.0 457.1 C1850.4 443.2 1846.5 423.9 1844.2 410.7 C1841.9 397.5 1841.5 383.8 1840.6 374.5 C1839.7 365.3 1833.4 356.3 1838.8 352.8Z M1880.1 361.5 C1882.9 360.6 1892.2 363.6 1898.0 367.3 C1903.7 371.0 1912.5 380.0 1915.9 384.7 C1919.4 389.3 1918.9 387.0 1919.5 396.2 C1920.1 405.5 1921.5 437.9 1919.5 442.6 C1917.5 447.2 1911.0 432.6 1906.9 425.2 C1902.9 417.8 1898.7 404.6 1894.4 396.2 C1890.1 387.9 1882.3 378.6 1880.1 373.1 C1877.8 367.5 1877.2 362.4 1880.1 361.5Z M1883.6 418.0 C1885.1 412.9 1897.8 418.9 1901.6 425.2 C1905.3 431.5 1908.4 452.0 1906.9 457.1 C1905.5 462.2 1896.3 463.3 1892.6 457.1 C1888.9 450.8 1882.2 423.1 1883.6 418.0Z M1898.0 468.6 C1900.9 464.5 1916.1 466.9 1919.5 471.5 C1922.9 476.2 1922.4 493.4 1919.5 497.6 C1916.6 501.8 1905.0 502.2 1901.6 497.6 C1898.1 493.0 1895.1 472.8 1898.0 468.6Z M1740.2 439.7 C1742.5 431.6 1751.1 441.1 1754.5 446.9 C1758.0 452.7 1760.0 467.8 1761.7 475.9 C1763.4 484.0 1768.7 494.1 1765.3 497.6 C1761.9 501.1 1744.2 506.9 1740.2 497.6 C1736.2 488.3 1737.9 447.8 1740.2 439.7Z " fill="#8a4e2c"/>
<g clip-path="url(#jt03c7)"><rect x="1740.2" y="352.8" width="179.3" height="144.8" filter="url(#sp15)" opacity="0.9"/></g>
<g clip-path="url(#jt03c8)"><rect x="1740.2" y="352.8" width="179.3" height="144.8" filter="url(#sp16)" opacity="0.45"/></g>
</g>
<path d="M1776.1 389.0 C1775.2 379.7 1778.6 376.0 1781.4 381.8 C1784.3 387.6 1790.8 410.1 1794.0 425.2 C1797.1 440.3 1801.2 466.6 1801.2 475.9 C1801.2 485.1 1796.3 488.9 1794.0 483.1 C1791.7 477.3 1789.7 454.7 1786.8 439.7 C1783.9 424.6 1776.9 398.3 1776.1 389.0Z " fill="#cfd1db"/>
<g clip-path="url(#jt03c9)"><rect x="1740.2" y="352.8" width="179.3" height="144.8" filter="url(#sp17)" opacity="0.7"/></g>
</g>
<text x="1172.5" y="576.6" font-size="20.5" text-anchor="middle" transform="rotate(-90 1172.5 576.6)">PAXIP1-AS1</text>
<g clip-path="url(#jt10)">
<rect x="1185.4" y="501.4" width="179.3" height="145.2" fill="#e5e3e8"/>
<path d="M1185.4 501.4 C1200.0 478.2 1257.9 498.4 1276.8 501.4 C1295.8 504.4 1296.0 514.6 1303.7 520.3 C1311.5 526.0 1319.8 533.4 1325.3 537.0 C1330.7 540.6 1331.5 542.4 1337.8 542.8 C1344.1 543.1 1360.4 522.5 1364.7 539.2 C1369.0 555.8 1393.4 629.4 1364.7 646.6 C1336.0 663.8 1214.1 669.8 1185.4 646.6 C1156.7 623.4 1170.8 524.6 1185.4 501.4Z " fill="#b7b1d6"/>
<g clip-path="url(#jt10c10)"><rect x="1185.4" y="501.4" width="179.3" height="145.2" filter="url(#sp18)" opacity="0.6"/></g>
<g clip-path="url(#jt10c11)"><rect x="1185.4" y="501.4" width="179.3" height="145.2" filter="url(#sp19)" opacity="0.6"/></g>
<g clip-path="url(#jt10c12)"><rect x="1185.4" y="501.4" width="179.3" height="145.2" filter="url(#sp20)" opacity="0.5"/></g>
<path d="M1185.4 624.8 C1196.9 620.2 1239.9 617.6 1257.1 617.6 C1274.3 617.6 1275.8 626.0 1293.0 624.8 C1310.2 623.7 1353.2 606.8 1364.7 610.3 C1376.2 613.8 1393.4 640.8 1364.7 646.6 C1336.0 652.4 1214.1 650.1 1185.4 646.6 C1156.7 643.1 1173.9 629.5 1185.4 624.8Z " fill="#c9b9d8" opacity="0.6"/>
<ellipse cx="1201.5" cy="623.4" rx="6.3" ry="7.3" fill="none" stroke="#7a6fb0" stroke-width="0.9"/>
<ellipse cx="1214.1" cy="632.1" rx="5.4" ry="7.3" fill="none" stroke="#7a6fb0" stroke-width="0.9"/>
<ellipse cx="1230.2" cy="635.0" rx="5.4" ry="8.0" fill="none" stroke="#7a6fb0" stroke-width="0.9"/>
<ellipse cx="1244.6" cy="639.3" rx="5.4" ry="7.3" fill="none" stroke="#7a6fb0" stroke-width="0.9"/>
<ellipse cx="1196.2" cy="603.0" rx="5.4" ry="6.5" fill="none" stroke="#7a6fb0" stroke-width="0.9"/>
<ellipse cx="1210.5" cy="591.4" rx="4.5" ry="5.8" fill="none" stroke="#7a6fb0" stroke-width="0.9"/>
<ellipse cx="1221.3" cy="614.7" rx="5.0" ry="6.5" fill="none" stroke="#7a6fb0" stroke-width="0.9"/>
<ellipse cx="1194.4" cy="642.2" rx="5.4" ry="5.8" fill="none" stroke="#7a6fb0" stroke-width="0.9"/>
<ellipse cx="1260.7" cy="640.8" rx="5.4" ry="7.3" fill="none" stroke="#7a6fb0" stroke-width="0.9"/>
<ellipse cx="1278.6" cy="632.1" rx="4.5" ry="5.8" fill="none" stroke="#7a6fb0" stroke-width="0.9"/>
<ellipse cx="1293.0" cy="639.3" rx="5.4" ry="7.3" fill="none" stroke="#7a6fb0" stroke-width="0.9"/>
<ellipse cx="1314.5" cy="636.4" rx="5.4" ry="7.3" fill="none" stroke="#7a6fb0" stroke-width="0.9"/>
<ellipse cx="1332.4" cy="632.1" rx="5.4" ry="6.5" fill="none" stroke="#7a6fb0" stroke-width="0.9"/>
<ellipse cx="1350.4" cy="637.9" rx="5.4" ry="7.3" fill="none" stroke="#7a6fb0" stroke-width="0.9"/>
<ellipse cx="1343.2" cy="620.5" rx="4.5" ry="5.8" fill="none" stroke="#7a6fb0" stroke-width="0.9"/>
<ellipse cx="1355.7" cy="603.0" rx="4.5" ry="5.8" fill="none" stroke="#7a6fb0" stroke-width="0.9"/>
</g>
<line x1="1198.4" y1="512.4" x2="1215.4" y2="512.4" stroke="#e8e04a" stroke-width="2.6"/>
<g clip-path="url(#jt11)">
<rect x="1370.3" y="501.4" width="179.4" height="145.2" fill="#c4c2e0"/>
<rect x="1370.3" y="501.4" width="179.4" height="145.2" filter="url(#sp21)" opacity="0.7"/>
<rect x="1370.3" y="501.4" width="179.4" height="145.2" filter="url(#sp22)" opacity="0.45"/>
<rect x="1370.3" y="501.4" width="179.4" height="145.2" filter="url(#sp23)" opacity="0.6"/>
<rect x="1370.3" y="501.4" width="179.4" height="145.2" filter="url(#sp24)" opacity="0.4"/>
<ellipse cx="1382.9" cy="605.9" rx="12.6" ry="17.4" fill="none" stroke="#6a62b8" stroke-width="2.2"/>
<ellipse cx="1418.7" cy="623.4" rx="17.9" ry="21.8" fill="none" stroke="#6a62b8" stroke-width="2.2" transform="rotate(-15 1418.7 623.4)"/>
<ellipse cx="1456.4" cy="617.6" rx="14.4" ry="18.9" fill="none" stroke="#6a62b8" stroke-width="2.2"/>
<ellipse cx="1429.5" cy="588.5" rx="9.0" ry="14.5" fill="none" stroke="#6a62b8" stroke-width="2.2" transform="rotate(-20 1429.5 588.5)"/>
</g>
<g clip-path="url(#jt12)">
<rect x="1555.2" y="501.4" width="179.3" height="145.2" fill="#e6e4e9"/>
<g filter="url(#rag80)">
<path d="M1564.2 571.1 C1566.2 565.5 1563.4 559.8 1567.8 556.6 C1572.1 553.3 1585.0 549.8 1591.1 550.8 C1597.1 551.7 1602.8 554.9 1605.4 562.4 C1608.0 569.8 1602.9 591.0 1607.2 597.2 C1611.5 603.5 1622.8 597.9 1632.3 601.6 C1641.8 605.3 1656.9 615.1 1666.4 620.5 C1675.8 625.8 1686.9 630.8 1691.5 635.0 C1696.1 639.2 1716.9 644.7 1695.1 646.6 C1673.3 648.5 1577.6 655.4 1555.2 646.6 C1532.8 637.8 1553.8 603.5 1555.2 591.4 C1556.6 579.3 1562.2 576.7 1564.2 571.1Z M1693.3 518.8 C1694.1 515.3 1699.1 517.8 1702.2 523.2 C1705.4 528.5 1710.1 542.9 1713.0 552.2 C1715.9 561.5 1717.6 573.1 1720.2 581.3 C1722.7 589.4 1728.0 597.7 1729.1 603.0 C1730.3 608.4 1729.3 614.7 1727.3 614.7 C1725.3 614.7 1720.3 609.5 1716.6 603.0 C1712.8 596.5 1707.2 583.3 1704.0 574.0 C1700.9 564.7 1698.6 553.8 1696.8 545.0 C1695.1 536.1 1692.4 522.3 1693.3 518.8Z M1713.0 515.9 C1715.3 514.1 1723.0 514.2 1725.5 518.8 C1728.1 523.5 1727.7 536.1 1729.1 545.0 C1730.6 553.8 1733.6 563.5 1734.5 574.0 C1735.4 584.5 1735.9 609.1 1734.5 610.3 C1733.1 611.5 1728.4 590.6 1725.5 581.3 C1722.7 572.0 1718.9 560.4 1716.6 552.2 C1714.3 544.1 1711.8 536.2 1711.2 530.4 C1710.6 524.6 1710.7 517.8 1713.0 515.9Z M1618.0 524.6 C1619.7 523.2 1628.5 524.5 1630.5 526.1 C1632.5 527.7 1632.2 533.4 1630.5 534.8 C1628.8 536.2 1621.8 536.4 1619.7 534.8 C1617.7 533.2 1616.2 526.0 1618.0 524.6Z M1727.3 620.5 C1728.2 616.3 1733.4 616.3 1734.5 620.5 C1735.6 624.6 1735.4 642.4 1734.5 646.6 C1733.6 650.8 1730.3 650.8 1729.1 646.6 C1728.0 642.4 1726.5 624.6 1727.3 620.5Z " fill="#dbb8d8"/>
<g clip-path="url(#jt12c13)"><rect x="1555.2" y="501.4" width="179.3" height="145.2" filter="url(#sp26)" opacity="0.5"/></g>
<g clip-path="url(#jt12c14)"><rect x="1555.2" y="501.4" width="179.3" height="145.2" filter="url(#sp27)" opacity="0.5"/></g>
</g>
<path d="M1555.2 605.9 C1556.6 603.2 1567.4 597.1 1573.1 600.1 C1578.9 603.2 1586.8 617.4 1591.1 624.8 C1595.4 632.3 1600.6 643.1 1600.0 646.6 C1599.5 650.1 1593.2 651.2 1587.5 646.6 C1581.7 642.0 1569.3 624.1 1564.2 617.6 C1559.0 611.1 1553.8 608.7 1555.2 605.9Z " fill="#e6e4e9" opacity="0.7"/>
</g>
<line x1="1568.2" y1="512.4" x2="1585.2" y2="512.4" stroke="#e8e04a" stroke-width="2.6"/>
<g clip-path="url(#jt13)">
<rect x="1740.2" y="501.4" width="179.3" height="145.2" fill="#e0dfe6"/>
<g filter="url(#rag82)">
<path d="M1748.3 501.4 C1752.9 496.8 1769.3 498.6 1776.1 501.4 C1782.8 504.2 1786.7 511.9 1790.4 518.8 C1794.1 525.8 1797.4 536.1 1799.4 545.0 C1801.4 553.8 1801.5 564.7 1803.0 574.0 C1804.4 583.3 1806.3 591.4 1808.3 603.0 C1810.3 614.7 1822.4 639.6 1815.5 646.6 C1808.6 653.6 1774.5 652.4 1765.3 646.6 C1756.1 640.8 1760.1 621.9 1758.1 610.3 C1756.1 598.7 1754.5 586.8 1752.8 574.0 C1751.0 561.2 1748.1 542.1 1747.4 530.4 C1746.7 518.8 1743.7 506.0 1748.3 501.4Z M1824.5 501.4 C1833.7 494.4 1874.2 496.8 1883.6 501.4 C1893.1 506.0 1885.1 522.3 1883.6 530.4 C1882.2 538.6 1874.1 546.4 1874.7 552.2 C1875.2 558.0 1884.4 559.8 1887.2 566.7 C1890.1 573.7 1890.9 584.2 1892.6 595.8 C1894.3 607.4 1898.0 631.2 1898.0 639.3 C1898.0 647.5 1900.6 645.4 1892.6 646.6 C1884.6 647.8 1856.4 652.4 1847.8 646.6 C1839.2 640.8 1841.7 621.9 1838.8 610.3 C1835.9 598.7 1831.9 584.5 1829.8 574.0 C1827.8 563.5 1827.1 556.6 1826.3 545.0 C1825.4 533.3 1815.3 508.4 1824.5 501.4Z " fill="#d8b0d6"/>
<g clip-path="url(#jt13c15)"><rect x="1740.2" y="501.4" width="179.3" height="145.2" filter="url(#sp29)" opacity="0.55"/></g>
<g clip-path="url(#jt13c16)"><rect x="1740.2" y="501.4" width="179.3" height="145.2" filter="url(#sp30)" opacity="0.55"/></g>
</g>
<path d="M1844.2 501.4 C1847.1 498.1 1865.9 498.6 1869.3 501.4 C1872.7 504.2 1868.6 515.6 1865.7 518.8 C1862.8 522.1 1854.8 524.5 1851.4 521.7 C1847.9 518.9 1841.3 504.7 1844.2 501.4Z " fill="#8d8fd0" opacity="0.7"/>
<path d="M1776.1 626.3 C1777.2 624.9 1782.4 627.1 1783.2 629.2 C1784.1 631.3 1782.6 637.9 1781.4 639.3 C1780.3 640.7 1776.9 640.0 1776.1 637.9 C1775.2 635.8 1774.9 627.7 1776.1 626.3Z " fill="#6a6ac0" opacity="0.8"/>
</g>
<text x="1172.5" y="727.0" font-size="20.5" text-anchor="middle" transform="rotate(-90 1172.5 727.0)">PABPC1</text>
<g clip-path="url(#jt20)">
<rect x="1185.4" y="649.4" width="179.3" height="144.6" fill="#e7e4ea"/>
<path d="M1185.4 649.4 C1199.7 626.3 1257.8 647.1 1275.1 649.4 C1292.3 651.7 1285.8 657.6 1293.0 663.9 C1300.2 670.1 1311.8 683.6 1319.9 688.4 C1327.9 693.3 1336.0 693.5 1343.2 694.2 C1350.4 694.9 1361.3 676.8 1364.7 692.8 C1368.1 708.7 1393.4 777.8 1364.7 794.0 C1336.0 810.2 1214.1 817.1 1185.4 794.0 C1156.7 770.9 1171.1 672.5 1185.4 649.4Z " fill="#dad5e3"/>
<g clip-path="url(#jt20c17)"><rect x="1185.4" y="649.4" width="179.3" height="144.6" filter="url(#sp31)" opacity="0.6"/></g>
<g clip-path="url(#jt20c18)"><rect x="1185.4" y="649.4" width="179.3" height="144.6" filter="url(#sp32)" opacity="0.55"/></g>
<g clip-path="url(#jt20c19)"><rect x="1185.4" y="649.4" width="179.3" height="144.6" filter="url(#sp33)" opacity="0.4"/></g>
<rect x="1185.4" y="649.4" width="179.3" height="144.6" filter="url(#sp34)" opacity="0.25"/>
<ellipse cx="1201.5" cy="770.9" rx="6.3" ry="7.2" fill="none" stroke="#7a7aa6" stroke-width="0.8"/>
<ellipse cx="1214.1" cy="779.5" rx="5.4" ry="7.2" fill="none" stroke="#7a7aa6" stroke-width="0.8"/>
<ellipse cx="1230.2" cy="782.4" rx="5.4" ry="8.0" fill="none" stroke="#7a7aa6" stroke-width="0.8"/>
<ellipse cx="1244.6" cy="786.8" rx="5.4" ry="7.2" fill="none" stroke="#7a7aa6" stroke-width="0.8"/>
<ellipse cx="1196.2" cy="750.6" rx="5.4" ry="6.5" fill="none" stroke="#7a7aa6" stroke-width="0.8"/>
<ellipse cx="1210.5" cy="739.1" rx="4.5" ry="5.8" fill="none" stroke="#7a7aa6" stroke-width="0.8"/>
<ellipse cx="1221.3" cy="762.2" rx="5.0" ry="6.5" fill="none" stroke="#7a7aa6" stroke-width="0.8"/>
<ellipse cx="1194.4" cy="789.7" rx="5.4" ry="5.8" fill="none" stroke="#7a7aa6" stroke-width="0.8"/>
<ellipse cx="1260.7" cy="788.2" rx="5.4" ry="7.2" fill="none" stroke="#7a7aa6" stroke-width="0.8"/>
<ellipse cx="1278.6" cy="779.5" rx="4.5" ry="5.8" fill="none" stroke="#7a7aa6" stroke-width="0.8"/>
<ellipse cx="1293.0" cy="786.8" rx="5.4" ry="7.2" fill="none" stroke="#7a7aa6" stroke-width="0.8"/>
<ellipse cx="1314.5" cy="783.9" rx="5.4" ry="7.2" fill="none" stroke="#7a7aa6" stroke-width="0.8"/>
<ellipse cx="1332.4" cy="779.5" rx="5.4" ry="6.5" fill="none" stroke="#7a7aa6" stroke-width="0.8"/>
<ellipse cx="1350.4" cy="785.3" rx="5.4" ry="7.2" fill="none" stroke="#7a7aa6" stroke-width="0.8"/>
<ellipse cx="1343.2" cy="768.0" rx="4.5" ry="5.8" fill="none" stroke="#7a7aa6" stroke-width="0.8"/>
<ellipse cx="1355.7" cy="750.6" rx="4.5" ry="5.8" fill="none" stroke="#7a7aa6" stroke-width="0.8"/>
</g>
<line x1="1198.4" y1="660.4" x2="1215.4" y2="660.4" stroke="#e8e04a" stroke-width="2.6"/>
<g clip-path="url(#jt21)">
<rect x="1370.3" y="649.4" width="179.4" height="144.6" fill="#dcd6e2"/>
<rect x="1370.3" y="649.4" width="179.4" height="144.6" filter="url(#sp35)" opacity="0.5"/>
<rect x="1370.3" y="649.4" width="179.4" height="144.6" filter="url(#sp36)" opacity="0.9"/>
<rect x="1370.3" y="649.4" width="179.4" height="144.6" filter="url(#sp37)" opacity="0.9"/>
<rect x="1370.3" y="649.4" width="179.4" height="144.6" filter="url(#sp38)" opacity="0.4"/>
<g filter="url(#rag93)">
<ellipse cx="1383.4" cy="736.2" rx="9.9" ry="15.9" fill="none" stroke="#4a5a98" stroke-width="2.4"/>
<ellipse cx="1409.8" cy="750.6" rx="14.4" ry="18.8" fill="none" stroke="#4a5a98" stroke-width="2.4"/>
<ellipse cx="1440.3" cy="750.6" rx="13.5" ry="21.7" fill="none" stroke="#4a5a98" stroke-width="2.4" transform="rotate(-20 1440.3 750.6)"/>
<ellipse cx="1449.2" cy="782.4" rx="12.6" ry="13.0" fill="none" stroke="#4a5a98" stroke-width="2.4"/>
<ellipse cx="1483.3" cy="753.5" rx="9.9" ry="17.4" fill="none" stroke="#4a5a98" stroke-width="2.4"/>
<ellipse cx="1497.7" cy="785.3" rx="16.1" ry="13.0" fill="none" stroke="#4a5a98" stroke-width="2.4"/>
<ellipse cx="1391.8" cy="718.8" rx="9.0" ry="7.2" fill="none" stroke="#4a5a98" stroke-width="2.4"/>
<ellipse cx="1416.9" cy="718.8" rx="10.8" ry="13.0" fill="none" stroke="#4a5a98" stroke-width="2.4"/>
<ellipse cx="1384.7" cy="789.7" rx="16.1" ry="8.7" fill="none" stroke="#4a5a98" stroke-width="2.4"/>
</g>
</g>
<g clip-path="url(#jt22)">
<rect x="1555.2" y="649.4" width="179.3" height="144.6" fill="#e9e8e8"/>
<g filter="url(#rag62)">
<path d="M1666.4 700.0 C1668.4 691.9 1682.2 701.5 1689.7 707.2 C1697.1 713.0 1707.2 726.9 1713.0 736.2 C1718.7 745.4 1722.1 755.8 1725.5 765.1 C1729.0 774.3 1741.1 789.4 1734.5 794.0 C1727.9 798.6 1693.5 799.8 1684.3 794.0 C1675.1 788.2 1680.0 772.9 1677.1 757.9 C1674.3 742.8 1664.4 708.1 1666.4 700.0Z " fill="#c3c5d8"/>
<g clip-path="url(#jt22c20)"><rect x="1555.2" y="649.4" width="179.3" height="144.6" filter="url(#sp41)" opacity="0.6"/></g>
<path d="M1567.8 700.0 C1568.6 694.7 1576.9 684.7 1582.1 681.2 C1587.3 677.7 1596.3 676.5 1600.0 678.3 C1603.8 680.2 1604.8 687.0 1605.4 692.8 C1606.0 698.6 1605.9 709.8 1603.6 714.5 C1601.3 719.1 1595.4 721.7 1591.1 721.7 C1586.8 721.7 1580.4 717.9 1576.7 714.5 C1573.0 711.0 1566.9 705.3 1567.8 700.0Z M1555.2 724.6 C1556.1 721.4 1561.3 718.1 1564.2 718.8 C1567.0 719.5 1570.0 723.8 1573.1 728.9 C1576.3 734.0 1580.4 742.5 1583.9 750.6 C1587.3 758.7 1592.4 772.6 1594.6 779.5 C1596.9 786.5 1600.2 791.7 1598.2 794.0 C1596.2 796.3 1586.7 799.8 1582.1 794.0 C1577.5 788.2 1573.3 766.6 1569.5 757.9 C1565.8 749.1 1561.1 744.4 1558.8 739.1 C1556.5 733.7 1554.3 727.8 1555.2 724.6Z M1609.0 666.8 C1608.4 658.7 1616.3 659.7 1619.7 663.9 C1623.2 668.0 1626.5 682.4 1630.5 692.8 C1634.5 703.2 1640.3 717.4 1644.8 728.9 C1649.4 740.5 1655.8 754.7 1659.2 765.1 C1662.6 775.5 1667.2 789.4 1666.4 794.0 C1665.5 798.6 1658.4 800.9 1653.8 794.0 C1649.2 787.1 1642.6 763.3 1637.7 750.6 C1632.8 737.9 1627.9 727.9 1623.3 714.5 C1618.7 701.1 1609.6 674.8 1609.0 666.8Z M1626.9 661.0 C1625.8 651.9 1634.2 654.1 1637.7 658.1 C1641.1 662.0 1645.0 676.5 1648.4 685.5 C1651.9 694.6 1655.2 703.6 1659.2 714.5 C1663.2 725.3 1670.1 743.1 1673.5 753.5 C1677.0 763.9 1681.0 774.9 1680.7 779.5 C1680.4 784.2 1675.2 787.1 1671.7 782.4 C1668.3 777.8 1663.5 761.5 1659.2 750.6 C1654.9 739.7 1650.0 728.8 1644.8 714.5 C1639.7 700.1 1628.1 670.0 1626.9 661.0Z M1598.2 718.8 C1599.7 713.5 1605.5 718.3 1609.0 724.6 C1612.4 730.8 1616.3 746.7 1619.7 757.9 C1623.2 769.0 1632.2 788.2 1630.5 794.0 C1628.8 799.8 1613.9 799.8 1609.0 794.0 C1604.1 788.2 1601.7 769.9 1600.0 757.9 C1598.3 745.8 1596.8 724.1 1598.2 718.8Z M1612.6 728.9 C1614.0 724.3 1623.2 723.1 1626.9 728.9 C1630.6 734.7 1633.6 754.7 1635.9 765.1 C1638.2 775.5 1642.1 789.4 1641.3 794.0 C1640.4 798.6 1634.2 799.8 1630.5 794.0 C1626.8 788.2 1620.8 768.3 1618.0 757.9 C1615.1 747.4 1611.1 733.6 1612.6 728.9Z M1609.0 649.4 C1618.2 648.0 1672.8 647.5 1684.3 649.4 C1695.8 651.3 1685.6 658.7 1680.7 661.0 C1675.8 663.3 1662.4 664.3 1653.8 663.9 C1645.2 663.4 1634.1 660.4 1626.9 658.1 C1619.7 655.8 1599.8 650.8 1609.0 649.4Z M1653.8 671.1 C1655.0 667.4 1663.8 666.6 1666.4 669.6 C1668.9 672.7 1671.1 686.2 1670.0 689.9 C1668.8 693.6 1661.8 695.8 1659.2 692.8 C1656.6 689.8 1652.7 674.8 1653.8 671.1Z M1673.5 704.3 C1674.7 701.1 1681.4 698.7 1684.3 701.5 C1687.2 704.2 1689.7 715.7 1691.5 721.7 C1693.2 727.7 1696.2 736.3 1695.1 739.1 C1693.9 741.8 1687.2 741.8 1684.3 739.1 C1681.4 736.3 1678.8 727.3 1677.1 721.7 C1675.4 716.1 1672.4 707.6 1673.5 704.3Z " fill="#665c78"/>
<g clip-path="url(#jt22c21)"><rect x="1555.2" y="649.4" width="179.3" height="144.6" filter="url(#sp42)" opacity="0.6"/></g>
<g clip-path="url(#jt22c22)"><rect x="1555.2" y="649.4" width="179.3" height="144.6" filter="url(#sp43)" opacity="0.6"/></g>
<path d="M1702.2 671.1 C1702.8 668.8 1707.7 665.6 1709.4 666.8 C1711.1 667.9 1713.6 676.0 1713.0 678.3 C1712.4 680.6 1707.5 682.4 1705.8 681.2 C1704.1 680.1 1701.7 673.4 1702.2 671.1Z M1709.4 692.8 C1710.3 690.7 1715.1 688.5 1716.6 689.9 C1718.0 691.3 1719.2 699.4 1718.4 701.5 C1717.5 703.5 1712.6 704.3 1711.2 702.9 C1709.8 701.5 1708.5 694.9 1709.4 692.8Z M1713.0 653.7 C1713.6 652.3 1719.6 653.6 1720.2 655.2 C1720.7 656.8 1717.7 664.1 1716.6 663.9 C1715.4 663.6 1712.4 655.1 1713.0 653.7Z M1684.3 762.2 C1685.4 759.9 1692.8 757.9 1695.1 759.3 C1697.3 760.7 1699.8 768.6 1698.6 770.9 C1697.5 773.2 1690.2 775.1 1687.9 773.8 C1685.6 772.4 1683.1 764.5 1684.3 762.2Z " fill="#3d2a28"/>
</g>
</g>
<line x1="1568.2" y1="660.4" x2="1585.2" y2="660.4" stroke="#e8e04a" stroke-width="2.6"/>
<g clip-path="url(#jt23)">
<rect x="1740.2" y="649.4" width="179.3" height="144.6" fill="#e3e1e0"/>
<rect x="1740.2" y="649.4" width="179.3" height="144.6" filter="url(#sp44)" opacity="0.4"/>
<g filter="url(#rag76)">
<path d="M1745.6 649.4 C1750.7 644.8 1769.2 644.8 1776.1 649.4 C1782.9 654.0 1784.3 669.1 1788.6 678.3 C1792.9 687.6 1798.4 695.7 1803.0 707.2 C1807.5 718.8 1813.0 736.7 1817.3 750.6 C1821.6 764.5 1835.9 787.1 1829.8 794.0 C1823.8 800.9 1790.0 800.9 1779.6 794.0 C1769.3 787.1 1769.9 764.5 1765.3 750.6 C1760.7 736.7 1754.4 718.8 1751.0 707.2 C1747.5 695.7 1744.6 687.6 1743.8 678.3 C1742.9 669.1 1740.4 654.0 1745.6 649.4Z M1803.0 649.4 C1805.8 644.8 1820.2 644.8 1824.5 649.4 C1828.8 654.0 1827.6 667.9 1829.8 678.3 C1832.1 688.7 1835.9 702.9 1838.8 714.5 C1841.7 726.0 1844.1 739.1 1847.8 750.6 C1851.5 762.2 1859.3 779.8 1862.1 786.8 C1865.0 793.7 1869.4 792.8 1865.7 794.0 C1862.0 795.2 1845.4 799.8 1838.8 794.0 C1832.2 788.2 1828.2 770.6 1824.5 757.9 C1820.7 745.1 1818.4 727.2 1815.5 714.5 C1812.6 701.7 1808.5 688.7 1806.5 678.3 C1804.5 667.9 1800.1 654.0 1803.0 649.4Z M1833.4 649.4 C1837.2 642.5 1859.3 644.3 1862.1 649.4 C1865.0 654.5 1850.8 677.7 1851.4 681.2 C1851.9 684.7 1861.7 672.9 1865.7 671.1 C1869.7 669.2 1874.5 663.9 1876.5 669.6 C1878.5 675.4 1876.5 697.8 1878.3 707.2 C1880.0 716.7 1886.4 721.5 1887.2 728.9 C1888.1 736.3 1885.4 745.4 1883.6 753.5 C1881.9 761.6 1878.5 773.1 1876.5 779.5 C1874.5 786.0 1873.4 796.3 1871.1 794.0 C1868.8 791.7 1865.9 774.3 1862.1 765.1 C1858.4 755.8 1851.5 747.7 1847.8 736.2 C1844.1 724.6 1841.1 706.7 1838.8 692.8 C1836.5 678.9 1829.7 656.3 1833.4 649.4Z M1894.4 714.5 C1895.8 708.0 1906.5 709.0 1910.5 710.1 C1914.6 711.3 1918.1 714.8 1919.5 721.7 C1920.9 728.6 1922.4 748.9 1919.5 753.5 C1916.6 758.1 1905.6 756.9 1901.6 750.6 C1897.6 744.4 1893.0 720.9 1894.4 714.5Z M1901.6 649.4 C1903.6 644.8 1916.6 642.5 1919.5 649.4 C1922.4 656.3 1921.5 688.2 1919.5 692.8 C1917.5 697.4 1909.8 685.3 1906.9 678.3 C1904.1 671.4 1899.6 654.0 1901.6 649.4Z M1740.2 736.2 C1742.5 727.8 1750.8 736.9 1754.5 741.9 C1758.3 747.0 1762.4 759.6 1763.5 768.0 C1764.7 776.3 1765.4 789.8 1761.7 794.0 C1758.0 798.2 1743.6 803.3 1740.2 794.0 C1736.8 784.7 1737.9 744.5 1740.2 736.2Z " fill="#a86a3a"/>
<g clip-path="url(#jt23c23)"><rect x="1740.2" y="649.4" width="179.3" height="144.6" filter="url(#sp46)" opacity="0.9"/></g>
<g clip-path="url(#jt23c24)"><rect x="1740.2" y="649.4" width="179.3" height="144.6" filter="url(#sp47)" opacity="0.55"/></g>
<g clip-path="url(#jt23c25)"><rect x="1740.2" y="649.4" width="179.3" height="144.6" filter="url(#sp48)" opacity="0.6"/></g>
</g>
<path d="M1768.9 692.8 C1768.3 685.4 1772.6 685.3 1776.1 689.9 C1779.5 694.5 1786.1 708.5 1790.4 721.7 C1794.7 734.9 1802.4 763.5 1803.0 772.3 C1803.5 781.1 1797.7 782.4 1794.0 776.6 C1790.3 770.9 1783.7 749.6 1779.6 736.2 C1775.6 722.7 1769.5 700.2 1768.9 692.8Z " fill="#c7cbdc"/>
</g>
<text x="1172.5" y="872.3" font-size="20.5" text-anchor="middle" transform="rotate(-90 1172.5 872.3)">PAK1</text>
<g clip-path="url(#jt30)">
<rect x="1185.4" y="798.4" width="179.3" height="145.1" fill="#e7e4ea"/>
<path d="M1185.4 798.4 C1199.2 775.2 1253.7 795.6 1271.5 798.4 C1289.3 801.2 1288.0 808.8 1296.6 815.8 C1305.2 822.8 1317.2 837.8 1325.3 841.9 C1333.3 846.1 1340.5 843.1 1346.8 841.9 C1353.1 840.8 1361.8 818.4 1364.7 834.7 C1367.6 850.9 1393.4 926.1 1364.7 943.5 C1336.0 960.9 1214.1 966.7 1185.4 943.5 C1156.7 920.3 1171.6 821.6 1185.4 798.4Z " fill="#dbd6e3"/>
<g clip-path="url(#jt30c26)"><rect x="1185.4" y="798.4" width="179.3" height="145.1" filter="url(#sp49)" opacity="0.6"/></g>
<g clip-path="url(#jt30c27)"><rect x="1185.4" y="798.4" width="179.3" height="145.1" filter="url(#sp50)" opacity="0.55"/></g>
<g clip-path="url(#jt30c28)"><rect x="1185.4" y="798.4" width="179.3" height="145.1" filter="url(#sp51)" opacity="0.4"/></g>
<rect x="1185.4" y="798.4" width="179.3" height="145.1" filter="url(#sp52)" opacity="0.25"/>
<ellipse cx="1201.5" cy="920.3" rx="6.3" ry="7.3" fill="none" stroke="#7a7aa6" stroke-width="0.8"/>
<ellipse cx="1214.1" cy="929.0" rx="5.4" ry="7.3" fill="none" stroke="#7a7aa6" stroke-width="0.8"/>
<ellipse cx="1230.2" cy="931.9" rx="5.4" ry="8.0" fill="none" stroke="#7a7aa6" stroke-width="0.8"/>
<ellipse cx="1244.6" cy="936.2" rx="5.4" ry="7.3" fill="none" stroke="#7a7aa6" stroke-width="0.8"/>
<ellipse cx="1196.2" cy="900.0" rx="5.4" ry="6.5" fill="none" stroke="#7a7aa6" stroke-width="0.8"/>
<ellipse cx="1210.5" cy="888.4" rx="4.5" ry="5.8" fill="none" stroke="#7a7aa6" stroke-width="0.8"/>
<ellipse cx="1221.3" cy="911.6" rx="5.0" ry="6.5" fill="none" stroke="#7a7aa6" stroke-width="0.8"/>
<ellipse cx="1194.4" cy="939.1" rx="5.4" ry="5.8" fill="none" stroke="#7a7aa6" stroke-width="0.8"/>
<ellipse cx="1260.7" cy="937.7" rx="5.4" ry="7.3" fill="none" stroke="#7a7aa6" stroke-width="0.8"/>
<ellipse cx="1278.6" cy="929.0" rx="4.5" ry="5.8" fill="none" stroke="#7a7aa6" stroke-width="0.8"/>
<ellipse cx="1293.0" cy="936.2" rx="5.4" ry="7.3" fill="none" stroke="#7a7aa6" stroke-width="0.8"/>
<ellipse cx="1314.5" cy="933.3" rx="5.4" ry="7.3" fill="none" stroke="#7a7aa6" stroke-width="0.8"/>
<ellipse cx="1332.4" cy="929.0" rx="5.4" ry="6.5" fill="none" stroke="#7a7aa6" stroke-width="0.8"/>
<ellipse cx="1350.4" cy="934.8" rx="5.4" ry="7.3" fill="none" stroke="#7a7aa6" stroke-width="0.8"/>
<ellipse cx="1343.2" cy="917.4" rx="4.5" ry="5.8" fill="none" stroke="#7a7aa6" stroke-width="0.8"/>
<ellipse cx="1355.7" cy="900.0" rx="4.5" ry="5.8" fill="none" stroke="#7a7aa6" stroke-width="0.8"/>
</g>
<line x1="1198.4" y1="809.4" x2="1215.4" y2="809.4" stroke="#e8e04a" stroke-width="2.6"/>
<g clip-path="url(#jt31)">
<rect x="1370.3" y="798.4" width="179.4" height="145.1" fill="#e2dadf"/>
<rect x="1370.3" y="798.4" width="179.4" height="145.1" filter="url(#sp53)" opacity="0.5"/>
<rect x="1370.3" y="798.4" width="179.4" height="145.1" filter="url(#sp54)" opacity="0.9"/>
<rect x="1370.3" y="798.4" width="179.4" height="145.1" filter="url(#sp55)" opacity="0.9"/>
<rect x="1370.3" y="798.4" width="179.4" height="145.1" filter="url(#sp56)" opacity="0.35"/>
<g filter="url(#rag95)">
<ellipse cx="1388.2" cy="889.8" rx="14.4" ry="18.9" fill="none" stroke="#44579e" stroke-width="2.4"/>
<ellipse cx="1427.7" cy="914.5" rx="17.0" ry="21.8" fill="none" stroke="#44579e" stroke-width="2.4"/>
<ellipse cx="1469.0" cy="914.5" rx="13.5" ry="17.4" fill="none" stroke="#44579e" stroke-width="2.4"/>
<ellipse cx="1499.5" cy="923.2" rx="11.7" ry="18.9" fill="none" stroke="#44579e" stroke-width="2.4"/>
<ellipse cx="1474.4" cy="942.0" rx="12.6" ry="7.3" fill="none" stroke="#44579e" stroke-width="2.4"/>
<ellipse cx="1379.3" cy="942.0" rx="12.6" ry="7.3" fill="none" stroke="#44579e" stroke-width="2.4"/>
<ellipse cx="1540.7" cy="914.5" rx="7.2" ry="14.5" fill="none" stroke="#44579e" stroke-width="2.4"/>
</g>
</g>
<g clip-path="url(#jt32)">
<rect x="1555.2" y="798.4" width="179.3" height="145.1" fill="#e9e7e9"/>
<g filter="url(#rag63)">
<path d="M1673.5 863.7 C1678.1 857.9 1691.8 874.3 1698.6 878.2 C1705.5 882.2 1710.8 884.9 1716.6 888.4 C1722.3 891.8 1731.6 891.1 1734.5 900.0 C1737.4 908.8 1744.3 936.5 1734.5 943.5 C1724.7 950.5 1683.9 948.1 1673.5 943.5 C1663.2 938.9 1670.0 927.2 1670.0 914.5 C1670.0 901.7 1668.9 869.5 1673.5 863.7Z " fill="#c9aca2"/>
<g clip-path="url(#jt32c29)"><rect x="1555.2" y="798.4" width="179.3" height="145.1" filter="url(#sp59)" opacity="0.7"/></g>
<path d="M1558.8 863.7 C1558.8 859.1 1561.9 859.9 1564.2 856.4 C1566.5 853.0 1571.7 845.4 1573.1 841.9 C1574.6 838.4 1570.3 838.9 1573.1 834.7 C1576.0 830.5 1585.3 819.3 1591.1 815.8 C1596.8 812.3 1605.3 814.5 1609.0 812.9 C1612.7 811.3 1611.5 808.0 1614.4 805.7 C1617.2 803.3 1617.7 799.6 1626.9 798.4 C1636.1 797.2 1662.6 797.2 1671.7 798.4 C1680.9 799.6 1680.9 802.9 1684.3 805.7 C1687.7 808.4 1693.3 812.3 1693.3 815.8 C1693.3 819.3 1684.6 823.2 1684.3 827.4 C1684.0 831.6 1692.0 836.8 1691.5 841.9 C1690.9 847.0 1683.6 854.7 1680.7 859.3 C1677.8 864.0 1673.5 866.8 1673.5 871.0 C1673.5 875.1 1680.7 880.4 1680.7 885.5 C1680.7 890.6 1675.8 898.2 1673.5 902.9 C1671.2 907.5 1668.1 909.8 1666.4 914.5 C1664.6 919.1 1662.8 927.2 1662.8 931.9 C1662.8 936.5 1675.5 941.6 1666.4 943.5 C1657.2 945.4 1617.5 947.0 1605.4 943.5 C1593.4 940.0 1596.2 928.7 1591.1 921.7 C1585.9 914.8 1577.4 905.8 1573.1 900.0 C1568.8 894.2 1566.5 891.3 1564.2 885.5 C1561.9 879.7 1558.8 868.3 1558.8 863.7Z " fill="#82513c"/>
<g clip-path="url(#jt32c30)"><rect x="1555.2" y="798.4" width="179.3" height="145.1" filter="url(#sp60)" opacity="0.75"/></g>
<g clip-path="url(#jt32c31)"><rect x="1555.2" y="798.4" width="179.3" height="145.1" filter="url(#sp61)" opacity="0.6"/></g>
<path d="M1609.0 859.3 L1623.3 900.0 L1634.1 931.9 M1619.7 856.4 L1637.7 892.7 L1652.0 931.9 M1614.4 820.2 L1626.9 853.5 M1630.5 815.8 L1639.5 841.9 M1573.1 859.3 L1583.9 885.5 L1596.4 921.7 M1603.6 866.6 L1610.8 900.0 L1619.7 936.2 M1644.8 812.9 L1648.4 841.9 M1639.5 863.7 L1644.8 900.0 L1653.8 921.7 " fill="none" stroke="#ece4e2" stroke-width="1.5" stroke-linecap="round" stroke-linejoin="round" opacity="0.85"/>
<path d="M1659.2 917.4 C1660.3 914.6 1667.7 912.6 1670.0 914.5 C1672.2 916.3 1674.7 926.2 1673.5 929.0 C1672.4 931.8 1665.1 933.7 1662.8 931.9 C1660.5 930.0 1658.0 920.2 1659.2 917.4Z M1573.1 849.2 C1574.0 843.4 1579.2 838.4 1582.1 841.9 C1585.0 845.4 1591.9 865.1 1591.1 871.0 C1590.2 876.8 1579.6 881.7 1576.7 878.2 C1573.8 874.7 1572.3 855.0 1573.1 849.2Z " fill="#e8e4e4"/>
<path d="M1705.8 841.9 C1708.7 839.6 1723.3 841.3 1727.3 844.8 C1731.3 848.3 1733.8 861.4 1730.9 863.7 C1728.0 866.0 1713.4 862.8 1709.4 859.3 C1705.4 855.9 1702.9 844.3 1705.8 841.9Z M1555.2 926.1 C1558.1 923.8 1569.7 926.2 1573.1 929.0 C1576.6 931.8 1579.6 941.2 1576.7 943.5 C1573.8 945.8 1558.6 946.3 1555.2 943.5 C1551.8 940.7 1552.3 928.4 1555.2 926.1Z M1684.3 878.2 C1685.4 875.9 1695.2 881.5 1698.6 885.5 C1702.1 889.4 1707.0 900.6 1705.8 902.9 C1704.7 905.2 1694.9 903.9 1691.5 900.0 C1688.0 896.0 1683.1 880.5 1684.3 878.2Z " fill="#7a4a38"/>
</g>
</g>
<line x1="1568.2" y1="809.4" x2="1585.2" y2="809.4" stroke="#e8e04a" stroke-width="2.6"/>
<g clip-path="url(#jt33)">
<rect x="1740.2" y="798.4" width="179.3" height="145.1" fill="#d8dae5"/>
<rect x="1740.2" y="798.4" width="179.3" height="145.1" filter="url(#sp62)" opacity="0.5"/>
<g filter="url(#rag74)">
<path d="M1743.8 798.4 C1749.2 793.8 1771.6 795.6 1779.6 798.4 C1787.7 801.2 1789.4 807.7 1794.0 815.8 C1798.6 823.9 1804.0 838.0 1808.3 849.2 C1812.6 860.3 1816.9 873.9 1820.9 885.5 C1824.9 897.1 1830.6 912.4 1833.4 921.7 C1836.3 931.0 1845.1 940.0 1838.8 943.5 C1832.5 947.0 1804.0 949.3 1794.0 943.5 C1783.9 937.7 1781.8 920.0 1776.1 907.2 C1770.3 894.5 1763.0 876.5 1758.1 863.7 C1753.3 850.9 1747.9 837.9 1745.6 827.4 C1743.3 817.0 1738.3 803.0 1743.8 798.4Z M1803.0 798.4 C1807.8 793.8 1831.6 793.8 1838.8 798.4 C1846.0 803.0 1845.8 818.1 1847.8 827.4 C1849.8 836.7 1848.5 847.2 1851.4 856.4 C1854.2 865.7 1862.0 875.0 1865.7 885.5 C1869.4 895.9 1872.4 912.4 1874.7 921.7 C1877.0 931.0 1883.8 940.0 1880.1 943.5 C1876.3 947.0 1858.0 950.5 1851.4 943.5 C1844.8 936.5 1843.7 913.9 1838.8 900.0 C1833.9 886.0 1825.8 868.0 1820.9 856.4 C1816.0 844.8 1811.2 836.7 1808.3 827.4 C1805.5 818.1 1798.1 803.0 1803.0 798.4Z M1842.4 798.4 C1847.6 791.4 1874.0 794.9 1880.1 798.4 C1886.1 801.9 1881.8 813.2 1880.1 820.2 C1878.3 827.1 1869.3 837.3 1869.3 841.9 C1869.3 846.6 1877.8 844.5 1880.1 849.2 C1882.3 853.8 1881.6 862.8 1883.6 871.0 C1885.6 879.1 1889.7 890.7 1892.6 900.0 C1895.5 909.3 1901.6 922.0 1901.6 929.0 C1901.6 936.0 1897.8 947.0 1892.6 943.5 C1887.4 940.0 1875.0 918.8 1869.3 907.2 C1863.6 895.6 1860.2 881.4 1856.7 871.0 C1853.3 860.5 1850.1 853.5 1847.8 841.9 C1845.5 830.3 1837.2 805.4 1842.4 798.4Z M1887.2 798.4 C1891.5 796.1 1914.3 791.4 1919.5 798.4 C1924.7 805.4 1921.8 837.3 1919.5 841.9 C1917.2 846.6 1909.5 832.1 1905.2 827.4 C1900.9 822.8 1895.5 817.6 1892.6 812.9 C1889.7 808.3 1882.9 800.7 1887.2 798.4Z M1892.6 841.9 C1894.6 835.0 1906.2 839.6 1910.5 841.9 C1914.8 844.3 1918.1 844.8 1919.5 856.4 C1920.9 868.0 1922.4 904.0 1919.5 914.5 C1916.6 924.9 1905.0 926.4 1901.6 921.7 C1898.1 917.1 1899.4 898.2 1898.0 885.5 C1896.5 872.7 1890.6 848.9 1892.6 841.9Z M1740.2 871.0 C1741.6 861.7 1746.3 878.5 1749.2 885.5 C1752.0 892.4 1756.1 905.2 1758.1 914.5 C1760.1 923.8 1764.6 938.9 1761.7 943.5 C1758.8 948.1 1743.6 955.1 1740.2 943.5 C1736.8 931.9 1738.8 880.2 1740.2 871.0Z " fill="#9a5628"/>
<g clip-path="url(#jt33c32)"><rect x="1740.2" y="798.4" width="179.3" height="145.1" filter="url(#sp64)" opacity="0.85"/></g>
<g clip-path="url(#jt33c33)"><rect x="1740.2" y="798.4" width="179.3" height="145.1" filter="url(#sp65)" opacity="0.45"/></g>
</g>
<path d="M1763.5 815.8 C1764.1 811.2 1767.2 807.6 1770.7 812.9 C1774.1 818.2 1780.4 835.3 1785.0 849.2 C1789.6 863.1 1795.6 886.0 1799.4 900.0 C1803.1 913.9 1809.2 930.4 1808.3 936.2 C1807.5 942.0 1798.6 944.4 1794.0 936.2 C1789.4 928.1 1783.9 900.6 1779.6 885.5 C1775.3 870.4 1769.7 853.1 1767.1 841.9 C1764.5 830.8 1762.9 820.5 1763.5 815.8Z " fill="#b7b9cf"/>
<g clip-path="url(#jt33c34)"><rect x="1740.2" y="798.4" width="179.3" height="145.1" filter="url(#sp66)" opacity="0.8"/></g>
</g>
<text x="1172.5" y="1024.9" font-size="20.5" text-anchor="middle" transform="rotate(-90 1172.5 1024.9)">E-cadherin</text>
<g clip-path="url(#jt40)">
<rect x="1185.4" y="949.7" width="179.3" height="146.0" fill="#e8e0e3"/>
<path d="M1185.4 1040.2 C1214.1 1031.3 1336.0 1031.3 1364.7 1040.2 C1393.4 1049.1 1393.4 1086.8 1364.7 1095.7 C1336.0 1104.6 1214.1 1104.6 1185.4 1095.7 C1156.7 1086.8 1156.7 1049.1 1185.4 1040.2Z " fill="#dccbd0" opacity="0.7"/>
<g filter="url(#rag89)">
<path d="M1235.6 993.5 C1239.9 985.8 1256.9 983.0 1266.1 981.8 C1275.3 980.7 1284.4 983.2 1293.0 986.2 C1301.6 989.2 1312.7 995.0 1319.9 1000.8 C1327.0 1006.6 1332.1 1016.9 1337.8 1022.7 C1343.5 1028.5 1352.9 1029.1 1355.7 1037.3 C1358.6 1045.5 1362.9 1068.0 1355.7 1073.8 C1348.6 1079.6 1325.3 1073.1 1310.9 1073.8 C1296.6 1074.5 1276.1 1080.5 1266.1 1078.2 C1256.0 1075.8 1252.5 1066.9 1248.2 1059.2 C1243.9 1051.5 1241.2 1040.5 1239.2 1030.0 C1237.2 1019.5 1231.3 1001.2 1235.6 993.5Z " fill="#c2a2a7" opacity="0.95"/>
<g clip-path="url(#jt40c35)"><rect x="1185.4" y="949.7" width="179.3" height="146.0" filter="url(#sp68)" opacity="0.6"/></g>
<g clip-path="url(#jt40c36)"><rect x="1185.4" y="949.7" width="179.3" height="146.0" filter="url(#sp69)" opacity="0.45"/></g>
</g>
<g clip-path="url(#jt40c37)"><rect x="1185.4" y="949.7" width="179.3" height="146.0" filter="url(#sp70)" opacity="0.95"/></g>
<g clip-path="url(#jt40c38)"><rect x="1185.4" y="949.7" width="179.3" height="146.0" filter="url(#sp71)" opacity="0.95"/></g>
<rect x="1185.4" y="949.7" width="179.3" height="146.0" filter="url(#sp72)" opacity="0.35"/>
<ellipse cx="1190.6" cy="1057.0" rx="4.4" ry="6.8" fill="#e9e1e5" stroke="#5e3a48" stroke-width="1.5" transform="rotate(18.471646796792108 1190.6 1057.0)"/>
<ellipse cx="1207.4" cy="1052.6" rx="5.2" ry="8.8" fill="#e9e1e5" stroke="#5e3a48" stroke-width="1.5" transform="rotate(-2.3695111814515712 1207.4 1052.6)"/>
<ellipse cx="1219.8" cy="1057.1" rx="4.6" ry="8.0" fill="#e9e1e5" stroke="#5e3a48" stroke-width="1.5" transform="rotate(4.78319427583228 1219.8 1057.1)"/>
<ellipse cx="1237.9" cy="1057.5" rx="4.7" ry="7.9" fill="#e9e1e5" stroke="#5e3a48" stroke-width="1.5" transform="rotate(-15.455849096041208 1237.9 1057.5)"/>
<ellipse cx="1350.6" cy="1056.8" rx="5.1" ry="8.4" fill="#e9e1e5" stroke="#5e3a48" stroke-width="1.5" transform="rotate(-10.917084593275153 1350.6 1056.8)"/>
<ellipse cx="1362.5" cy="1052.8" rx="5.1" ry="8.6" fill="#e9e1e5" stroke="#5e3a48" stroke-width="1.5" transform="rotate(-1.5271554039409168 1362.5 1052.8)"/>
<ellipse cx="1201.3" cy="1074.6" rx="4.8" ry="7.3" fill="#e9e1e5" stroke="#5e3a48" stroke-width="1.5" transform="rotate(-17.42406750595542 1201.3 1074.6)"/>
<ellipse cx="1214.9" cy="1073.0" rx="5.8" ry="6.1" fill="#e9e1e5" stroke="#5e3a48" stroke-width="1.5" transform="rotate(4.454569906956749 1214.9 1073.0)"/>
<ellipse cx="1228.1" cy="1074.3" rx="5.5" ry="6.2" fill="#e9e1e5" stroke="#5e3a48" stroke-width="1.5" transform="rotate(19.142146300824443 1228.1 1074.3)"/>
<ellipse cx="1248.4" cy="1071.4" rx="6.6" ry="6.8" fill="#e9e1e5" stroke="#5e3a48" stroke-width="1.5" transform="rotate(1.333114478771023 1248.4 1071.4)"/>
<ellipse cx="1262.2" cy="1074.0" rx="4.5" ry="6.0" fill="#e9e1e5" stroke="#5e3a48" stroke-width="1.5" transform="rotate(-14.053027150863278 1262.2 1074.0)"/>
<ellipse cx="1276.9" cy="1074.1" rx="6.1" ry="6.2" fill="#e9e1e5" stroke="#5e3a48" stroke-width="1.5" transform="rotate(9.374614481929306 1276.9 1074.1)"/>
<ellipse cx="1291.7" cy="1069.5" rx="5.5" ry="8.9" fill="#e9e1e5" stroke="#5e3a48" stroke-width="1.5" transform="rotate(16.24080455976288 1291.7 1069.5)"/>
<ellipse cx="1308.8" cy="1074.1" rx="4.8" ry="6.4" fill="#e9e1e5" stroke="#5e3a48" stroke-width="1.5" transform="rotate(18.334714845640107 1308.8 1074.1)"/>
<ellipse cx="1325.8" cy="1070.4" rx="5.2" ry="8.4" fill="#e9e1e5" stroke="#5e3a48" stroke-width="1.5" transform="rotate(-17.699522303964585 1325.8 1070.4)"/>
<ellipse cx="1339.0" cy="1074.1" rx="4.9" ry="7.2" fill="#e9e1e5" stroke="#5e3a48" stroke-width="1.5" transform="rotate(-2.7870696795173124 1339.0 1074.1)"/>
<ellipse cx="1356.3" cy="1071.2" rx="4.9" ry="8.5" fill="#e9e1e5" stroke="#5e3a48" stroke-width="1.5" transform="rotate(10.359740674305364 1356.3 1071.2)"/>
<ellipse cx="1188.3" cy="1087.9" rx="6.4" ry="6.9" fill="#e9e1e5" stroke="#5e3a48" stroke-width="1.5" transform="rotate(11.71105475100915 1188.3 1087.9)"/>
<ellipse cx="1205.5" cy="1089.2" rx="6.0" ry="7.3" fill="#e9e1e5" stroke="#5e3a48" stroke-width="1.5" transform="rotate(1.0029264455477929 1205.5 1089.2)"/>
<ellipse cx="1219.8" cy="1091.9" rx="5.9" ry="6.7" fill="#e9e1e5" stroke="#5e3a48" stroke-width="1.5" transform="rotate(-1.005772276092415 1219.8 1091.9)"/>
<ellipse cx="1238.9" cy="1092.4" rx="4.4" ry="8.9" fill="#e9e1e5" stroke="#5e3a48" stroke-width="1.5" transform="rotate(3.533602944356513 1238.9 1092.4)"/>
<ellipse cx="1251.4" cy="1089.1" rx="6.1" ry="6.2" fill="#e9e1e5" stroke="#5e3a48" stroke-width="1.5" transform="rotate(3.541865502357723 1251.4 1089.1)"/>
<ellipse cx="1270.0" cy="1090.3" rx="4.4" ry="5.9" fill="#e9e1e5" stroke="#5e3a48" stroke-width="1.5" transform="rotate(18.595806098479628 1270.0 1090.3)"/>
<ellipse cx="1283.6" cy="1088.0" rx="5.7" ry="5.9" fill="#e9e1e5" stroke="#5e3a48" stroke-width="1.5" transform="rotate(9.288520322881123 1283.6 1088.0)"/>
<ellipse cx="1302.6" cy="1088.9" rx="5.8" ry="7.5" fill="#e9e1e5" stroke="#5e3a48" stroke-width="1.5" transform="rotate(7.451460882386577 1302.6 1088.9)"/>
<ellipse cx="1315.3" cy="1087.1" rx="4.5" ry="9.0" fill="#e9e1e5" stroke="#5e3a48" stroke-width="1.5" transform="rotate(19.420085394244616 1315.3 1087.1)"/>
<ellipse cx="1331.5" cy="1091.2" rx="4.9" ry="7.9" fill="#e9e1e5" stroke="#5e3a48" stroke-width="1.5" transform="rotate(-4.401688179623964 1331.5 1091.2)"/>
<ellipse cx="1348.9" cy="1092.3" rx="6.5" ry="9.0" fill="#e9e1e5" stroke="#5e3a48" stroke-width="1.5" transform="rotate(13.230506725084695 1348.9 1092.3)"/>
<ellipse cx="1364.2" cy="1088.1" rx="6.4" ry="8.0" fill="#e9e1e5" stroke="#5e3a48" stroke-width="1.5" transform="rotate(-14.244785925989284 1364.2 1088.1)"/>
</g>
<line x1="1198.4" y1="960.7" x2="1215.4" y2="960.7" stroke="#e8e04a" stroke-width="2.6"/>
<g clip-path="url(#jt41)">
<rect x="1370.3" y="949.7" width="179.4" height="146.0" fill="#e6dedd"/>
<path d="M1370.3 949.7 C1399.0 941.5 1521.0 938.0 1549.7 949.7 C1578.4 961.4 1564.1 1012.2 1549.7 1022.7 C1535.3 1033.2 1488.7 1018.9 1460.0 1015.4 C1431.3 1011.9 1384.7 1011.3 1370.3 1000.8 C1355.9 990.3 1341.6 957.9 1370.3 949.7Z " fill="#d6b8a8" opacity="0.75"/>
<rect x="1370.3" y="949.7" width="179.4" height="146.0" filter="url(#sp73)" opacity="0.75"/>
<rect x="1370.3" y="949.7" width="179.4" height="146.0" filter="url(#sp74)" opacity="0.7"/>
<ellipse cx="1386.4" cy="1025.6" rx="14.4" ry="17.5" fill="#eee6e4" stroke="#8e4e2c" stroke-width="3.8"/>
<ellipse cx="1413.4" cy="1022.7" rx="12.6" ry="23.4" fill="#eee6e4" stroke="#8e4e2c" stroke-width="3.8" transform="rotate(20 1413.4 1022.7)"/>
<ellipse cx="1425.9" cy="1063.6" rx="16.1" ry="24.8" fill="#eee6e4" stroke="#8e4e2c" stroke-width="3.8"/>
<ellipse cx="1456.4" cy="1022.7" rx="11.7" ry="14.6" fill="#eee6e4" stroke="#8e4e2c" stroke-width="3.8"/>
<ellipse cx="1469.0" cy="1051.9" rx="14.4" ry="16.1" fill="#eee6e4" stroke="#8e4e2c" stroke-width="3.8"/>
<ellipse cx="1497.7" cy="1066.5" rx="9.9" ry="20.4" fill="#eee6e4" stroke="#8e4e2c" stroke-width="3.8"/>
<ellipse cx="1517.4" cy="1056.3" rx="7.2" ry="11.7" fill="#eee6e4" stroke="#8e4e2c" stroke-width="3.8"/>
<ellipse cx="1540.7" cy="1069.4" rx="9.0" ry="19.0" fill="#eee6e4" stroke="#8e4e2c" stroke-width="3.8"/>
<ellipse cx="1384.7" cy="1091.3" rx="12.6" ry="11.7" fill="#eee6e4" stroke="#8e4e2c" stroke-width="3.8"/>
<ellipse cx="1470.8" cy="1091.3" rx="10.8" ry="8.8" fill="#eee6e4" stroke="#8e4e2c" stroke-width="3.8"/>
<ellipse cx="1388.2" cy="989.1" rx="10.8" ry="16.1" fill="#eee6e4" stroke="#8e4e2c" stroke-width="3.8"/>
<rect x="1370.3" y="949.7" width="179.4" height="146.0" filter="url(#sp75)" opacity="0.3"/>
</g>
<g clip-path="url(#jt42)">
<rect x="1555.2" y="949.7" width="179.3" height="146.0" fill="#e6e6ea"/>
<g filter="url(#rag65)">
<path d="M1558.8 993.5 C1560.5 988.8 1566.7 989.7 1569.5 986.2 C1572.4 982.7 1571.8 975.6 1576.7 971.6 C1581.6 967.6 1593.4 963.7 1600.0 961.4 C1606.6 959.0 1612.2 958.9 1618.0 957.0 C1623.7 955.1 1628.7 950.9 1635.9 949.7 C1643.1 948.5 1657.9 947.4 1662.8 949.7 C1667.7 952.0 1666.9 957.3 1666.4 964.3 C1665.8 971.3 1659.8 985.3 1659.2 993.5 C1658.6 1001.7 1659.9 1008.4 1662.8 1015.4 C1665.6 1022.4 1672.8 1029.1 1677.1 1037.3 C1681.4 1045.5 1686.8 1057.2 1689.7 1066.5 C1692.5 1075.8 1709.4 1091.0 1695.1 1095.7 C1680.7 1100.4 1618.1 1100.4 1600.0 1095.7 C1582.0 1091.0 1587.0 1075.8 1582.1 1066.5 C1577.2 1057.2 1573.3 1045.5 1569.5 1037.3 C1565.8 1029.1 1560.5 1022.4 1558.8 1015.4 C1557.1 1008.4 1557.1 998.2 1558.8 993.5Z M1666.4 967.2 C1668.1 963.2 1676.1 960.7 1680.7 961.4 C1685.3 962.1 1690.8 972.3 1695.1 971.6 C1699.4 970.9 1704.7 954.7 1707.6 957.0 C1710.5 959.3 1713.8 978.0 1713.0 986.2 C1712.1 994.4 1706.0 1006.9 1702.2 1008.1 C1698.5 1009.3 1693.7 994.7 1689.7 993.5 C1685.7 992.3 1680.3 1002.0 1677.1 1000.8 C1674.0 999.6 1671.7 991.6 1670.0 986.2 C1668.2 980.8 1664.6 971.2 1666.4 967.2Z M1680.7 1015.4 C1683.0 1012.6 1693.5 1018.7 1698.6 1022.7 C1703.8 1026.7 1708.7 1033.7 1713.0 1040.2 C1717.3 1046.8 1722.1 1058.9 1725.5 1063.6 C1729.0 1068.3 1733.1 1064.3 1734.5 1069.4 C1735.9 1074.6 1738.8 1091.5 1734.5 1095.7 C1730.2 1099.9 1713.3 1100.4 1707.6 1095.7 C1701.9 1091.0 1702.4 1075.4 1698.6 1066.5 C1694.9 1057.6 1687.2 1048.4 1684.3 1040.2 C1681.4 1032.0 1678.4 1018.2 1680.7 1015.4Z " fill="#b3c1e2"/>
<g clip-path="url(#jt42c39)"><rect x="1555.2" y="949.7" width="179.3" height="146.0" filter="url(#sp77)" opacity="0.9"/></g>
<g clip-path="url(#jt42c40)"><rect x="1555.2" y="949.7" width="179.3" height="146.0" filter="url(#sp78)" opacity="0.6"/></g>
<path d="M1609.0 1011.0 L1623.3 1051.9 L1634.1 1084.0 M1619.7 1008.1 L1637.7 1044.6 L1652.0 1084.0 M1614.4 971.6 L1626.9 1005.2 M1630.5 967.2 L1639.5 993.5 M1573.1 1011.0 L1583.9 1037.3 L1596.4 1073.8 M1603.6 1018.3 L1610.8 1051.9 L1619.7 1088.4 M1644.8 964.3 L1648.4 993.5 M1639.5 1015.4 L1644.8 1051.9 L1653.8 1073.8 " fill="none" stroke="#e2e4ee" stroke-width="1.8" stroke-linecap="round" stroke-linejoin="round" opacity="0.9"/>
<path d="M1619.7 993.5 C1621.5 990.0 1631.5 990.0 1634.1 993.5 C1636.7 997.0 1637.6 1011.9 1635.9 1015.4 C1634.2 1018.9 1625.9 1018.9 1623.3 1015.4 C1620.8 1011.9 1618.0 997.0 1619.7 993.5Z M1582.1 971.6 C1582.7 966.2 1591.5 963.7 1594.6 967.2 C1597.8 970.7 1602.4 988.1 1601.8 993.5 C1601.2 998.9 1594.2 1004.3 1591.1 1000.8 C1587.9 997.3 1581.5 977.0 1582.1 971.6Z " fill="#dfe0e8" opacity="0.8"/>
<path d="M1555.2 1063.6 C1558.1 1057.7 1568.8 1056.4 1573.1 1059.2 C1577.4 1062.0 1581.5 1075.3 1582.1 1081.1 C1582.7 1086.9 1581.0 1093.4 1576.7 1095.7 C1572.4 1098.0 1558.6 1100.8 1555.2 1095.7 C1551.8 1090.6 1552.3 1069.4 1555.2 1063.6Z " fill="#8ea3d6"/>
</g>
</g>
<line x1="1568.2" y1="960.7" x2="1585.2" y2="960.7" stroke="#e8e04a" stroke-width="2.6"/>
<g clip-path="url(#jt43)">
<rect x="1740.2" y="949.7" width="179.3" height="146.0" fill="#e1e2e9"/>
<rect x="1740.2" y="949.7" width="179.3" height="146.0" filter="url(#sp79)" opacity="0.5"/>
<g filter="url(#rag78)">
<path d="M1749.2 949.7 C1756.9 946.2 1789.0 945.0 1797.6 949.7 C1806.2 954.4 1800.7 969.6 1803.0 978.9 C1805.3 988.2 1807.6 998.8 1811.9 1008.1 C1816.2 1017.4 1824.7 1028.0 1829.8 1037.3 C1835.0 1046.6 1841.3 1057.2 1844.2 1066.5 C1847.1 1075.8 1855.8 1091.0 1847.8 1095.7 C1839.7 1100.4 1804.9 1101.5 1794.0 1095.7 C1783.1 1089.9 1783.9 1070.9 1779.6 1059.2 C1775.3 1047.5 1770.5 1033.2 1767.1 1022.7 C1763.7 1012.2 1761.0 1001.7 1758.1 993.5 C1755.3 985.3 1750.6 978.6 1749.2 971.6 C1747.7 964.6 1741.4 953.2 1749.2 949.7Z M1808.3 949.7 C1812.6 946.2 1832.5 946.2 1838.8 949.7 C1845.1 953.2 1844.9 964.6 1847.8 971.6 C1850.6 978.6 1853.3 988.8 1856.7 993.5 C1860.2 998.2 1865.6 998.5 1869.3 1000.8 C1873.0 1003.1 1877.8 1002.3 1880.1 1008.1 C1882.3 1013.9 1882.5 1028.0 1883.6 1037.3 C1884.8 1046.6 1885.8 1057.2 1887.2 1066.5 C1888.7 1075.8 1897.5 1091.0 1892.6 1095.7 C1887.7 1100.4 1864.5 1101.5 1856.7 1095.7 C1849.0 1089.9 1848.5 1070.9 1844.2 1059.2 C1839.9 1047.5 1833.6 1033.2 1829.8 1022.7 C1826.1 1012.2 1823.8 1001.7 1820.9 993.5 C1818.0 985.3 1813.9 978.6 1811.9 971.6 C1809.9 964.6 1804.0 953.2 1808.3 949.7Z M1844.2 949.7 C1847.6 945.0 1866.4 946.2 1869.3 949.7 C1872.2 953.2 1865.6 966.9 1862.1 971.6 C1858.7 976.3 1850.6 982.4 1847.8 978.9 C1844.9 975.4 1840.8 954.4 1844.2 949.7Z M1898.0 1030.0 C1900.6 1026.0 1910.7 1029.7 1914.1 1034.4 C1917.6 1039.1 1920.1 1051.7 1919.5 1059.2 C1918.9 1066.7 1914.0 1081.1 1910.5 1081.1 C1907.1 1081.1 1900.0 1067.4 1898.0 1059.2 C1896.0 1051.0 1895.4 1034.0 1898.0 1030.0Z M1740.2 1030.0 C1743.1 1020.7 1753.8 1031.5 1758.1 1037.3 C1762.4 1043.1 1767.1 1057.2 1767.1 1066.5 C1767.1 1075.8 1762.4 1091.0 1758.1 1095.7 C1753.8 1100.4 1743.1 1106.2 1740.2 1095.7 C1737.3 1085.2 1737.3 1039.3 1740.2 1030.0Z " fill="#98addb"/>
<g clip-path="url(#jt43c41)"><rect x="1740.2" y="949.7" width="179.3" height="146.0" filter="url(#sp81)" opacity="0.85"/></g>
<g clip-path="url(#jt43c42)"><rect x="1740.2" y="949.7" width="179.3" height="146.0" filter="url(#sp82)" opacity="0.6"/></g>
</g>
<path d="M1767.1 957.0 C1767.7 950.0 1775.9 950.0 1779.6 957.0 C1783.4 964.0 1786.1 988.0 1790.4 1000.8 C1794.7 1013.6 1801.7 1025.6 1806.5 1037.3 C1811.4 1049.0 1820.6 1066.8 1820.9 1073.8 C1821.2 1080.8 1812.6 1086.9 1808.3 1081.1 C1804.0 1075.3 1799.2 1050.1 1794.0 1037.3 C1788.8 1024.5 1780.4 1013.6 1776.1 1000.8 C1771.8 988.0 1766.5 964.0 1767.1 957.0Z " fill="#c8cee2"/>
</g>
<rect x="1249.3" y="448.0" width="44.0" height="37.2" fill="none" stroke="#b0222a" stroke-width="1.8"/>
<line x1="1293.3" y1="448.0" x2="1371.8" y2="352.8" stroke="#b0222a" stroke-width="1.8"/>
<line x1="1293.3" y1="485.2" x2="1371.8" y2="499.1" stroke="#b0222a" stroke-width="1.8"/>
<rect x="1608.6" y="374.2" width="44.3" height="36.9" fill="none" stroke="#b0222a" stroke-width="1.8"/>
<line x1="1652.9" y1="374.2" x2="1741.7" y2="352.8" stroke="#b0222a" stroke-width="1.8"/>
<line x1="1652.9" y1="411.1" x2="1741.7" y2="499.1" stroke="#b0222a" stroke-width="1.8"/>
<rect x="1256.2" y="594.4" width="44.4" height="37.3" fill="none" stroke="#b0222a" stroke-width="1.8"/>
<line x1="1300.6" y1="594.4" x2="1371.8" y2="501.4" stroke="#b0222a" stroke-width="1.8"/>
<line x1="1300.6" y1="631.7" x2="1371.8" y2="648.1" stroke="#b0222a" stroke-width="1.8"/>
<rect x="1688.8" y="525.9" width="44.2" height="37.9" fill="none" stroke="#b0222a" stroke-width="1.8"/>
<line x1="1733.0" y1="525.9" x2="1741.7" y2="501.4" stroke="#b0222a" stroke-width="1.8"/>
<line x1="1733.0" y1="563.8" x2="1741.7" y2="648.1" stroke="#b0222a" stroke-width="1.8"/>
<rect x="1238.7" y="738.4" width="43.8" height="38.3" fill="none" stroke="#b0222a" stroke-width="1.8"/>
<line x1="1282.5" y1="738.4" x2="1371.8" y2="649.4" stroke="#b0222a" stroke-width="1.8"/>
<line x1="1282.5" y1="776.7" x2="1371.8" y2="795.5" stroke="#b0222a" stroke-width="1.8"/>
<rect x="1608.7" y="670.5" width="43.8" height="37.0" fill="none" stroke="#b0222a" stroke-width="1.8"/>
<line x1="1652.5" y1="670.5" x2="1741.7" y2="649.4" stroke="#b0222a" stroke-width="1.8"/>
<line x1="1652.5" y1="707.5" x2="1741.7" y2="795.5" stroke="#b0222a" stroke-width="1.8"/>
<rect x="1250.1" y="891.2" width="44.1" height="37.4" fill="none" stroke="#b0222a" stroke-width="1.8"/>
<line x1="1294.2" y1="891.2" x2="1371.8" y2="798.4" stroke="#b0222a" stroke-width="1.8"/>
<line x1="1294.2" y1="928.6" x2="1371.8" y2="945.0" stroke="#b0222a" stroke-width="1.8"/>
<rect x="1608.7" y="820.9" width="45.3" height="37.9" fill="none" stroke="#b0222a" stroke-width="1.8"/>
<line x1="1654.0" y1="820.9" x2="1741.7" y2="798.4" stroke="#b0222a" stroke-width="1.8"/>
<line x1="1654.0" y1="858.8" x2="1741.7" y2="945.0" stroke="#b0222a" stroke-width="1.8"/>
<rect x="1248.8" y="1044.9" width="43.9" height="37.4" fill="none" stroke="#b0222a" stroke-width="1.8"/>
<line x1="1292.7" y1="1044.9" x2="1371.8" y2="949.7" stroke="#b0222a" stroke-width="1.8"/>
<line x1="1292.7" y1="1082.3" x2="1371.8" y2="1097.2" stroke="#b0222a" stroke-width="1.8"/>
<rect x="1618.8" y="970.9" width="44.1" height="37.4" fill="none" stroke="#b0222a" stroke-width="1.8"/>
<line x1="1662.9" y1="970.9" x2="1741.7" y2="949.7" stroke="#b0222a" stroke-width="1.8"/>
<line x1="1662.9" y1="1008.3" x2="1741.7" y2="1097.2" stroke="#b0222a" stroke-width="1.8"/></svg>
</body></html>
